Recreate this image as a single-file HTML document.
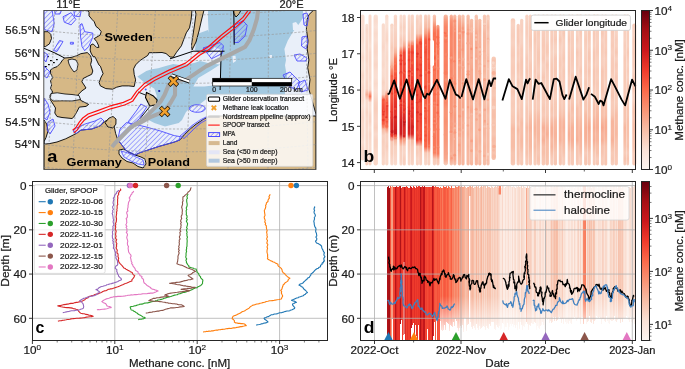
<!DOCTYPE html><html><head><meta charset="utf-8"><style>html,body{margin:0;padding:0;background:#fff;overflow:hidden}svg{display:block;will-change:transform}</style></head><body><svg width="685" height="369" viewBox="0 0 685 369" font-family="Liberation Sans, sans-serif">
<rect x="0.00" y="0.00" width="685.00" height="369.00" fill="#ffffff" />
<clipPath id="clipa"><rect x="43.8" y="10.5" width="272.2" height="158.9"/></clipPath>
<defs><pattern id="hatch" patternUnits="userSpaceOnUse" width="3.4" height="3.4" patternTransform="rotate(45)"><rect width="3.4" height="3.4" fill="none"/><line x1="0" y1="0" x2="0" y2="3.4" stroke="#5a5aff" stroke-width="1.0"/></pattern></defs>
<g clip-path="url(#clipa)">
<rect x="43.80" y="10.50" width="272.20" height="158.90" fill="#e9eff9" />
<polygon points="208.0,10.0 303.0,10.0 303.0,18.0 299.0,24.0 297.5,26.0 292.6,32.6 287.7,40.7 284.4,48.9 286.0,60.0 285.0,65.3 287.4,79.6 285.0,89.1 285.0,95.0 245.0,95.0 232.0,94.0 215.0,97.0 206.5,99.0 200.0,104.0 192.0,106.0 186.0,112.0 182.0,120.0 178.8,123.0 165.0,126.5 154.4,123.0 144.6,118.0 150.0,112.0 154.4,105.9 156.8,96.0 154.4,88.8 144.6,82.7 137.3,76.6 138.7,75.8 146.3,71.0 151.7,69.3 158.2,68.3 165.8,66.1 173.3,63.9 179.8,65.0 189.6,63.9 195.0,62.8 200.0,61.0 210.0,63.5 220.0,64.5 221.5,56.0 222.0,50.0 214.0,47.0 210.0,40.0 208.6,32.0 208.0,20.0" fill="#a3c9e1" stroke="none" stroke-width="1" />
<polygon points="197.0,34.0 208.0,30.0 212.0,40.0 214.0,48.0 208.0,53.0 200.0,54.0 195.0,50.0" fill="#a3c9e1" stroke="none" stroke-width="1" />
<polygon points="193.4,86.6 198.3,78.0 210.5,70.7 220.2,64.6 220.2,80.5 213.0,85.4 204.4,86.6" fill="#e9eff9" stroke="none" stroke-width="1" />
<polygon points="232.5,56.0 235.5,55.7 236.0,61.0 233.0,63.0" fill="#e9eff9" stroke="none" stroke-width="1" />
<polygon points="292.6,23.0 296.0,22.0 299.0,26.0 297.0,31.0 293.0,30.0" fill="#e9eff9" stroke="none" stroke-width="1" />
<polygon points="269.5,55.0 272.0,55.0 272.0,58.0 269.5,58.0" fill="#e9eff9" stroke="none" stroke-width="1" />
<polygon points="87.2,10.0 89.0,12.3 89.0,15.8 91.9,19.3 94.2,21.7 96.0,26.4 98.9,28.7 101.2,31.6 100.1,35.1 96.0,37.5 94.2,38.6 96.6,41.5 98.3,45.0 98.9,47.4 96.6,47.4 93.1,43.9 90.7,45.0 90.1,50.0 91.0,53.0 93.1,56.7 95.0,56.8 98.9,64.9 100.4,66.2 103.1,73.7 101.1,77.1 99.1,82.5 100.4,85.9 105.8,88.6 112.6,89.2 116.7,87.2 122.1,85.9 128.8,85.9 134.2,86.5 135.6,79.8 134.2,74.4 133.6,68.9 135.6,64.9 139.7,60.8 143.7,58.1 147.8,55.4 149.1,52.7 155.9,52.7 162.0,52.5 166.0,53.5 170.0,57.0 173.3,57.2 176.5,52.3 181.4,45.8 183.8,39.3 186.3,32.8 189.5,27.9 191.1,19.8 192.0,10.0" fill="#d6b886" stroke="#000" stroke-width="0.9" stroke-linejoin="round"/>
<polygon points="195.0,10.0 204.0,10.0 201.5,20.0 199.0,31.0 196.0,42.0 192.0,50.0 191.5,45.0 193.0,35.0 194.5,25.0 196.0,14.0" fill="#d6b886" stroke="#000" stroke-width="0.9" stroke-linejoin="round"/>
<polygon points="44.0,31.7 48.1,31.7 50.8,34.4 51.5,38.5 49.4,43.9 45.4,46.6 44.0,46.6" fill="#d6b886" stroke="#000" stroke-width="0.9" stroke-linejoin="round"/>
<polygon points="64.6,58.0 71.1,57.5 76.5,55.8 80.8,53.7 87.3,52.6 90.6,55.8 91.7,60.2 90.6,64.5 92.8,71.0 91.7,74.3 87.3,76.4 83.0,78.6 81.9,81.8 84.1,85.0 86.0,88.0 82.0,90.8 77.9,94.9 80.6,100.3 84.7,102.4 88.7,104.4 86.0,106.4 79.3,107.1 76.5,112.5 73.8,117.0 72.0,118.5 67.0,118.0 62.0,117.5 57.0,116.5 54.8,113.0 55.5,108.0 53.0,104.0 50.5,100.0 50.0,95.0 52.7,92.0 50.5,88.4 51.6,85.0 50.5,80.8 52.7,77.5 50.5,73.2 50.5,69.9 53.8,67.8 57.0,66.7 60.3,63.4 62.4,60.2" fill="#d6b886" stroke="#000" stroke-width="0.9" stroke-linejoin="round"/>
<polygon points="51.0,93.5 57.2,92.8 65.0,94.0 72.0,94.5 79.0,95.5 80.5,99.5 72.0,101.0 62.0,100.8 53.0,101.0 50.0,98.0" fill="#e9eff9" stroke="#000" stroke-width="0.8" stroke-linejoin="round"/>
<polygon points="68.0,60.0 72.0,59.0 76.0,60.0 78.0,64.0 77.0,70.0 74.0,72.0 71.0,68.0 69.0,64.0" fill="#e9eff9" stroke="#000" stroke-width="0.8" />
<rect x="47" y="56" width="1.8" height="1.2" fill="#000"/>
<rect x="50" y="60" width="1.8" height="1.2" fill="#000"/>
<rect x="53" y="62" width="1.8" height="1.2" fill="#000"/>
<rect x="56" y="59" width="1.8" height="1.2" fill="#000"/>
<rect x="48" y="64" width="1.8" height="1.2" fill="#000"/>
<rect x="45" y="66" width="1.8" height="1.2" fill="#000"/>
<polygon points="146.5,92.4 153.0,95.7 157.1,99.8 156.5,104.8 149.8,105.9 145.5,97.5" fill="#d6b886" stroke="#000" stroke-width="1.1" stroke-linejoin="round"/>
<polyline points="149.8,106.5 140.0,118.7" fill="none" stroke="#000" stroke-width="0.9" />
<polyline points="138.0,92.0 145.7,95.1" fill="none" stroke="#000" stroke-width="0.9" />
<polygon points="44.0,120.0 46.7,124.1 48.1,130.8 46.0,137.6 44.0,141.7 44.0,144.2 50.0,143.5 57.0,142.0 65.7,138.8 76.5,133.4 80.9,130.1 91.7,129.0 100.4,125.8 104.7,121.5 109.1,119.3 113.4,122.5 115.6,133.4 117.8,139.9 122.1,145.3 126.4,150.7 135.1,155.1 139.4,152.9 146.0,150.7 159.0,146.4 174.2,142.1 180.0,139.9 184.6,134.5 190.4,128.8 196.1,124.2 203.0,119.6 207.2,117.3 210.0,116.0 316.0,116.0 316.0,172.0 44.0,172.0" fill="#d6b886" stroke="#000" stroke-width="0.9" stroke-linejoin="round"/>
<polygon points="105.0,122.7 109.1,118.0 113.0,116.5 116.0,119.0 115.9,124.1 113.0,128.0 108.0,127.0" fill="#d6b886" stroke="#000" stroke-width="0.9" stroke-linejoin="round"/>
<polygon points="119.0,150.0 124.0,149.0 129.0,152.5 135.0,155.0 141.0,157.0 145.0,159.0 146.0,164.0 143.0,168.0 138.0,166.5 133.0,163.0 127.0,161.5 122.0,158.0 119.0,154.0" fill="#e9eff9" stroke="#000" stroke-width="0.9" stroke-linejoin="round"/>
<polygon points="121.0,151.0 128.0,153.0 136.0,157.0 143.0,160.0 144.0,165.0 138.0,164.0 131.0,161.0 124.0,157.0" fill="url(#hatch)" stroke="#4d4dff" stroke-width="0.8" />
<polygon points="313.7,10.0 316.5,10.0 316.5,116.0 310.5,95.0 308.9,89.1 310.0,79.6 307.7,67.7 308.9,60.0 307.2,48.9 308.0,40.7 306.4,29.3 307.2,19.5 308.9,14.7" fill="#d6b886" stroke="#000" stroke-width="0.9" stroke-linejoin="round"/>
<polygon points="233.0,10.0 241.0,10.0 239.0,14.0 236.0,17.0 234.0,14.0" fill="#d6b886" stroke="#000" stroke-width="0.9" stroke-linejoin="round"/>
<polygon points="44.0,10.0 52.1,10.0 54.2,23.6 52.1,31.7 46.7,30.3 44.0,29.0" fill="url(#hatch)" stroke="#4d4dff" stroke-width="0.9" stroke-linejoin="round"/>
<polygon points="54.8,10.0 61.6,10.0 60.0,14.0 55.0,14.0" fill="url(#hatch)" stroke="#4d4dff" stroke-width="0.9" stroke-linejoin="round"/>
<polygon points="63.0,16.8 71.1,12.7 75.9,19.5 71.1,24.9 64.3,22.2" fill="url(#hatch)" stroke="#4d4dff" stroke-width="0.9" stroke-linejoin="round"/>
<polygon points="73.8,10.0 81.3,10.0 80.0,16.8 74.5,16.0" fill="url(#hatch)" stroke="#4d4dff" stroke-width="0.9" stroke-linejoin="round"/>
<polygon points="53.5,50.5 59.5,40.5 63.0,41.5 57.0,51.5" fill="url(#hatch)" stroke="#4d4dff" stroke-width="0.9" stroke-linejoin="round"/>
<polygon points="70.4,42.3 73.4,42.3 73.4,44.1 70.4,44.1" fill="url(#hatch)" stroke="#4d4dff" stroke-width="0.9" stroke-linejoin="round"/>
<polygon points="79.9,24.9 82.0,23.6 84.7,31.7 92.8,33.1 92.8,37.1 88.7,46.6 84.7,50.7 82.0,46.6 80.6,37.1" fill="url(#hatch)" stroke="#4d4dff" stroke-width="0.9" stroke-linejoin="round"/>
<polygon points="44.0,52.0 48.0,55.0 46.0,62.0 44.0,60.0" fill="url(#hatch)" stroke="#4d4dff" stroke-width="0.9" stroke-linejoin="round"/>
<polygon points="44.0,66.0 50.0,72.0 47.0,78.0 44.0,76.0" fill="url(#hatch)" stroke="#4d4dff" stroke-width="0.9" stroke-linejoin="round"/>
<polygon points="44.0,98.0 48.0,104.0 50.0,112.0 47.0,120.0 44.0,118.0" fill="url(#hatch)" stroke="#4d4dff" stroke-width="0.9" stroke-linejoin="round"/>
<polygon points="48.0,122.0 53.0,119.0 55.0,126.0 50.0,134.0 47.0,130.0" fill="url(#hatch)" stroke="#4d4dff" stroke-width="0.9" stroke-linejoin="round"/>
<polygon points="76.5,128.0 85.0,124.0 95.0,121.0 101.0,118.0 104.0,121.0 100.0,125.8 91.7,129.0 80.9,130.1 76.5,133.4 73.0,131.0" fill="url(#hatch)" stroke="#4d4dff" stroke-width="0.9" stroke-linejoin="round"/>
<polygon points="128.0,122.0 137.0,110.0 140.8,104.0 146.7,106.9 139.3,118.8 132.0,125.0" fill="url(#hatch)" stroke="#4d4dff" stroke-width="0.9" stroke-linejoin="round"/>
<polygon points="120.0,129.0 126.4,122.5 146.0,126.9 161.1,131.2 174.2,135.6 180.0,136.6 180.0,139.9 174.2,142.1 159.0,146.4 146.0,150.7 139.4,152.9 135.1,155.1 126.4,150.7 122.1,145.3 117.8,139.9" fill="url(#hatch)" stroke="#4d4dff" stroke-width="0.9" stroke-linejoin="round"/>
<polygon points="203.0,48.0 220.1,42.5 223.4,45.8 222.3,53.4 211.5,58.8 208.2,54.5" fill="url(#hatch)" stroke="#4d4dff" stroke-width="0.9" stroke-linejoin="round"/>
<polygon points="234.2,25.2 242.9,20.8 247.2,25.2 245.1,36.0 238.6,42.5 234.2,42.5" fill="url(#hatch)" stroke="#4d4dff" stroke-width="0.9" stroke-linejoin="round"/>
<polygon points="303.0,14.0 307.0,13.0 308.5,18.0 307.0,26.0 304.0,25.0" fill="url(#hatch)" stroke="#4d4dff" stroke-width="0.9" stroke-linejoin="round"/>
<polygon points="302.0,37.0 306.5,36.0 308.0,42.0 306.0,49.0 301.5,46.0" fill="url(#hatch)" stroke="#4d4dff" stroke-width="0.9" stroke-linejoin="round"/>
<polygon points="294.0,55.0 300.0,54.0 307.0,58.0 306.0,61.0 297.0,61.0" fill="url(#hatch)" stroke="#4d4dff" stroke-width="0.9" stroke-linejoin="round"/>
<polygon points="283.0,75.0 290.0,72.0 300.0,82.0 296.0,90.0 289.0,86.0" fill="url(#hatch)" stroke="#4d4dff" stroke-width="0.9" stroke-linejoin="round"/>
<polygon points="298.0,83.0 305.0,80.0 308.0,90.0 301.0,92.0" fill="url(#hatch)" stroke="#4d4dff" stroke-width="0.9" stroke-linejoin="round"/>
<ellipse cx="197.3" cy="108.5" rx="8" ry="3.8" fill="url(#hatch)" stroke="#4d4dff" stroke-width="0.9"/>
<polygon points="180.0,136.0 186.0,131.0 192.0,125.5 200.0,120.0 207.0,116.5 207.0,119.5 201.0,123.0 195.0,128.0 190.0,133.0 184.0,138.5" fill="url(#hatch)" stroke="#4d4dff" stroke-width="0.8" />
<line x1="54.7" y1="10.5" x2="48" y2="169.4" stroke="#9a9a9a" stroke-width="0.7" stroke-dasharray="2.2,1.6" fill="none"/>
<line x1="79.6" y1="10.5" x2="72.6" y2="169.4" stroke="#9a9a9a" stroke-width="0.7" stroke-dasharray="2.2,1.6" fill="none"/>
<line x1="117.8" y1="10.5" x2="108" y2="169.4" stroke="#9a9a9a" stroke-width="0.7" stroke-dasharray="2.2,1.6" fill="none"/>
<line x1="155.5" y1="10.5" x2="144.5" y2="169.4" stroke="#9a9a9a" stroke-width="0.7" stroke-dasharray="2.2,1.6" fill="none"/>
<line x1="193.2" y1="10.5" x2="186" y2="169.4" stroke="#9a9a9a" stroke-width="0.7" stroke-dasharray="2.2,1.6" fill="none"/>
<line x1="231" y1="10.5" x2="228" y2="169.4" stroke="#9a9a9a" stroke-width="0.7" stroke-dasharray="2.2,1.6" fill="none"/>
<line x1="268.5" y1="10.5" x2="268" y2="169.4" stroke="#9a9a9a" stroke-width="0.7" stroke-dasharray="2.2,1.6" fill="none"/>
<line x1="306" y1="10.5" x2="308" y2="169.4" stroke="#9a9a9a" stroke-width="0.7" stroke-dasharray="2.2,1.6" fill="none"/>
<path d="M44,7.7 Q180,22.3 316,7.7" stroke="#9a9a9a" stroke-width="0.7" stroke-dasharray="2.2,1.6" fill="none"/>
<path d="M44,30.5 Q180,45.1 316,30.5" stroke="#9a9a9a" stroke-width="0.7" stroke-dasharray="2.2,1.6" fill="none"/>
<path d="M44,53.3 Q180,67.9 316,53.3" stroke="#9a9a9a" stroke-width="0.7" stroke-dasharray="2.2,1.6" fill="none"/>
<path d="M44,76.1 Q180,90.7 316,76.1" stroke="#9a9a9a" stroke-width="0.7" stroke-dasharray="2.2,1.6" fill="none"/>
<path d="M44,98.9 Q180,113.5 316,98.9" stroke="#9a9a9a" stroke-width="0.7" stroke-dasharray="2.2,1.6" fill="none"/>
<path d="M44,121.7 Q180,136.3 316,121.7" stroke="#9a9a9a" stroke-width="0.7" stroke-dasharray="2.2,1.6" fill="none"/>
<path d="M44,144.5 Q180,159.1 316,144.5" stroke="#9a9a9a" stroke-width="0.7" stroke-dasharray="2.2,1.6" fill="none"/>
<path d="M44,167.3 Q180,181.9 316,167.3" stroke="#9a9a9a" stroke-width="0.7" stroke-dasharray="2.2,1.6" fill="none"/>
<polyline points="170.0,58.8 180.0,55.6 193.0,51.2 224.5,51.2" fill="none" stroke="#000" stroke-width="1.0" />
<line x1="221.20" y1="51.20" x2="220.10" y2="90.00" stroke="#000" stroke-width="1.0" />
<line x1="233.80" y1="10.00" x2="234.20" y2="44.70" stroke="#000" stroke-width="1.0" />
<polyline points="44.0,48.3 55.0,53.0 64.6,58.0" fill="none" stroke="#000" stroke-width="1.0" />
<polyline points="258.1,10 257,18.7 253.8,29.5 249.4,40.4 245.1,46.9 232.1,53.4 219,59.9 206,66.4 193,75.1 186.5,79.4 178,81 173.2,81.2 168.5,85.4 164.5,95 161,101 154.2,108.4 142.3,120.3 134.8,124.8 130.3,127.8 122.9,135.2 115.4,142.7 112,147" stroke="#a8a8a8" stroke-width="4.1" fill="none" stroke-linejoin="round" stroke-linecap="butt"/>
<polyline points="173.2,81.2 175.1,85.4 175,95 171,102 164.6,111.4 149.7,117.4 139.3,123.3 134.8,124.8" stroke="#a8a8a8" stroke-width="4.1" fill="none" stroke-linejoin="round" stroke-linecap="butt"/>
<polyline points="249.4,8.7 242.9,17.4 234.2,25.0 221.2,35.2 208.2,46.7 198.4,52.7 185.5,63.1 168.4,70.4 153.8,77.7 144.0,83.8 136.7,91.1 131.4,98.7 123.4,102.4 109.4,106.2 97.6,110.6 88.1,114.0 82.7,118.0 79.3,122.1 75.9,127.5 72.6,130.2" fill="none" stroke="#ff1010" stroke-width="1.2" stroke-linejoin="round"/>
<polyline points="250.6,11.3 244.1,20.0 235.4,27.6 222.4,37.8 209.4,49.3 199.6,55.3 186.7,65.7 169.6,73.0 155.0,80.3 145.2,86.4 137.9,93.7 132.6,101.3 124.6,105.0 110.6,108.8 98.8,113.2 89.3,116.6 83.9,120.6 80.5,124.7 77.1,130.1 73.8,132.8" fill="none" stroke="#ff1010" stroke-width="1.2" stroke-linejoin="round"/>
<line x1="171.50" y1="75.30" x2="189.50" y2="81.80" stroke="#111" stroke-width="3.6" />
<line x1="171.50" y1="75.10" x2="189.50" y2="81.50" stroke="#ffffff" stroke-width="2.0" />
<circle cx="159.2" cy="91" r="1.1" fill="#1010a0"/><circle cx="145.7" cy="89.4" r="1" fill="#5060ff"/>
<line x1="170.50" y1="78.30" x2="176.30" y2="84.10" stroke="#1a1000" stroke-width="4.0" stroke-linecap="square"/>
<line x1="170.50" y1="84.10" x2="176.30" y2="78.30" stroke="#1a1000" stroke-width="4.0" stroke-linecap="square"/>
<line x1="170.50" y1="78.30" x2="176.30" y2="84.10" stroke="#f2a12e" stroke-width="2.7" stroke-linecap="square"/>
<line x1="170.50" y1="84.10" x2="176.30" y2="78.30" stroke="#f2a12e" stroke-width="2.7" stroke-linecap="square"/>
<line x1="161.80" y1="108.60" x2="167.60" y2="114.40" stroke="#1a1000" stroke-width="4.0" stroke-linecap="square"/>
<line x1="161.80" y1="114.40" x2="167.60" y2="108.60" stroke="#1a1000" stroke-width="4.0" stroke-linecap="square"/>
<line x1="161.80" y1="108.60" x2="167.60" y2="114.40" stroke="#f2a12e" stroke-width="2.7" stroke-linecap="square"/>
<line x1="161.80" y1="114.40" x2="167.60" y2="108.60" stroke="#f2a12e" stroke-width="2.7" stroke-linecap="square"/>
</g>
<rect x="212.70" y="78.30" width="79.00" height="7.70" fill="#ffffff" stroke="#000" stroke-width="0.7"/>
<rect x="212.70" y="78.30" width="39.10" height="3.85" fill="#000" />
<rect x="251.80" y="82.15" width="39.90" height="3.85" fill="#000" />
<text x="214.30" y="92.30" font-size="6.45" text-anchor="middle" font-weight="normal" fill="#1a1a1a" stroke="#1a1a1a" stroke-width="0.22" textLength="3.82" lengthAdjust="spacingAndGlyphs">0</text>
<text x="251.80" y="92.30" font-size="6.45" text-anchor="middle" font-weight="normal" fill="#1a1a1a" stroke="#1a1a1a" stroke-width="0.22" textLength="11.45" lengthAdjust="spacingAndGlyphs">100</text>
<text x="280.00" y="92.30" font-size="6.45" text-anchor="start" font-weight="normal" fill="#1a1a1a" stroke="#1a1a1a" stroke-width="0.22" textLength="22.68" lengthAdjust="spacingAndGlyphs">200 km</text>
<rect x="206.5" y="94.3" width="106.3" height="72.1" rx="1.5" fill="#ffffff" fill-opacity="0.82" stroke="#d0d0d0" stroke-width="0.7"/>
<rect x="208.40" y="97.00" width="11.20" height="4.20" fill="#ffffff" stroke="#000" stroke-width="1.1" rx="1"/>
<line x1="211.70" y1="105.60" x2="216.10" y2="110.00" stroke="#f2a12e" stroke-width="1.9" />
<line x1="211.70" y1="110.00" x2="216.10" y2="105.60" stroke="#f2a12e" stroke-width="1.9" />
<line x1="208.20" y1="116.70" x2="219.70" y2="116.70" stroke="#cfcfcf" stroke-width="2.2" />
<line x1="208.20" y1="125.10" x2="219.70" y2="125.10" stroke="#ff1010" stroke-width="1.1" />
<rect x="208.60" y="132.60" width="11.00" height="3.90" fill="url(#hatch)" stroke="#4d4dff" stroke-width="1"/>
<rect x="208.60" y="141.10" width="11.00" height="4.00" fill="#d6b990" />
<rect x="208.60" y="150.30" width="11.00" height="4.00" fill="#e4e6f6" />
<rect x="208.60" y="158.70" width="11.00" height="4.00" fill="#b2c8df" />
<text x="222.80" y="101.00" font-size="6.40" text-anchor="start" font-weight="normal" fill="#1a1a1a" stroke="#1a1a1a" stroke-width="0.22" textLength="81.33" lengthAdjust="spacingAndGlyphs">Glider observation transect</text>
<text x="222.80" y="109.70" font-size="6.40" text-anchor="start" font-weight="normal" fill="#1a1a1a" stroke="#1a1a1a" stroke-width="0.22" textLength="65.77" lengthAdjust="spacingAndGlyphs">Methane leak location</text>
<text x="222.80" y="118.60" font-size="6.40" text-anchor="start" font-weight="normal" fill="#1a1a1a" stroke="#1a1a1a" stroke-width="0.22" textLength="87.59" lengthAdjust="spacingAndGlyphs">Nordstream pipeline (approx)</text>
<text x="222.80" y="127.00" font-size="6.40" text-anchor="start" font-weight="normal" fill="#1a1a1a" stroke="#1a1a1a" stroke-width="0.22" textLength="46.77" lengthAdjust="spacingAndGlyphs">SPOOP transect</text>
<text x="222.80" y="136.40" font-size="6.40" text-anchor="start" font-weight="normal" fill="#1a1a1a" stroke="#1a1a1a" stroke-width="0.22" textLength="12.41" lengthAdjust="spacingAndGlyphs">MPA</text>
<text x="222.80" y="145.00" font-size="6.40" text-anchor="start" font-weight="normal" fill="#1a1a1a" stroke="#1a1a1a" stroke-width="0.22" textLength="14.51" lengthAdjust="spacingAndGlyphs">Land</text>
<text x="222.80" y="154.20" font-size="6.40" text-anchor="start" font-weight="normal" fill="#1a1a1a" stroke="#1a1a1a" stroke-width="0.22" textLength="54.63" lengthAdjust="spacingAndGlyphs">Sea (&lt;50 m deep)</text>
<text x="222.80" y="162.60" font-size="6.40" text-anchor="start" font-weight="normal" fill="#1a1a1a" stroke="#1a1a1a" stroke-width="0.22" textLength="54.63" lengthAdjust="spacingAndGlyphs">Sea (&gt;50 m deep)</text>
<text x="104.60" y="40.80" font-size="11.72" text-anchor="start" font-weight="bold" fill="#000" textLength="48.27" lengthAdjust="spacingAndGlyphs">Sweden</text>
<text x="66.60" y="165.60" font-size="11.72" text-anchor="start" font-weight="bold" fill="#000" textLength="55.29" lengthAdjust="spacingAndGlyphs">Germany</text>
<text x="147.80" y="165.60" font-size="11.72" text-anchor="start" font-weight="bold" fill="#000" textLength="42.13" lengthAdjust="spacingAndGlyphs">Poland</text>
<text x="47.30" y="161.80" font-size="15.60" text-anchor="start" font-weight="bold" fill="#000" textLength="10.12" lengthAdjust="spacingAndGlyphs">a</text>
<rect x="43.8" y="10.5" width="272.2" height="158.9" fill="none" stroke="#444" stroke-width="0.9"/>
<text x="68.40" y="7.70" font-size="10.75" text-anchor="middle" font-weight="normal" fill="#1a1a1a" stroke="#1a1a1a" stroke-width="0.22" textLength="24.04" lengthAdjust="spacingAndGlyphs">11°E</text>
<text x="291.60" y="7.70" font-size="10.75" text-anchor="middle" font-weight="normal" fill="#1a1a1a" stroke="#1a1a1a" stroke-width="0.22" textLength="24.04" lengthAdjust="spacingAndGlyphs">20°E</text>
<text x="40.10" y="34.40" font-size="10.75" text-anchor="end" font-weight="normal" fill="#1a1a1a" stroke="#1a1a1a" stroke-width="0.22" textLength="34.75" lengthAdjust="spacingAndGlyphs">56.5°N</text>
<text x="40.10" y="57.20" font-size="10.75" text-anchor="end" font-weight="normal" fill="#1a1a1a" stroke="#1a1a1a" stroke-width="0.22" textLength="25.21" lengthAdjust="spacingAndGlyphs">56°N</text>
<text x="40.10" y="80.00" font-size="10.75" text-anchor="end" font-weight="normal" fill="#1a1a1a" stroke="#1a1a1a" stroke-width="0.22" textLength="34.75" lengthAdjust="spacingAndGlyphs">55.5°N</text>
<text x="40.10" y="102.80" font-size="10.75" text-anchor="end" font-weight="normal" fill="#1a1a1a" stroke="#1a1a1a" stroke-width="0.22" textLength="25.21" lengthAdjust="spacingAndGlyphs">55°N</text>
<text x="40.10" y="125.60" font-size="10.75" text-anchor="end" font-weight="normal" fill="#1a1a1a" stroke="#1a1a1a" stroke-width="0.22" textLength="34.75" lengthAdjust="spacingAndGlyphs">54.5°N</text>
<text x="40.10" y="148.40" font-size="10.75" text-anchor="end" font-weight="normal" fill="#1a1a1a" stroke="#1a1a1a" stroke-width="0.22" textLength="25.21" lengthAdjust="spacingAndGlyphs">54°N</text>
<defs>
<linearGradient id="gb0" x1="0" y1="0" x2="0" y2="1"><stop offset="0.000" stop-color="#fae0d4"/><stop offset="0.042" stop-color="#fadccf"/><stop offset="0.083" stop-color="#faded2"/><stop offset="0.125" stop-color="#f9dbce"/><stop offset="0.167" stop-color="#f9dbcd"/><stop offset="0.208" stop-color="#fae1d6"/><stop offset="0.250" stop-color="#fae2d6"/><stop offset="0.292" stop-color="#f9d8ca"/><stop offset="0.333" stop-color="#fadfd2"/><stop offset="0.375" stop-color="#fadfd2"/><stop offset="0.417" stop-color="#f9d6c7"/><stop offset="0.458" stop-color="#fadcce"/><stop offset="0.500" stop-color="#f9d7c9"/><stop offset="0.542" stop-color="#f9d9cb"/><stop offset="0.583" stop-color="#f9d8c9"/><stop offset="0.625" stop-color="#fadfd3"/><stop offset="0.667" stop-color="#f9d9cb"/><stop offset="0.708" stop-color="#f9d6c7"/><stop offset="0.750" stop-color="#f9dacc"/><stop offset="0.792" stop-color="#f9d8c9"/><stop offset="0.833" stop-color="#f9d8ca"/><stop offset="0.875" stop-color="#fadfd3"/><stop offset="0.917" stop-color="#f9d7c8"/><stop offset="0.958" stop-color="#f9d9cb"/><stop offset="1.000" stop-color="#fadccf"/></linearGradient>
<linearGradient id="gb1" x1="0" y1="0" x2="0" y2="1"><stop offset="0.000" stop-color="#fae2d6"/><stop offset="0.042" stop-color="#f9d8ca"/><stop offset="0.083" stop-color="#fadccf"/><stop offset="0.125" stop-color="#f9d9cb"/><stop offset="0.167" stop-color="#f9d7c9"/><stop offset="0.208" stop-color="#f9d9cb"/><stop offset="0.250" stop-color="#f9d6c7"/><stop offset="0.292" stop-color="#fadccf"/><stop offset="0.333" stop-color="#f9d7c9"/><stop offset="0.375" stop-color="#f9dbce"/><stop offset="0.417" stop-color="#f9d5c6"/><stop offset="0.458" stop-color="#f9d6c7"/><stop offset="0.500" stop-color="#f7ae95"/><stop offset="0.542" stop-color="#f9dbce"/><stop offset="0.583" stop-color="#faddd0"/><stop offset="0.625" stop-color="#f9d4c4"/><stop offset="0.667" stop-color="#f9dacc"/><stop offset="0.708" stop-color="#f9d7c9"/><stop offset="0.750" stop-color="#f9dbcd"/><stop offset="0.792" stop-color="#f9d8ca"/><stop offset="0.833" stop-color="#f9d9cb"/><stop offset="0.875" stop-color="#f9dacc"/><stop offset="0.917" stop-color="#f9d7c8"/><stop offset="0.958" stop-color="#f9d6c7"/><stop offset="1.000" stop-color="#f8d2c2"/></linearGradient>
<linearGradient id="gb2" x1="0" y1="0" x2="0" y2="1"><stop offset="0.000" stop-color="#f9dbcd"/><stop offset="0.042" stop-color="#f9d8c9"/><stop offset="0.083" stop-color="#f9d8ca"/><stop offset="0.125" stop-color="#f9d7c8"/><stop offset="0.167" stop-color="#f9dacc"/><stop offset="0.208" stop-color="#fae0d3"/><stop offset="0.250" stop-color="#f9d7c9"/><stop offset="0.292" stop-color="#f9d6c7"/><stop offset="0.333" stop-color="#f9d6c7"/><stop offset="0.375" stop-color="#f9dacc"/><stop offset="0.417" stop-color="#f9d8ca"/><stop offset="0.458" stop-color="#faded1"/><stop offset="0.500" stop-color="#f9d6c7"/><stop offset="0.542" stop-color="#fa7555"/><stop offset="0.583" stop-color="#fadccf"/><stop offset="0.625" stop-color="#fadfd2"/><stop offset="0.667" stop-color="#f9d5c6"/><stop offset="0.708" stop-color="#f9d3c4"/><stop offset="0.750" stop-color="#faded1"/><stop offset="0.792" stop-color="#f9d5c6"/><stop offset="0.833" stop-color="#f9d9cb"/><stop offset="0.875" stop-color="#fadccf"/><stop offset="0.917" stop-color="#f9dacc"/><stop offset="0.958" stop-color="#f9d4c5"/><stop offset="1.000" stop-color="#f8d3c3"/></linearGradient>
<linearGradient id="gb3" x1="0" y1="0" x2="0" y2="1"><stop offset="0.000" stop-color="#fae2d6"/><stop offset="0.042" stop-color="#f9dbce"/><stop offset="0.083" stop-color="#fae1d6"/><stop offset="0.125" stop-color="#f9dacc"/><stop offset="0.167" stop-color="#faded1"/><stop offset="0.208" stop-color="#f9d7c8"/><stop offset="0.250" stop-color="#f9d6c7"/><stop offset="0.292" stop-color="#f9dbcd"/><stop offset="0.333" stop-color="#f9d5c6"/><stop offset="0.375" stop-color="#faddd0"/><stop offset="0.417" stop-color="#fadfd3"/><stop offset="0.458" stop-color="#f9d9cb"/><stop offset="0.500" stop-color="#fadfd3"/><stop offset="0.542" stop-color="#f9d9cb"/><stop offset="0.583" stop-color="#f8d0bf"/><stop offset="0.625" stop-color="#f8cdbb"/><stop offset="0.667" stop-color="#f8d2c2"/><stop offset="0.708" stop-color="#f9d4c5"/><stop offset="0.750" stop-color="#f8cfbe"/><stop offset="0.792" stop-color="#f9d9cb"/><stop offset="0.833" stop-color="#f8d2c2"/><stop offset="0.875" stop-color="#f8d3c2"/><stop offset="0.917" stop-color="#f9d9ca"/><stop offset="0.958" stop-color="#f9d8c9"/><stop offset="1.000" stop-color="#f9d7c8"/></linearGradient>
<linearGradient id="gb4" x1="0" y1="0" x2="0" y2="1"><stop offset="0.000" stop-color="#f9dbcd"/><stop offset="0.042" stop-color="#f9dbcd"/><stop offset="0.083" stop-color="#f9dbcd"/><stop offset="0.125" stop-color="#f9dacc"/><stop offset="0.167" stop-color="#f9d5c6"/><stop offset="0.208" stop-color="#f9dacc"/><stop offset="0.250" stop-color="#f9dacd"/><stop offset="0.292" stop-color="#f9d7c8"/><stop offset="0.333" stop-color="#fadccf"/><stop offset="0.375" stop-color="#f9dbcd"/><stop offset="0.417" stop-color="#f8d2c2"/><stop offset="0.458" stop-color="#f9d7c9"/><stop offset="0.500" stop-color="#f8cdbb"/><stop offset="0.542" stop-color="#f85e42"/><stop offset="0.583" stop-color="#f44f39"/><stop offset="0.625" stop-color="#f14431"/><stop offset="0.667" stop-color="#f7593f"/><stop offset="0.708" stop-color="#f85e42"/><stop offset="0.750" stop-color="#f7bca5"/><stop offset="0.792" stop-color="#f8d2c2"/><stop offset="0.833" stop-color="#f8cebc"/><stop offset="0.875" stop-color="#f8d2c1"/><stop offset="0.917" stop-color="#f8d1c0"/><stop offset="0.958" stop-color="#f9d7c8"/><stop offset="1.000" stop-color="#f9d5c5"/></linearGradient>
<linearGradient id="gb5" x1="0" y1="0" x2="0" y2="1"><stop offset="0.000" stop-color="#f9dacc"/><stop offset="0.042" stop-color="#fae2d6"/><stop offset="0.083" stop-color="#fae1d5"/><stop offset="0.125" stop-color="#f9d9cb"/><stop offset="0.167" stop-color="#f9d6c6"/><stop offset="0.208" stop-color="#faddd1"/><stop offset="0.250" stop-color="#f9dbcd"/><stop offset="0.292" stop-color="#f9d9ca"/><stop offset="0.333" stop-color="#f9dbce"/><stop offset="0.375" stop-color="#f9dacc"/><stop offset="0.417" stop-color="#f9dacd"/><stop offset="0.458" stop-color="#f9d9cb"/><stop offset="0.500" stop-color="#f9d6c7"/><stop offset="0.542" stop-color="#f88667"/><stop offset="0.583" stop-color="#f5533c"/><stop offset="0.625" stop-color="#f24532"/><stop offset="0.667" stop-color="#f45039"/><stop offset="0.708" stop-color="#f5523a"/><stop offset="0.750" stop-color="#f89071"/><stop offset="0.792" stop-color="#f8cfbd"/><stop offset="0.833" stop-color="#f8d2c2"/><stop offset="0.875" stop-color="#f8cdbb"/><stop offset="0.917" stop-color="#f9d6c7"/><stop offset="0.958" stop-color="#f9d9ca"/><stop offset="1.000" stop-color="#f9d8c9"/></linearGradient>
<linearGradient id="gb6" x1="0" y1="0" x2="0" y2="1"><stop offset="0.000" stop-color="#f9d5c5"/><stop offset="0.042" stop-color="#f9dacc"/><stop offset="0.083" stop-color="#f9d5c6"/><stop offset="0.125" stop-color="#f9d3c3"/><stop offset="0.167" stop-color="#f8ccb9"/><stop offset="0.208" stop-color="#f8cebd"/><stop offset="0.250" stop-color="#f7c8b4"/><stop offset="0.292" stop-color="#f7ae94"/><stop offset="0.333" stop-color="#f88667"/><stop offset="0.375" stop-color="#fa6648"/><stop offset="0.417" stop-color="#f75b40"/><stop offset="0.458" stop-color="#f7593f"/><stop offset="0.500" stop-color="#f5543c"/><stop offset="0.542" stop-color="#f34c37"/><stop offset="0.583" stop-color="#f03e2e"/><stop offset="0.625" stop-color="#ef3b2c"/><stop offset="0.667" stop-color="#e22e27"/><stop offset="0.708" stop-color="#da2623"/><stop offset="0.750" stop-color="#da2723"/><stop offset="0.792" stop-color="#eb382b"/><stop offset="0.833" stop-color="#f7c8b5"/><stop offset="0.875" stop-color="#f8cdbb"/><stop offset="0.917" stop-color="#f8cebc"/><stop offset="0.958" stop-color="#f9d6c7"/><stop offset="1.000" stop-color="#f9dbce"/></linearGradient>
<linearGradient id="gb7" x1="0" y1="0" x2="0" y2="1"><stop offset="0.000" stop-color="#fadccf"/><stop offset="0.042" stop-color="#f9d3c3"/><stop offset="0.083" stop-color="#f9d6c7"/><stop offset="0.125" stop-color="#f8d1c1"/><stop offset="0.167" stop-color="#f8cdbb"/><stop offset="0.208" stop-color="#f8cab7"/><stop offset="0.250" stop-color="#f7b198"/><stop offset="0.292" stop-color="#f97a5a"/><stop offset="0.333" stop-color="#fa6648"/><stop offset="0.375" stop-color="#f85e42"/><stop offset="0.417" stop-color="#f24733"/><stop offset="0.458" stop-color="#f14230"/><stop offset="0.500" stop-color="#ef3b2c"/><stop offset="0.542" stop-color="#ef3d2d"/><stop offset="0.583" stop-color="#e63228"/><stop offset="0.625" stop-color="#e22e27"/><stop offset="0.667" stop-color="#e63228"/><stop offset="0.708" stop-color="#da2723"/><stop offset="0.750" stop-color="#d21f20"/><stop offset="0.792" stop-color="#cd1a1e"/><stop offset="0.833" stop-color="#f7b79f"/><stop offset="0.875" stop-color="#f8d1c0"/><stop offset="0.917" stop-color="#f9d3c3"/><stop offset="0.958" stop-color="#f9d7c9"/><stop offset="1.000" stop-color="#fadccf"/></linearGradient>
<linearGradient id="gb8" x1="0" y1="0" x2="0" y2="1"><stop offset="0.000" stop-color="#fadcce"/><stop offset="0.042" stop-color="#fadccf"/><stop offset="0.083" stop-color="#f8d2c2"/><stop offset="0.125" stop-color="#f9d8c9"/><stop offset="0.167" stop-color="#f8cab8"/><stop offset="0.208" stop-color="#f8c9b6"/><stop offset="0.250" stop-color="#fb6d4e"/><stop offset="0.292" stop-color="#f34b36"/><stop offset="0.333" stop-color="#f24834"/><stop offset="0.375" stop-color="#f34a36"/><stop offset="0.417" stop-color="#f44f39"/><stop offset="0.458" stop-color="#f14130"/><stop offset="0.500" stop-color="#f24734"/><stop offset="0.542" stop-color="#f14230"/><stop offset="0.583" stop-color="#eb372a"/><stop offset="0.625" stop-color="#e43128"/><stop offset="0.667" stop-color="#dd2a25"/><stop offset="0.708" stop-color="#cf1c1f"/><stop offset="0.750" stop-color="#cd1a1e"/><stop offset="0.792" stop-color="#d01d1f"/><stop offset="0.833" stop-color="#f89375"/><stop offset="0.875" stop-color="#f8cab6"/><stop offset="0.917" stop-color="#f8d1c0"/><stop offset="0.958" stop-color="#f8d1c0"/><stop offset="1.000" stop-color="#f9d9cb"/></linearGradient>
<linearGradient id="gb9" x1="0" y1="0" x2="0" y2="1"><stop offset="0.000" stop-color="#faddd1"/><stop offset="0.042" stop-color="#f9d6c7"/><stop offset="0.083" stop-color="#f8d0bf"/><stop offset="0.125" stop-color="#f9d4c5"/><stop offset="0.167" stop-color="#f8cab7"/><stop offset="0.208" stop-color="#f7a88d"/><stop offset="0.250" stop-color="#f24734"/><stop offset="0.292" stop-color="#f24532"/><stop offset="0.333" stop-color="#f44f39"/><stop offset="0.375" stop-color="#f14432"/><stop offset="0.417" stop-color="#f03f2e"/><stop offset="0.458" stop-color="#f34935"/><stop offset="0.500" stop-color="#f14431"/><stop offset="0.542" stop-color="#f14230"/><stop offset="0.583" stop-color="#ed3a2b"/><stop offset="0.625" stop-color="#e83429"/><stop offset="0.667" stop-color="#e02c26"/><stop offset="0.708" stop-color="#d52221"/><stop offset="0.750" stop-color="#da2723"/><stop offset="0.792" stop-color="#dd2a25"/><stop offset="0.833" stop-color="#f79c80"/><stop offset="0.875" stop-color="#f8d2c2"/><stop offset="0.917" stop-color="#f9d6c7"/><stop offset="0.958" stop-color="#f8cebd"/><stop offset="1.000" stop-color="#f9d3c3"/></linearGradient>
<linearGradient id="gb10" x1="0" y1="0" x2="0" y2="1"><stop offset="0.000" stop-color="#fadfd2"/><stop offset="0.042" stop-color="#f9d5c6"/><stop offset="0.083" stop-color="#f8d3c3"/><stop offset="0.125" stop-color="#f8cebd"/><stop offset="0.167" stop-color="#f8c9b6"/><stop offset="0.208" stop-color="#f98162"/><stop offset="0.250" stop-color="#f34a35"/><stop offset="0.292" stop-color="#f34b36"/><stop offset="0.333" stop-color="#f34c37"/><stop offset="0.375" stop-color="#f24834"/><stop offset="0.417" stop-color="#f34935"/><stop offset="0.458" stop-color="#f14130"/><stop offset="0.500" stop-color="#ef3d2d"/><stop offset="0.542" stop-color="#f0402f"/><stop offset="0.583" stop-color="#f0402f"/><stop offset="0.625" stop-color="#eb372a"/><stop offset="0.667" stop-color="#e22f27"/><stop offset="0.708" stop-color="#d92623"/><stop offset="0.750" stop-color="#d11e1f"/><stop offset="0.792" stop-color="#da2723"/><stop offset="0.833" stop-color="#f7c7b4"/><stop offset="0.875" stop-color="#f8cdbb"/><stop offset="0.917" stop-color="#f8d2c2"/><stop offset="0.958" stop-color="#f9d6c6"/><stop offset="1.000" stop-color="#f9d7c8"/></linearGradient>
<linearGradient id="gb11" x1="0" y1="0" x2="0" y2="1"><stop offset="0.000" stop-color="#f9d5c6"/><stop offset="0.042" stop-color="#f9d4c4"/><stop offset="0.083" stop-color="#f8cdba"/><stop offset="0.125" stop-color="#f8cbb8"/><stop offset="0.167" stop-color="#f8c9b6"/><stop offset="0.208" stop-color="#fa6748"/><stop offset="0.250" stop-color="#f24834"/><stop offset="0.292" stop-color="#f44f39"/><stop offset="0.333" stop-color="#f24834"/><stop offset="0.375" stop-color="#f24633"/><stop offset="0.417" stop-color="#f03e2e"/><stop offset="0.458" stop-color="#ef3b2c"/><stop offset="0.500" stop-color="#f14230"/><stop offset="0.542" stop-color="#ed392b"/><stop offset="0.583" stop-color="#eb372a"/><stop offset="0.625" stop-color="#ec382b"/><stop offset="0.667" stop-color="#e43027"/><stop offset="0.708" stop-color="#e22f27"/><stop offset="0.750" stop-color="#d52221"/><stop offset="0.792" stop-color="#dc2824"/><stop offset="0.833" stop-color="#f7b8a0"/><stop offset="0.875" stop-color="#f8cbb8"/><stop offset="0.917" stop-color="#f8cfbe"/><stop offset="0.958" stop-color="#f8d1c1"/><stop offset="1.000" stop-color="#f9d6c7"/></linearGradient>
<linearGradient id="gb12" x1="0" y1="0" x2="0" y2="1"><stop offset="0.000" stop-color="#fadcce"/><stop offset="0.042" stop-color="#f8cfbe"/><stop offset="0.083" stop-color="#f8d0bf"/><stop offset="0.125" stop-color="#f7c7b4"/><stop offset="0.167" stop-color="#f88667"/><stop offset="0.208" stop-color="#f5523b"/><stop offset="0.250" stop-color="#f5513a"/><stop offset="0.292" stop-color="#f45039"/><stop offset="0.333" stop-color="#f14331"/><stop offset="0.375" stop-color="#f44d38"/><stop offset="0.417" stop-color="#f44f38"/><stop offset="0.458" stop-color="#f14130"/><stop offset="0.500" stop-color="#f34b36"/><stop offset="0.542" stop-color="#f0402f"/><stop offset="0.583" stop-color="#f14230"/><stop offset="0.625" stop-color="#f03f2f"/><stop offset="0.667" stop-color="#f03e2e"/><stop offset="0.708" stop-color="#f14431"/><stop offset="0.750" stop-color="#f0402f"/><stop offset="0.792" stop-color="#f34c37"/><stop offset="0.833" stop-color="#f14130"/><stop offset="0.875" stop-color="#f8cbb8"/><stop offset="0.917" stop-color="#f8ccba"/><stop offset="0.958" stop-color="#f9d6c7"/><stop offset="1.000" stop-color="#f8d1c1"/></linearGradient>
<linearGradient id="gb13" x1="0" y1="0" x2="0" y2="1"><stop offset="0.000" stop-color="#f8d2c2"/><stop offset="0.042" stop-color="#f9d5c6"/><stop offset="0.083" stop-color="#f8cbb8"/><stop offset="0.125" stop-color="#f7c1ab"/><stop offset="0.167" stop-color="#fa6648"/><stop offset="0.208" stop-color="#f44f39"/><stop offset="0.250" stop-color="#f44f39"/><stop offset="0.292" stop-color="#f44d38"/><stop offset="0.333" stop-color="#f24734"/><stop offset="0.375" stop-color="#f14432"/><stop offset="0.417" stop-color="#f34935"/><stop offset="0.458" stop-color="#f24835"/><stop offset="0.500" stop-color="#f24734"/><stop offset="0.542" stop-color="#f24734"/><stop offset="0.583" stop-color="#f24633"/><stop offset="0.625" stop-color="#f34c37"/><stop offset="0.667" stop-color="#f24734"/><stop offset="0.708" stop-color="#f04130"/><stop offset="0.750" stop-color="#f34a36"/><stop offset="0.792" stop-color="#f24633"/><stop offset="0.833" stop-color="#f4503a"/><stop offset="0.875" stop-color="#f7c0a9"/><stop offset="0.917" stop-color="#f8cbb9"/><stop offset="0.958" stop-color="#f8cfbe"/><stop offset="1.000" stop-color="#f9d4c4"/></linearGradient>
<linearGradient id="gb14" x1="0" y1="0" x2="0" y2="1"><stop offset="0.000" stop-color="#f8d1c1"/><stop offset="0.042" stop-color="#f7c7b3"/><stop offset="0.083" stop-color="#f7baa3"/><stop offset="0.125" stop-color="#f79b7e"/><stop offset="0.167" stop-color="#f75b40"/><stop offset="0.208" stop-color="#f5523b"/><stop offset="0.250" stop-color="#f4503a"/><stop offset="0.292" stop-color="#f6573e"/><stop offset="0.333" stop-color="#f7593f"/><stop offset="0.375" stop-color="#f6563d"/><stop offset="0.417" stop-color="#f85f43"/><stop offset="0.458" stop-color="#f85e43"/><stop offset="0.500" stop-color="#f86044"/><stop offset="0.542" stop-color="#f75b41"/><stop offset="0.583" stop-color="#f86044"/><stop offset="0.625" stop-color="#f96245"/><stop offset="0.667" stop-color="#f75c41"/><stop offset="0.708" stop-color="#f7593f"/><stop offset="0.750" stop-color="#f96446"/><stop offset="0.792" stop-color="#f85f43"/><stop offset="0.833" stop-color="#f96446"/><stop offset="0.875" stop-color="#fa6648"/><stop offset="0.917" stop-color="#f8cab7"/><stop offset="0.958" stop-color="#f8d3c3"/><stop offset="1.000" stop-color="#f9d7c9"/></linearGradient>
<linearGradient id="gb15" x1="0" y1="0" x2="0" y2="1"><stop offset="0.000" stop-color="#f9d7c8"/><stop offset="0.042" stop-color="#f7c6b2"/><stop offset="0.083" stop-color="#f7bca5"/><stop offset="0.125" stop-color="#f98364"/><stop offset="0.167" stop-color="#f75c41"/><stop offset="0.208" stop-color="#f85d42"/><stop offset="0.250" stop-color="#f6573e"/><stop offset="0.292" stop-color="#f96245"/><stop offset="0.333" stop-color="#f6563d"/><stop offset="0.375" stop-color="#f85e43"/><stop offset="0.417" stop-color="#f85d42"/><stop offset="0.458" stop-color="#f96044"/><stop offset="0.500" stop-color="#f75c41"/><stop offset="0.542" stop-color="#f85d41"/><stop offset="0.583" stop-color="#f96145"/><stop offset="0.625" stop-color="#f96346"/><stop offset="0.667" stop-color="#f96144"/><stop offset="0.708" stop-color="#f85f43"/><stop offset="0.750" stop-color="#fa6748"/><stop offset="0.792" stop-color="#f96346"/><stop offset="0.833" stop-color="#f96044"/><stop offset="0.875" stop-color="#fa6f50"/><stop offset="0.917" stop-color="#f8cbb8"/><stop offset="0.958" stop-color="#f8d3c3"/><stop offset="1.000" stop-color="#f8d2c1"/></linearGradient>
<linearGradient id="gb16" x1="0" y1="0" x2="0" y2="1"><stop offset="0.000" stop-color="#f8c9b6"/><stop offset="0.042" stop-color="#f7b39a"/><stop offset="0.083" stop-color="#f88869"/><stop offset="0.125" stop-color="#fa6f4f"/><stop offset="0.167" stop-color="#fa7050"/><stop offset="0.208" stop-color="#fa7050"/><stop offset="0.250" stop-color="#fa7252"/><stop offset="0.292" stop-color="#fb6c4c"/><stop offset="0.333" stop-color="#fb6a4a"/><stop offset="0.375" stop-color="#fb6b4b"/><stop offset="0.417" stop-color="#fa7455"/><stop offset="0.458" stop-color="#fb6d4d"/><stop offset="0.500" stop-color="#fa7556"/><stop offset="0.542" stop-color="#fa7455"/><stop offset="0.583" stop-color="#fa7151"/><stop offset="0.625" stop-color="#f97b5b"/><stop offset="0.667" stop-color="#f97b5c"/><stop offset="0.708" stop-color="#fa7253"/><stop offset="0.750" stop-color="#f97a5b"/><stop offset="0.792" stop-color="#f97a5b"/><stop offset="0.833" stop-color="#fa7859"/><stop offset="0.875" stop-color="#fa7858"/><stop offset="0.917" stop-color="#f98162"/><stop offset="0.958" stop-color="#f8c9b6"/><stop offset="1.000" stop-color="#f8d2c2"/></linearGradient>
<linearGradient id="gb17" x1="0" y1="0" x2="0" y2="1"><stop offset="0.000" stop-color="#f7a98f"/><stop offset="0.042" stop-color="#fa7555"/><stop offset="0.083" stop-color="#fa7050"/><stop offset="0.125" stop-color="#fb6b4c"/><stop offset="0.167" stop-color="#fa7454"/><stop offset="0.208" stop-color="#fa7252"/><stop offset="0.250" stop-color="#fa7859"/><stop offset="0.292" stop-color="#fa7757"/><stop offset="0.333" stop-color="#fa7252"/><stop offset="0.375" stop-color="#f97a5a"/><stop offset="0.417" stop-color="#fa7050"/><stop offset="0.458" stop-color="#fa7050"/><stop offset="0.500" stop-color="#f97b5c"/><stop offset="0.542" stop-color="#fa7151"/><stop offset="0.583" stop-color="#fa7959"/><stop offset="0.625" stop-color="#fa7454"/><stop offset="0.667" stop-color="#fa7455"/><stop offset="0.708" stop-color="#f97b5c"/><stop offset="0.750" stop-color="#fa7757"/><stop offset="0.792" stop-color="#fa7758"/><stop offset="0.833" stop-color="#fa7656"/><stop offset="0.875" stop-color="#f97d5e"/><stop offset="0.917" stop-color="#f97e5f"/><stop offset="0.958" stop-color="#f7c2ad"/><stop offset="1.000" stop-color="#f8cfbe"/></linearGradient>
<linearGradient id="gb18" x1="0" y1="0" x2="0" y2="1"><stop offset="0.000" stop-color="#f7bca5"/><stop offset="0.042" stop-color="#f7977a"/><stop offset="0.083" stop-color="#f98465"/><stop offset="0.125" stop-color="#f98465"/><stop offset="0.167" stop-color="#f97e5f"/><stop offset="0.208" stop-color="#f97e5f"/><stop offset="0.250" stop-color="#f97e5f"/><stop offset="0.292" stop-color="#f98263"/><stop offset="0.333" stop-color="#f97e5f"/><stop offset="0.375" stop-color="#f98061"/><stop offset="0.417" stop-color="#f8886a"/><stop offset="0.458" stop-color="#f98162"/><stop offset="0.500" stop-color="#f88768"/><stop offset="0.542" stop-color="#f89071"/><stop offset="0.583" stop-color="#f88769"/><stop offset="0.625" stop-color="#f89476"/><stop offset="0.667" stop-color="#f89476"/><stop offset="0.708" stop-color="#f89172"/><stop offset="0.750" stop-color="#f89577"/><stop offset="0.792" stop-color="#f7987a"/><stop offset="0.833" stop-color="#f7997b"/><stop offset="0.875" stop-color="#f79d81"/><stop offset="0.917" stop-color="#f7a186"/><stop offset="0.958" stop-color="#f7a88d"/><stop offset="1.000" stop-color="#f8d0bf"/></linearGradient>
<linearGradient id="gb19" x1="0" y1="0" x2="0" y2="1"><stop offset="0.000" stop-color="#f7b9a2"/><stop offset="0.042" stop-color="#f89173"/><stop offset="0.083" stop-color="#f8886a"/><stop offset="0.125" stop-color="#f98566"/><stop offset="0.167" stop-color="#f8896a"/><stop offset="0.208" stop-color="#f8896a"/><stop offset="0.250" stop-color="#f88667"/><stop offset="0.292" stop-color="#f97e5f"/><stop offset="0.333" stop-color="#f88b6d"/><stop offset="0.375" stop-color="#f88869"/><stop offset="0.417" stop-color="#f88d6f"/><stop offset="0.458" stop-color="#f8896a"/><stop offset="0.500" stop-color="#f89173"/><stop offset="0.542" stop-color="#f89475"/><stop offset="0.583" stop-color="#f89577"/><stop offset="0.625" stop-color="#f89678"/><stop offset="0.667" stop-color="#f89577"/><stop offset="0.708" stop-color="#f79d81"/><stop offset="0.750" stop-color="#f7997c"/><stop offset="0.792" stop-color="#f7a58a"/><stop offset="0.833" stop-color="#f7a68b"/><stop offset="0.875" stop-color="#f7aa90"/><stop offset="0.917" stop-color="#f7ad93"/><stop offset="0.958" stop-color="#f7a68b"/><stop offset="1.000" stop-color="#f7c8b5"/></linearGradient>
<linearGradient id="gb20" x1="0" y1="0" x2="0" y2="1"><stop offset="0.000" stop-color="#f7c2ad"/><stop offset="0.042" stop-color="#f7a185"/><stop offset="0.083" stop-color="#f89172"/><stop offset="0.125" stop-color="#f88a6c"/><stop offset="0.167" stop-color="#f8896a"/><stop offset="0.208" stop-color="#f8896a"/><stop offset="0.250" stop-color="#f88b6c"/><stop offset="0.292" stop-color="#f89071"/><stop offset="0.333" stop-color="#f88e70"/><stop offset="0.375" stop-color="#f89375"/><stop offset="0.417" stop-color="#f89173"/><stop offset="0.458" stop-color="#f89374"/><stop offset="0.500" stop-color="#f79a7c"/><stop offset="0.542" stop-color="#f79b7e"/><stop offset="0.583" stop-color="#f89679"/><stop offset="0.625" stop-color="#f7a387"/><stop offset="0.667" stop-color="#f79a7d"/><stop offset="0.708" stop-color="#f79b7f"/><stop offset="0.750" stop-color="#f79d80"/><stop offset="0.792" stop-color="#f7a78c"/><stop offset="0.833" stop-color="#f7a78c"/><stop offset="0.875" stop-color="#f7a88e"/><stop offset="0.917" stop-color="#f7aa8f"/><stop offset="0.958" stop-color="#f7a78d"/><stop offset="1.000" stop-color="#f7c4af"/></linearGradient>
<linearGradient id="gb21" x1="0" y1="0" x2="0" y2="1"><stop offset="0.000" stop-color="#f7c6b2"/><stop offset="0.042" stop-color="#f7a98f"/><stop offset="0.083" stop-color="#f79d80"/><stop offset="0.125" stop-color="#f7987a"/><stop offset="0.167" stop-color="#f89779"/><stop offset="0.208" stop-color="#f7a185"/><stop offset="0.250" stop-color="#f7977a"/><stop offset="0.292" stop-color="#f7997c"/><stop offset="0.333" stop-color="#f79d80"/><stop offset="0.375" stop-color="#f79e82"/><stop offset="0.417" stop-color="#f7a084"/><stop offset="0.458" stop-color="#f7a58a"/><stop offset="0.500" stop-color="#f7a286"/><stop offset="0.542" stop-color="#f7aa90"/><stop offset="0.583" stop-color="#f7a58a"/><stop offset="0.625" stop-color="#f7a589"/><stop offset="0.667" stop-color="#f7a98e"/><stop offset="0.708" stop-color="#f7a88e"/><stop offset="0.750" stop-color="#f7a589"/><stop offset="0.792" stop-color="#f7a78c"/><stop offset="0.833" stop-color="#f7b299"/><stop offset="0.875" stop-color="#f7ab91"/><stop offset="0.917" stop-color="#f7ae95"/><stop offset="0.958" stop-color="#f7b79f"/><stop offset="1.000" stop-color="#f7baa2"/></linearGradient>
<linearGradient id="gb22" x1="0" y1="0" x2="0" y2="1"><stop offset="0.000" stop-color="#f8c9b5"/><stop offset="0.042" stop-color="#f7baa3"/><stop offset="0.083" stop-color="#f7a387"/><stop offset="0.125" stop-color="#f7997c"/><stop offset="0.167" stop-color="#f7a186"/><stop offset="0.208" stop-color="#f79b7e"/><stop offset="0.250" stop-color="#f79f82"/><stop offset="0.292" stop-color="#f7a78c"/><stop offset="0.333" stop-color="#f79f82"/><stop offset="0.375" stop-color="#f7a388"/><stop offset="0.417" stop-color="#f7a084"/><stop offset="0.458" stop-color="#f7a488"/><stop offset="0.500" stop-color="#f7a589"/><stop offset="0.542" stop-color="#f7ab91"/><stop offset="0.583" stop-color="#f7a68b"/><stop offset="0.625" stop-color="#f7a58a"/><stop offset="0.667" stop-color="#f7a78c"/><stop offset="0.708" stop-color="#f7ae94"/><stop offset="0.750" stop-color="#f7ab91"/><stop offset="0.792" stop-color="#f7af96"/><stop offset="0.833" stop-color="#f7b59d"/><stop offset="0.875" stop-color="#f7b79f"/><stop offset="0.917" stop-color="#f7b8a0"/><stop offset="0.958" stop-color="#f7b79f"/><stop offset="1.000" stop-color="#f7b8a0"/></linearGradient>
<linearGradient id="gb23" x1="0" y1="0" x2="0" y2="1"><stop offset="0.000" stop-color="#f7c5b1"/><stop offset="0.042" stop-color="#f7b69d"/><stop offset="0.083" stop-color="#f7aa8f"/><stop offset="0.125" stop-color="#f7a68b"/><stop offset="0.167" stop-color="#f7a185"/><stop offset="0.208" stop-color="#f7a68b"/><stop offset="0.250" stop-color="#f7a58a"/><stop offset="0.292" stop-color="#f7a287"/><stop offset="0.333" stop-color="#f7a88d"/><stop offset="0.375" stop-color="#f7ac92"/><stop offset="0.417" stop-color="#f7a388"/><stop offset="0.458" stop-color="#f7a78c"/><stop offset="0.500" stop-color="#f7ac92"/><stop offset="0.542" stop-color="#f7ad93"/><stop offset="0.583" stop-color="#f7ac92"/><stop offset="0.625" stop-color="#f7ac92"/><stop offset="0.667" stop-color="#f7b299"/><stop offset="0.708" stop-color="#f7b69e"/><stop offset="0.750" stop-color="#f7b49c"/><stop offset="0.792" stop-color="#f7ae94"/><stop offset="0.833" stop-color="#f7b79f"/><stop offset="0.875" stop-color="#f7b49b"/><stop offset="0.917" stop-color="#f7b8a1"/><stop offset="0.958" stop-color="#f7b9a1"/><stop offset="1.000" stop-color="#f7baa2"/></linearGradient>
<linearGradient id="gb24" x1="0" y1="0" x2="0" y2="1"><stop offset="0.000" stop-color="#f7c0a9"/><stop offset="0.042" stop-color="#f7b8a0"/><stop offset="0.083" stop-color="#f7b197"/><stop offset="0.125" stop-color="#f7ab91"/><stop offset="0.167" stop-color="#f7aa90"/><stop offset="0.208" stop-color="#f7a78c"/><stop offset="0.250" stop-color="#f7ad93"/><stop offset="0.292" stop-color="#f7af95"/><stop offset="0.333" stop-color="#f7aa8f"/><stop offset="0.375" stop-color="#f7ab91"/><stop offset="0.417" stop-color="#f7a88e"/><stop offset="0.458" stop-color="#f7b299"/><stop offset="0.500" stop-color="#f7ae94"/><stop offset="0.542" stop-color="#f7af96"/><stop offset="0.583" stop-color="#f7b59c"/><stop offset="0.625" stop-color="#f7a98f"/><stop offset="0.667" stop-color="#f7b49c"/><stop offset="0.708" stop-color="#f7b79e"/><stop offset="0.750" stop-color="#f7b39a"/><stop offset="0.792" stop-color="#f7b8a0"/><stop offset="0.833" stop-color="#f7b29a"/><stop offset="0.875" stop-color="#f7b79f"/><stop offset="0.917" stop-color="#f7bba3"/><stop offset="0.958" stop-color="#f7bda5"/><stop offset="1.000" stop-color="#f7b49c"/></linearGradient>
<linearGradient id="gb25" x1="0" y1="0" x2="0" y2="1"><stop offset="0.000" stop-color="#f7c8b5"/><stop offset="0.042" stop-color="#f7baa2"/><stop offset="0.083" stop-color="#f7b69d"/><stop offset="0.125" stop-color="#f7a88e"/><stop offset="0.167" stop-color="#f7ab91"/><stop offset="0.208" stop-color="#f7ac92"/><stop offset="0.250" stop-color="#f7ad93"/><stop offset="0.292" stop-color="#f7a78c"/><stop offset="0.333" stop-color="#f7aa90"/><stop offset="0.375" stop-color="#f7af95"/><stop offset="0.417" stop-color="#f7b39a"/><stop offset="0.458" stop-color="#f7ac92"/><stop offset="0.500" stop-color="#f7a98e"/><stop offset="0.542" stop-color="#f7af95"/><stop offset="0.583" stop-color="#f7b79f"/><stop offset="0.625" stop-color="#f7b8a0"/><stop offset="0.667" stop-color="#f7b8a0"/><stop offset="0.708" stop-color="#f7b8a0"/><stop offset="0.750" stop-color="#f7baa3"/><stop offset="0.792" stop-color="#f7bba4"/><stop offset="0.833" stop-color="#f7b49b"/><stop offset="0.875" stop-color="#f7b299"/><stop offset="0.917" stop-color="#f7bca4"/><stop offset="0.958" stop-color="#f7b29a"/><stop offset="1.000" stop-color="#f7b9a1"/></linearGradient>
<linearGradient id="gb26" x1="0" y1="0" x2="0" y2="1"><stop offset="0.000" stop-color="#f7bfa8"/><stop offset="0.042" stop-color="#f7b79f"/><stop offset="0.083" stop-color="#f7b096"/><stop offset="0.125" stop-color="#f7b59d"/><stop offset="0.167" stop-color="#f7b097"/><stop offset="0.208" stop-color="#f7ad93"/><stop offset="0.250" stop-color="#f7a98e"/><stop offset="0.292" stop-color="#f7b59c"/><stop offset="0.333" stop-color="#f7b39a"/><stop offset="0.375" stop-color="#f7ac92"/><stop offset="0.417" stop-color="#f7b69e"/><stop offset="0.458" stop-color="#f7b49b"/><stop offset="0.500" stop-color="#f7b59c"/><stop offset="0.542" stop-color="#f7b198"/><stop offset="0.583" stop-color="#f7ae95"/><stop offset="0.625" stop-color="#f7b9a1"/><stop offset="0.667" stop-color="#f7b299"/><stop offset="0.708" stop-color="#f7b39a"/><stop offset="0.750" stop-color="#f7b299"/><stop offset="0.792" stop-color="#f7b79f"/><stop offset="0.833" stop-color="#f7b39a"/><stop offset="0.875" stop-color="#f7bba3"/><stop offset="0.917" stop-color="#f7bba3"/><stop offset="0.958" stop-color="#f7bea7"/><stop offset="1.000" stop-color="#f7b79e"/></linearGradient>
<linearGradient id="gb27" x1="0" y1="0" x2="0" y2="1"><stop offset="0.000" stop-color="#f7c8b5"/><stop offset="0.042" stop-color="#f7c6b2"/><stop offset="0.083" stop-color="#f7c3ae"/><stop offset="0.125" stop-color="#f7b8a0"/><stop offset="0.167" stop-color="#f7b69d"/><stop offset="0.208" stop-color="#f7b59c"/><stop offset="0.250" stop-color="#f7b9a1"/><stop offset="0.292" stop-color="#f7b8a0"/><stop offset="0.333" stop-color="#f7bda5"/><stop offset="0.375" stop-color="#f7b69d"/><stop offset="0.417" stop-color="#f7bfa8"/><stop offset="0.458" stop-color="#f7b9a2"/><stop offset="0.500" stop-color="#f7b69d"/><stop offset="0.542" stop-color="#f7b79f"/><stop offset="0.583" stop-color="#f7bfa8"/><stop offset="0.625" stop-color="#f7bda6"/><stop offset="0.667" stop-color="#f7b69d"/><stop offset="0.708" stop-color="#f7b9a1"/><stop offset="0.750" stop-color="#f7b69e"/><stop offset="0.792" stop-color="#f7b69e"/><stop offset="0.833" stop-color="#f7bca5"/><stop offset="0.875" stop-color="#f7b69e"/><stop offset="0.917" stop-color="#f7b9a1"/><stop offset="0.958" stop-color="#f7bea7"/><stop offset="1.000" stop-color="#f7bea7"/></linearGradient>
<linearGradient id="gb28" x1="0" y1="0" x2="0" y2="1"><stop offset="0.000" stop-color="#f8cebd"/><stop offset="0.042" stop-color="#f7c8b4"/><stop offset="0.083" stop-color="#f7bea7"/><stop offset="0.125" stop-color="#f7c5b1"/><stop offset="0.167" stop-color="#f7bda6"/><stop offset="0.208" stop-color="#f7c3ad"/><stop offset="0.250" stop-color="#f7c3ae"/><stop offset="0.292" stop-color="#f7bca5"/><stop offset="0.333" stop-color="#f7c1ab"/><stop offset="0.375" stop-color="#f7c3ae"/><stop offset="0.417" stop-color="#f7c2ad"/><stop offset="0.458" stop-color="#f7bca5"/><stop offset="0.500" stop-color="#f7bda6"/><stop offset="0.542" stop-color="#f7c4af"/><stop offset="0.583" stop-color="#f7c1ab"/><stop offset="0.625" stop-color="#f7b8a0"/><stop offset="0.667" stop-color="#f7c1ab"/><stop offset="0.708" stop-color="#f7bda6"/><stop offset="0.750" stop-color="#f7bfa8"/><stop offset="0.792" stop-color="#f7baa3"/><stop offset="0.833" stop-color="#f7bca5"/><stop offset="0.875" stop-color="#f7baa2"/><stop offset="0.917" stop-color="#f7bda6"/><stop offset="0.958" stop-color="#f7c1ac"/><stop offset="1.000" stop-color="#f7c1ac"/></linearGradient>
<linearGradient id="gb29" x1="0" y1="0" x2="0" y2="1"><stop offset="0.000" stop-color="#f8cdba"/><stop offset="0.042" stop-color="#f7c3ae"/><stop offset="0.083" stop-color="#f8cbb9"/><stop offset="0.125" stop-color="#f8ccba"/><stop offset="0.167" stop-color="#f7c1ab"/><stop offset="0.208" stop-color="#f8c9b6"/><stop offset="0.250" stop-color="#f7c1ab"/><stop offset="0.292" stop-color="#f8cab7"/><stop offset="0.333" stop-color="#f7c5b1"/><stop offset="0.375" stop-color="#f7c8b4"/><stop offset="0.417" stop-color="#f7c0ab"/><stop offset="0.458" stop-color="#f7c3ad"/><stop offset="0.500" stop-color="#f7c2ad"/><stop offset="0.542" stop-color="#f7c0aa"/><stop offset="0.583" stop-color="#f7bfa8"/><stop offset="0.625" stop-color="#f7c5b0"/><stop offset="0.667" stop-color="#f7c1ab"/><stop offset="0.708" stop-color="#f7c3ad"/><stop offset="0.750" stop-color="#f7c6b2"/><stop offset="0.792" stop-color="#f7bda7"/><stop offset="0.833" stop-color="#f7c0aa"/><stop offset="0.875" stop-color="#f7bda6"/><stop offset="0.917" stop-color="#f7c4af"/><stop offset="0.958" stop-color="#f7c0a9"/><stop offset="1.000" stop-color="#f7c0aa"/></linearGradient>
<linearGradient id="gb30" x1="0" y1="0" x2="0" y2="1"><stop offset="0.000" stop-color="#f8ccb9"/><stop offset="0.042" stop-color="#f9d3c3"/><stop offset="0.083" stop-color="#f8d0bf"/><stop offset="0.125" stop-color="#f8cebc"/><stop offset="0.167" stop-color="#f8d2c2"/><stop offset="0.208" stop-color="#f8cdbb"/><stop offset="0.250" stop-color="#f8cab7"/><stop offset="0.292" stop-color="#f8cebc"/><stop offset="0.333" stop-color="#f8cbb8"/><stop offset="0.375" stop-color="#f8cbb9"/><stop offset="0.417" stop-color="#f8d0be"/><stop offset="0.458" stop-color="#f8cebc"/><stop offset="0.500" stop-color="#f7c6b2"/><stop offset="0.542" stop-color="#f8cdbc"/><stop offset="0.583" stop-color="#f8cbb8"/><stop offset="0.625" stop-color="#f8cdba"/><stop offset="0.667" stop-color="#f8c9b5"/><stop offset="0.708" stop-color="#f7c7b3"/><stop offset="0.750" stop-color="#f7bba4"/><stop offset="0.792" stop-color="#f7bea7"/><stop offset="0.833" stop-color="#f7bda6"/><stop offset="0.875" stop-color="#f7bda6"/><stop offset="0.917" stop-color="#f7c5b0"/><stop offset="0.958" stop-color="#f7c4af"/><stop offset="1.000" stop-color="#f8cbb8"/></linearGradient>
<linearGradient id="gb31" x1="0" y1="0" x2="0" y2="1"><stop offset="0.000" stop-color="#f8cfbe"/><stop offset="0.042" stop-color="#f8c9b5"/><stop offset="0.083" stop-color="#f8c9b6"/><stop offset="0.125" stop-color="#f7c8b5"/><stop offset="0.167" stop-color="#f8cdbc"/><stop offset="0.208" stop-color="#f8cab7"/><stop offset="0.250" stop-color="#f8cebc"/><stop offset="0.292" stop-color="#f7c7b3"/><stop offset="0.333" stop-color="#f7c8b4"/><stop offset="0.375" stop-color="#f8cfbd"/><stop offset="0.417" stop-color="#f7c7b3"/><stop offset="0.458" stop-color="#f8d0be"/><stop offset="0.500" stop-color="#f8d0c0"/><stop offset="0.542" stop-color="#f8c9b5"/><stop offset="0.583" stop-color="#f8ccb9"/><stop offset="0.625" stop-color="#f7c7b3"/><stop offset="0.667" stop-color="#f7c2ad"/><stop offset="0.708" stop-color="#f7c6b2"/><stop offset="0.750" stop-color="#f7bba3"/><stop offset="0.792" stop-color="#f7c1ac"/><stop offset="0.833" stop-color="#f7c1ab"/><stop offset="0.875" stop-color="#f7c4af"/><stop offset="0.917" stop-color="#f7c3ae"/><stop offset="0.958" stop-color="#f7c6b2"/><stop offset="1.000" stop-color="#f8cebc"/></linearGradient>
<linearGradient id="gb32" x1="0" y1="0" x2="0" y2="1"><stop offset="0.000" stop-color="#f8d3c3"/><stop offset="0.042" stop-color="#f8d0c0"/><stop offset="0.083" stop-color="#f8cfbe"/><stop offset="0.125" stop-color="#f8d3c2"/><stop offset="0.167" stop-color="#f8d1c1"/><stop offset="0.208" stop-color="#f8cab7"/><stop offset="0.250" stop-color="#f8cbb8"/><stop offset="0.292" stop-color="#f7c7b3"/><stop offset="0.333" stop-color="#f7c7b3"/><stop offset="0.375" stop-color="#f7c8b4"/><stop offset="0.417" stop-color="#f8cebc"/><stop offset="0.458" stop-color="#f8d0bf"/><stop offset="0.500" stop-color="#f8cebc"/><stop offset="0.542" stop-color="#f8ccba"/><stop offset="0.583" stop-color="#f8cab7"/><stop offset="0.625" stop-color="#f7c7b3"/><stop offset="0.667" stop-color="#f7c7b3"/><stop offset="0.708" stop-color="#f7bda6"/><stop offset="0.750" stop-color="#f7bfa9"/><stop offset="0.792" stop-color="#f7bea7"/><stop offset="0.833" stop-color="#f7baa2"/><stop offset="0.875" stop-color="#f7bea7"/><stop offset="0.917" stop-color="#f7c8b5"/><stop offset="0.958" stop-color="#f8ccb9"/><stop offset="1.000" stop-color="#f7c8b4"/></linearGradient>
<linearGradient id="gb33" x1="0" y1="0" x2="0" y2="1"><stop offset="0.000" stop-color="#f9d4c4"/><stop offset="0.042" stop-color="#f8d2c2"/><stop offset="0.083" stop-color="#f8cebc"/><stop offset="0.125" stop-color="#f8cdbc"/><stop offset="0.167" stop-color="#f8d1c1"/><stop offset="0.208" stop-color="#f8d3c2"/><stop offset="0.250" stop-color="#f8d1c0"/><stop offset="0.292" stop-color="#f8cab7"/><stop offset="0.333" stop-color="#f8cdbb"/><stop offset="0.375" stop-color="#f7c7b3"/><stop offset="0.417" stop-color="#f8c9b6"/><stop offset="0.458" stop-color="#f7c6b2"/><stop offset="0.500" stop-color="#f8d1c1"/><stop offset="0.542" stop-color="#f8cfbe"/><stop offset="0.583" stop-color="#f8d0bf"/><stop offset="0.625" stop-color="#f8c9b6"/><stop offset="0.667" stop-color="#f7c8b4"/><stop offset="0.708" stop-color="#f7c6b2"/><stop offset="0.750" stop-color="#f7bba4"/><stop offset="0.792" stop-color="#f7c0aa"/><stop offset="0.833" stop-color="#f7bfa8"/><stop offset="0.875" stop-color="#f7c3ae"/><stop offset="0.917" stop-color="#f7c2ac"/><stop offset="0.958" stop-color="#f8c9b6"/><stop offset="1.000" stop-color="#f8cebd"/></linearGradient>
<linearGradient id="gb34" x1="0" y1="0" x2="0" y2="1"><stop offset="0.000" stop-color="#f9d4c4"/><stop offset="0.042" stop-color="#f8cfbe"/><stop offset="0.083" stop-color="#f8ccba"/><stop offset="0.125" stop-color="#f8ccb9"/><stop offset="0.167" stop-color="#f8c9b5"/><stop offset="0.208" stop-color="#f8cab7"/><stop offset="0.250" stop-color="#f8d0bf"/><stop offset="0.292" stop-color="#f8d1c1"/><stop offset="0.333" stop-color="#f8cab7"/><stop offset="0.375" stop-color="#f8c9b6"/><stop offset="0.417" stop-color="#f8ccba"/><stop offset="0.458" stop-color="#f7c8b5"/><stop offset="0.500" stop-color="#f8cbb9"/><stop offset="0.542" stop-color="#f8cebd"/><stop offset="0.583" stop-color="#f8cebd"/><stop offset="0.625" stop-color="#f8cebc"/><stop offset="0.667" stop-color="#f7c4af"/><stop offset="0.708" stop-color="#f7bba4"/><stop offset="0.750" stop-color="#f7b59d"/><stop offset="0.792" stop-color="#f7baa3"/><stop offset="0.833" stop-color="#f7b9a1"/><stop offset="0.875" stop-color="#f7baa2"/><stop offset="0.917" stop-color="#f7c2ac"/><stop offset="0.958" stop-color="#f7c7b4"/><stop offset="1.000" stop-color="#f8ccba"/></linearGradient>
<linearGradient id="gb35" x1="0" y1="0" x2="0" y2="1"><stop offset="0.000" stop-color="#f8cebd"/><stop offset="0.042" stop-color="#f8d2c2"/><stop offset="0.083" stop-color="#f8d2c1"/><stop offset="0.125" stop-color="#f8ccb9"/><stop offset="0.167" stop-color="#f7c8b4"/><stop offset="0.208" stop-color="#f8cdbb"/><stop offset="0.250" stop-color="#f8cebd"/><stop offset="0.292" stop-color="#f8cfbd"/><stop offset="0.333" stop-color="#f8cdbb"/><stop offset="0.375" stop-color="#f8c9b6"/><stop offset="0.417" stop-color="#f8cdbb"/><stop offset="0.458" stop-color="#f7c7b3"/><stop offset="0.500" stop-color="#f8d0bf"/><stop offset="0.542" stop-color="#f8cebc"/><stop offset="0.583" stop-color="#f8cab8"/><stop offset="0.625" stop-color="#f8c9b6"/><stop offset="0.667" stop-color="#f7c2ac"/><stop offset="0.708" stop-color="#f7bba4"/><stop offset="0.750" stop-color="#f7b39a"/><stop offset="0.792" stop-color="#f7b79e"/><stop offset="0.833" stop-color="#f7bfa9"/><stop offset="0.875" stop-color="#f7bda6"/><stop offset="0.917" stop-color="#f7c5b0"/><stop offset="0.958" stop-color="#f8c9b5"/><stop offset="1.000" stop-color="#f8cebc"/></linearGradient>
<linearGradient id="gb36" x1="0" y1="0" x2="0" y2="1"><stop offset="0.000" stop-color="#f8ccba"/><stop offset="0.042" stop-color="#f8c9b6"/><stop offset="0.083" stop-color="#f8d3c2"/><stop offset="0.125" stop-color="#f8ccb9"/><stop offset="0.167" stop-color="#f8cfbe"/><stop offset="0.208" stop-color="#f8cdbb"/><stop offset="0.250" stop-color="#f7c9b5"/><stop offset="0.292" stop-color="#f7c8b4"/><stop offset="0.333" stop-color="#f8cbb8"/><stop offset="0.375" stop-color="#f8d0bf"/><stop offset="0.417" stop-color="#f7c7b4"/><stop offset="0.458" stop-color="#f8d0bf"/><stop offset="0.500" stop-color="#f8cdbb"/><stop offset="0.542" stop-color="#f7c8b4"/><stop offset="0.583" stop-color="#f8cdbb"/><stop offset="0.625" stop-color="#f8cbb8"/><stop offset="0.667" stop-color="#f7c0ab"/><stop offset="0.708" stop-color="#f7b9a2"/><stop offset="0.750" stop-color="#f7b9a2"/><stop offset="0.792" stop-color="#f7b8a0"/><stop offset="0.833" stop-color="#f7bba3"/><stop offset="0.875" stop-color="#f7c2ac"/><stop offset="0.917" stop-color="#f7c8b5"/><stop offset="0.958" stop-color="#f7c3ae"/><stop offset="1.000" stop-color="#f8d0bf"/></linearGradient>
<linearGradient id="gb37" x1="0" y1="0" x2="0" y2="1"><stop offset="0.000" stop-color="#f8d2c1"/><stop offset="0.042" stop-color="#f8d2c1"/><stop offset="0.083" stop-color="#f8d3c3"/><stop offset="0.125" stop-color="#f8cdbc"/><stop offset="0.167" stop-color="#f8cbb8"/><stop offset="0.208" stop-color="#f8c9b6"/><stop offset="0.250" stop-color="#f8ccb9"/><stop offset="0.292" stop-color="#f8c9b6"/><stop offset="0.333" stop-color="#f8d2c2"/><stop offset="0.375" stop-color="#f8cfbe"/><stop offset="0.417" stop-color="#f7c7b3"/><stop offset="0.458" stop-color="#f8d1c0"/><stop offset="0.500" stop-color="#f8cfbd"/><stop offset="0.542" stop-color="#f8ccba"/><stop offset="0.583" stop-color="#f8cdbb"/><stop offset="0.625" stop-color="#f7c8b4"/><stop offset="0.667" stop-color="#f8cbb9"/><stop offset="0.708" stop-color="#f7c1ab"/><stop offset="0.750" stop-color="#f7af96"/><stop offset="0.792" stop-color="#f7b9a2"/><stop offset="0.833" stop-color="#f7b198"/><stop offset="0.875" stop-color="#f7c0aa"/><stop offset="0.917" stop-color="#f7bfa9"/><stop offset="0.958" stop-color="#f7c6b2"/><stop offset="1.000" stop-color="#f8cab7"/></linearGradient>
<linearGradient id="gb38" x1="0" y1="0" x2="0" y2="1"><stop offset="0.000" stop-color="#f8d3c2"/><stop offset="0.042" stop-color="#f9d3c3"/><stop offset="0.083" stop-color="#f8cbb8"/><stop offset="0.125" stop-color="#f8d2c1"/><stop offset="0.167" stop-color="#f8d1c1"/><stop offset="0.208" stop-color="#f8cab7"/><stop offset="0.250" stop-color="#f8c9b5"/><stop offset="0.292" stop-color="#f8d2c2"/><stop offset="0.333" stop-color="#f7c7b3"/><stop offset="0.375" stop-color="#f8ccba"/><stop offset="0.417" stop-color="#f8cebc"/><stop offset="0.458" stop-color="#f8d1c0"/><stop offset="0.500" stop-color="#f8cdbb"/><stop offset="0.542" stop-color="#f7c6b2"/><stop offset="0.583" stop-color="#f8cdbb"/><stop offset="0.625" stop-color="#f8ccba"/><stop offset="0.667" stop-color="#f8cab7"/><stop offset="0.708" stop-color="#f7c2ac"/><stop offset="0.750" stop-color="#f7b69e"/><stop offset="0.792" stop-color="#f7af95"/><stop offset="0.833" stop-color="#f7bba4"/><stop offset="0.875" stop-color="#f7c0a9"/><stop offset="0.917" stop-color="#f7c0aa"/><stop offset="0.958" stop-color="#f7c3ad"/><stop offset="1.000" stop-color="#f7c6b2"/></linearGradient>
<linearGradient id="gb39" x1="0" y1="0" x2="0" y2="1"><stop offset="0.000" stop-color="#f8d1c1"/><stop offset="0.042" stop-color="#f8d0bf"/><stop offset="0.083" stop-color="#f8c9b5"/><stop offset="0.125" stop-color="#f8cebc"/><stop offset="0.167" stop-color="#f8cbb9"/><stop offset="0.208" stop-color="#f8cfbe"/><stop offset="0.250" stop-color="#f8d3c2"/><stop offset="0.292" stop-color="#f8cfbd"/><stop offset="0.333" stop-color="#f8cab7"/><stop offset="0.375" stop-color="#f8c9b6"/><stop offset="0.417" stop-color="#f8cbb9"/><stop offset="0.458" stop-color="#f8ccba"/><stop offset="0.500" stop-color="#f8cbb9"/><stop offset="0.542" stop-color="#f8ccba"/><stop offset="0.583" stop-color="#f8cab7"/><stop offset="0.625" stop-color="#f7c4af"/><stop offset="0.667" stop-color="#f7c8b5"/><stop offset="0.708" stop-color="#f7bba4"/><stop offset="0.750" stop-color="#f7ae94"/><stop offset="0.792" stop-color="#f7af96"/><stop offset="0.833" stop-color="#f7b9a2"/><stop offset="0.875" stop-color="#f7b69e"/><stop offset="0.917" stop-color="#f7c1ab"/><stop offset="0.958" stop-color="#f8ccba"/><stop offset="1.000" stop-color="#f8cebd"/></linearGradient>
<linearGradient id="gb40" x1="0" y1="0" x2="0" y2="1"><stop offset="0.000" stop-color="#f8d2c1"/><stop offset="0.042" stop-color="#f9d3c3"/><stop offset="0.083" stop-color="#f7c8b5"/><stop offset="0.125" stop-color="#f8cfbd"/><stop offset="0.167" stop-color="#f8c9b6"/><stop offset="0.208" stop-color="#f8d2c1"/><stop offset="0.250" stop-color="#f8d3c2"/><stop offset="0.292" stop-color="#f7c8b5"/><stop offset="0.333" stop-color="#f8c9b6"/><stop offset="0.375" stop-color="#f7c6b2"/><stop offset="0.417" stop-color="#f8cab7"/><stop offset="0.458" stop-color="#f8cbb9"/><stop offset="0.500" stop-color="#f7c8b5"/><stop offset="0.542" stop-color="#f8d0bf"/><stop offset="0.583" stop-color="#f8c9b6"/><stop offset="0.625" stop-color="#f7c8b4"/><stop offset="0.667" stop-color="#f7c8b5"/><stop offset="0.708" stop-color="#f7baa3"/><stop offset="0.750" stop-color="#f7b69d"/><stop offset="0.792" stop-color="#f7b39b"/><stop offset="0.833" stop-color="#f7b79f"/><stop offset="0.875" stop-color="#f7bea8"/><stop offset="0.917" stop-color="#f7c7b3"/><stop offset="0.958" stop-color="#f7c7b4"/><stop offset="1.000" stop-color="#f7c6b2"/></linearGradient>
<linearGradient id="gb41" x1="0" y1="0" x2="0" y2="1"><stop offset="0.000" stop-color="#f8c9b6"/><stop offset="0.042" stop-color="#f8cab7"/><stop offset="0.083" stop-color="#f8cab7"/><stop offset="0.125" stop-color="#f8d0bf"/><stop offset="0.167" stop-color="#f7c8b4"/><stop offset="0.208" stop-color="#f8d0bf"/><stop offset="0.250" stop-color="#f8d1c1"/><stop offset="0.292" stop-color="#f8ccba"/><stop offset="0.333" stop-color="#f8cab6"/><stop offset="0.375" stop-color="#f8cebc"/><stop offset="0.417" stop-color="#f8cab7"/><stop offset="0.458" stop-color="#f8cebc"/><stop offset="0.500" stop-color="#f7c6b1"/><stop offset="0.542" stop-color="#f8cbb9"/><stop offset="0.583" stop-color="#f8cab7"/><stop offset="0.625" stop-color="#f7c6b2"/><stop offset="0.667" stop-color="#f7bfa8"/><stop offset="0.708" stop-color="#f7b49c"/><stop offset="0.750" stop-color="#f7b299"/><stop offset="0.792" stop-color="#f7b49b"/><stop offset="0.833" stop-color="#f7b39b"/><stop offset="0.875" stop-color="#f7c1ac"/><stop offset="0.917" stop-color="#f7c6b2"/><stop offset="0.958" stop-color="#f7c4b0"/><stop offset="1.000" stop-color="#f7c8b5"/></linearGradient>
<linearGradient id="gb42" x1="0" y1="0" x2="0" y2="1"><stop offset="0.000" stop-color="#f9d4c4"/><stop offset="0.042" stop-color="#f8cab7"/><stop offset="0.083" stop-color="#f8cfbe"/><stop offset="0.125" stop-color="#f7c8b4"/><stop offset="0.167" stop-color="#f8cfbd"/><stop offset="0.208" stop-color="#f8d0bf"/><stop offset="0.250" stop-color="#f8ccba"/><stop offset="0.292" stop-color="#f7c8b4"/><stop offset="0.333" stop-color="#f8cdbb"/><stop offset="0.375" stop-color="#f7c8b4"/><stop offset="0.417" stop-color="#f8c9b6"/><stop offset="0.458" stop-color="#f8cdbb"/><stop offset="0.500" stop-color="#f8cdbb"/><stop offset="0.542" stop-color="#f8cbb8"/><stop offset="0.583" stop-color="#f8cbb8"/><stop offset="0.625" stop-color="#f7c8b4"/><stop offset="0.667" stop-color="#f7c1ab"/><stop offset="0.708" stop-color="#f7b59d"/><stop offset="0.750" stop-color="#f7b198"/><stop offset="0.792" stop-color="#f7b79f"/><stop offset="0.833" stop-color="#f7b8a0"/><stop offset="0.875" stop-color="#f7bea7"/><stop offset="0.917" stop-color="#f7c4af"/><stop offset="0.958" stop-color="#f8cdbb"/><stop offset="1.000" stop-color="#f8d0bf"/></linearGradient>
<linearGradient id="gb43" x1="0" y1="0" x2="0" y2="1"><stop offset="0.000" stop-color="#f8d0c0"/><stop offset="0.042" stop-color="#f8d1c0"/><stop offset="0.083" stop-color="#f9d3c3"/><stop offset="0.125" stop-color="#f8cdbb"/><stop offset="0.167" stop-color="#f7c8b5"/><stop offset="0.208" stop-color="#f8ccba"/><stop offset="0.250" stop-color="#f8cab7"/><stop offset="0.292" stop-color="#f7c8b5"/><stop offset="0.333" stop-color="#f7c8b4"/><stop offset="0.375" stop-color="#f7c7b3"/><stop offset="0.417" stop-color="#f8ccba"/><stop offset="0.458" stop-color="#f8c9b6"/><stop offset="0.500" stop-color="#f8cfbe"/><stop offset="0.542" stop-color="#f7c6b2"/><stop offset="0.583" stop-color="#f8cab8"/><stop offset="0.625" stop-color="#f7c6b2"/><stop offset="0.667" stop-color="#f7bda6"/><stop offset="0.708" stop-color="#f7bca4"/><stop offset="0.750" stop-color="#f7b59d"/><stop offset="0.792" stop-color="#f7ae95"/><stop offset="0.833" stop-color="#f7b39a"/><stop offset="0.875" stop-color="#f7c2ac"/><stop offset="0.917" stop-color="#f8cbb9"/><stop offset="0.958" stop-color="#f8cab8"/><stop offset="1.000" stop-color="#f8d1c1"/></linearGradient>
<linearGradient id="gb44" x1="0" y1="0" x2="0" y2="1"><stop offset="0.000" stop-color="#f8cbb8"/><stop offset="0.042" stop-color="#f8d2c1"/><stop offset="0.083" stop-color="#f8d0c0"/><stop offset="0.125" stop-color="#f8cfbd"/><stop offset="0.167" stop-color="#f8cdbb"/><stop offset="0.208" stop-color="#f8cebc"/><stop offset="0.250" stop-color="#f8cbb8"/><stop offset="0.292" stop-color="#f8cab8"/><stop offset="0.333" stop-color="#f8cdbb"/><stop offset="0.375" stop-color="#f8d0bf"/><stop offset="0.417" stop-color="#f7c6b1"/><stop offset="0.458" stop-color="#f8c9b5"/><stop offset="0.500" stop-color="#f8cfbe"/><stop offset="0.542" stop-color="#f8cbb8"/><stop offset="0.583" stop-color="#f7c6b2"/><stop offset="0.625" stop-color="#f7bfa9"/><stop offset="0.667" stop-color="#f7c6b2"/><stop offset="0.708" stop-color="#f7bfa8"/><stop offset="0.750" stop-color="#f7b198"/><stop offset="0.792" stop-color="#f7b39a"/><stop offset="0.833" stop-color="#f7af96"/><stop offset="0.875" stop-color="#f7b9a1"/><stop offset="0.917" stop-color="#f7c8b4"/><stop offset="0.958" stop-color="#f8cab7"/><stop offset="1.000" stop-color="#f8cab8"/></linearGradient>
<linearGradient id="gb45" x1="0" y1="0" x2="0" y2="1"><stop offset="0.000" stop-color="#f8cab7"/><stop offset="0.042" stop-color="#f8d2c1"/><stop offset="0.083" stop-color="#f8cfbe"/><stop offset="0.125" stop-color="#f8d2c2"/><stop offset="0.167" stop-color="#f8cbb9"/><stop offset="0.208" stop-color="#f8d2c2"/><stop offset="0.250" stop-color="#f7c7b4"/><stop offset="0.292" stop-color="#f8ccb9"/><stop offset="0.333" stop-color="#f8cbb8"/><stop offset="0.375" stop-color="#f8d0bf"/><stop offset="0.417" stop-color="#f8cebd"/><stop offset="0.458" stop-color="#f8cbb8"/><stop offset="0.500" stop-color="#f7c6b2"/><stop offset="0.542" stop-color="#f8cab7"/><stop offset="0.583" stop-color="#f8cbb8"/><stop offset="0.625" stop-color="#f7bfa9"/><stop offset="0.667" stop-color="#f7bea8"/><stop offset="0.708" stop-color="#f7b79f"/><stop offset="0.750" stop-color="#f7b49c"/><stop offset="0.792" stop-color="#f7b49c"/><stop offset="0.833" stop-color="#f7af95"/><stop offset="0.875" stop-color="#f7c1ac"/><stop offset="0.917" stop-color="#f7c5b1"/><stop offset="0.958" stop-color="#f7c7b4"/><stop offset="1.000" stop-color="#f8cdbb"/></linearGradient>
<linearGradient id="gb46" x1="0" y1="0" x2="0" y2="1"><stop offset="0.000" stop-color="#f8cbb9"/><stop offset="0.042" stop-color="#f8c9b6"/><stop offset="0.083" stop-color="#f8cab6"/><stop offset="0.125" stop-color="#f8cbb8"/><stop offset="0.167" stop-color="#f8d0c0"/><stop offset="0.208" stop-color="#f8d2c1"/><stop offset="0.250" stop-color="#f8cdbb"/><stop offset="0.292" stop-color="#f8cebd"/><stop offset="0.333" stop-color="#f8cfbe"/><stop offset="0.375" stop-color="#f7c7b3"/><stop offset="0.417" stop-color="#f8cebd"/><stop offset="0.458" stop-color="#f7c7b3"/><stop offset="0.500" stop-color="#f7c5b1"/><stop offset="0.542" stop-color="#f8cebd"/><stop offset="0.583" stop-color="#f7c3ae"/><stop offset="0.625" stop-color="#f7c6b1"/><stop offset="0.667" stop-color="#f7c3ae"/><stop offset="0.708" stop-color="#f7bba3"/><stop offset="0.750" stop-color="#f7b69e"/><stop offset="0.792" stop-color="#f7b298"/><stop offset="0.833" stop-color="#f7b59d"/><stop offset="0.875" stop-color="#f7b8a1"/><stop offset="0.917" stop-color="#f7c2ac"/><stop offset="0.958" stop-color="#f8cebc"/><stop offset="1.000" stop-color="#f8cdbb"/></linearGradient>
<linearGradient id="gb47" x1="0" y1="0" x2="0" y2="1"><stop offset="0.000" stop-color="#f8d0bf"/><stop offset="0.042" stop-color="#f8d2c1"/><stop offset="0.083" stop-color="#f8d1c0"/><stop offset="0.125" stop-color="#f8d0bf"/><stop offset="0.167" stop-color="#f8cbb8"/><stop offset="0.208" stop-color="#f8cebd"/><stop offset="0.250" stop-color="#f8d1c0"/><stop offset="0.292" stop-color="#f8cfbe"/><stop offset="0.333" stop-color="#f8ccba"/><stop offset="0.375" stop-color="#f8cab8"/><stop offset="0.417" stop-color="#f8cebc"/><stop offset="0.458" stop-color="#f7c8b4"/><stop offset="0.500" stop-color="#f8cdbb"/><stop offset="0.542" stop-color="#f7c8b4"/><stop offset="0.583" stop-color="#f7c7b3"/><stop offset="0.625" stop-color="#f7c8b4"/><stop offset="0.667" stop-color="#f7bca4"/><stop offset="0.708" stop-color="#f7b79f"/><stop offset="0.750" stop-color="#f7af95"/><stop offset="0.792" stop-color="#f7b096"/><stop offset="0.833" stop-color="#f7b299"/><stop offset="0.875" stop-color="#f7bea7"/><stop offset="0.917" stop-color="#f8cbb9"/><stop offset="0.958" stop-color="#f7c5b1"/><stop offset="1.000" stop-color="#f7c7b3"/></linearGradient>
<linearGradient id="gb48" x1="0" y1="0" x2="0" y2="1"><stop offset="0.000" stop-color="#f8cfbd"/><stop offset="0.042" stop-color="#f8cdbb"/><stop offset="0.083" stop-color="#f8d0bf"/><stop offset="0.125" stop-color="#f8c9b5"/><stop offset="0.167" stop-color="#f8cbb8"/><stop offset="0.208" stop-color="#f8d0bf"/><stop offset="0.250" stop-color="#f7c8b5"/><stop offset="0.292" stop-color="#f7c6b2"/><stop offset="0.333" stop-color="#f8cdbb"/><stop offset="0.375" stop-color="#f7c5b1"/><stop offset="0.417" stop-color="#f8cbb8"/><stop offset="0.458" stop-color="#f8cebc"/><stop offset="0.500" stop-color="#f7c7b3"/><stop offset="0.542" stop-color="#f8cbb9"/><stop offset="0.583" stop-color="#f7c5b0"/><stop offset="0.625" stop-color="#f7c3ad"/><stop offset="0.667" stop-color="#f7c3ad"/><stop offset="0.708" stop-color="#f7b59c"/><stop offset="0.750" stop-color="#f7aa90"/><stop offset="0.792" stop-color="#f7b198"/><stop offset="0.833" stop-color="#f7b39a"/><stop offset="0.875" stop-color="#f7b9a1"/><stop offset="0.917" stop-color="#f7c7b3"/><stop offset="0.958" stop-color="#f8c9b6"/><stop offset="1.000" stop-color="#f8cab8"/></linearGradient>
<linearGradient id="gb49" x1="0" y1="0" x2="0" y2="1"><stop offset="0.000" stop-color="#f8cbb8"/><stop offset="0.042" stop-color="#f8d1c1"/><stop offset="0.083" stop-color="#f8d2c2"/><stop offset="0.125" stop-color="#f8cab7"/><stop offset="0.167" stop-color="#f8ccba"/><stop offset="0.208" stop-color="#f8cfbd"/><stop offset="0.250" stop-color="#f7c7b4"/><stop offset="0.292" stop-color="#f7c7b3"/><stop offset="0.333" stop-color="#f8cbb8"/><stop offset="0.375" stop-color="#f7c5b1"/><stop offset="0.417" stop-color="#f7c6b2"/><stop offset="0.458" stop-color="#f7c7b3"/><stop offset="0.500" stop-color="#f8ccba"/><stop offset="0.542" stop-color="#f8cfbd"/><stop offset="0.583" stop-color="#f7c5b1"/><stop offset="0.625" stop-color="#f7c0aa"/><stop offset="0.667" stop-color="#f7bfa8"/><stop offset="0.708" stop-color="#f7b49c"/><stop offset="0.750" stop-color="#f7ad93"/><stop offset="0.792" stop-color="#f7b49b"/><stop offset="0.833" stop-color="#f7b097"/><stop offset="0.875" stop-color="#f7bda5"/><stop offset="0.917" stop-color="#f7c8b4"/><stop offset="0.958" stop-color="#f8cdbc"/><stop offset="1.000" stop-color="#f8cbb8"/></linearGradient>
<linearGradient id="gb50" x1="0" y1="0" x2="0" y2="1"><stop offset="0.000" stop-color="#f8d1c0"/><stop offset="0.042" stop-color="#f8cbb9"/><stop offset="0.083" stop-color="#f8d1c1"/><stop offset="0.125" stop-color="#f8cebd"/><stop offset="0.167" stop-color="#f8d0bf"/><stop offset="0.208" stop-color="#f8cdbc"/><stop offset="0.250" stop-color="#f8cbb8"/><stop offset="0.292" stop-color="#f8d0bf"/><stop offset="0.333" stop-color="#f8d0bf"/><stop offset="0.375" stop-color="#f8cbb8"/><stop offset="0.417" stop-color="#f8cebc"/><stop offset="0.458" stop-color="#f8cab7"/><stop offset="0.500" stop-color="#f8cdbb"/><stop offset="0.542" stop-color="#f8cebc"/><stop offset="0.583" stop-color="#f7c7b3"/><stop offset="0.625" stop-color="#f7bea7"/><stop offset="0.667" stop-color="#f7b8a0"/><stop offset="0.708" stop-color="#f7b39a"/><stop offset="0.750" stop-color="#f7af96"/><stop offset="0.792" stop-color="#f7b69e"/><stop offset="0.833" stop-color="#f7b69d"/><stop offset="0.875" stop-color="#f7c0a9"/><stop offset="0.917" stop-color="#f7c1ab"/><stop offset="0.958" stop-color="#f8cdbc"/><stop offset="1.000" stop-color="#f7c6b2"/></linearGradient>
<linearGradient id="gb51" x1="0" y1="0" x2="0" y2="1"><stop offset="0.000" stop-color="#f8cfbd"/><stop offset="0.042" stop-color="#f8cfbd"/><stop offset="0.083" stop-color="#f8d0bf"/><stop offset="0.125" stop-color="#f7c8b4"/><stop offset="0.167" stop-color="#f8d0c0"/><stop offset="0.208" stop-color="#f8cbb9"/><stop offset="0.250" stop-color="#f8ccb9"/><stop offset="0.292" stop-color="#f8cfbe"/><stop offset="0.333" stop-color="#f8cebd"/><stop offset="0.375" stop-color="#f7c5b1"/><stop offset="0.417" stop-color="#f7c7b3"/><stop offset="0.458" stop-color="#f7c7b3"/><stop offset="0.500" stop-color="#f7c5b0"/><stop offset="0.542" stop-color="#f8cebc"/><stop offset="0.583" stop-color="#f7c5b0"/><stop offset="0.625" stop-color="#f7c0aa"/><stop offset="0.667" stop-color="#f7c0aa"/><stop offset="0.708" stop-color="#f7b59c"/><stop offset="0.750" stop-color="#f7a88e"/><stop offset="0.792" stop-color="#f7b39b"/><stop offset="0.833" stop-color="#f7b097"/><stop offset="0.875" stop-color="#f7c2ad"/><stop offset="0.917" stop-color="#f7c4b0"/><stop offset="0.958" stop-color="#f8ccb9"/><stop offset="1.000" stop-color="#f8cbb9"/></linearGradient>
<linearGradient id="gb52" x1="0" y1="0" x2="0" y2="1"><stop offset="0.000" stop-color="#f8d0bf"/><stop offset="0.042" stop-color="#f8cab7"/><stop offset="0.083" stop-color="#f8cbb8"/><stop offset="0.125" stop-color="#f8cdbb"/><stop offset="0.167" stop-color="#f8cbb8"/><stop offset="0.208" stop-color="#f8cdbb"/><stop offset="0.250" stop-color="#f7c8b5"/><stop offset="0.292" stop-color="#f8cebd"/><stop offset="0.333" stop-color="#f8cbb8"/><stop offset="0.375" stop-color="#f8cab7"/><stop offset="0.417" stop-color="#f8ccb9"/><stop offset="0.458" stop-color="#f8cfbe"/><stop offset="0.500" stop-color="#f8cdbc"/><stop offset="0.542" stop-color="#f7c8b4"/><stop offset="0.583" stop-color="#f8cbb8"/><stop offset="0.625" stop-color="#f7c0aa"/><stop offset="0.667" stop-color="#f7bea7"/><stop offset="0.708" stop-color="#f7b096"/><stop offset="0.750" stop-color="#f7ac92"/><stop offset="0.792" stop-color="#f7b097"/><stop offset="0.833" stop-color="#f7b79f"/><stop offset="0.875" stop-color="#f7c4af"/><stop offset="0.917" stop-color="#f7c6b2"/><stop offset="0.958" stop-color="#f7c6b2"/><stop offset="1.000" stop-color="#f7c7b3"/></linearGradient>
<linearGradient id="gb53" x1="0" y1="0" x2="0" y2="1"><stop offset="0.000" stop-color="#f8d2c1"/><stop offset="0.042" stop-color="#f8d2c2"/><stop offset="0.083" stop-color="#f7c8b5"/><stop offset="0.125" stop-color="#f8cbb8"/><stop offset="0.167" stop-color="#f8cdbb"/><stop offset="0.208" stop-color="#f8cab7"/><stop offset="0.250" stop-color="#f8d0bf"/><stop offset="0.292" stop-color="#f8cbb9"/><stop offset="0.333" stop-color="#f8cab7"/><stop offset="0.375" stop-color="#f8cab7"/><stop offset="0.417" stop-color="#f8cfbd"/><stop offset="0.458" stop-color="#f8cfbd"/><stop offset="0.500" stop-color="#f8c9b5"/><stop offset="0.542" stop-color="#f7c5b1"/><stop offset="0.583" stop-color="#f8ccba"/><stop offset="0.625" stop-color="#f8cab7"/><stop offset="0.667" stop-color="#f7c5b0"/><stop offset="0.708" stop-color="#f7b59d"/><stop offset="0.750" stop-color="#f7b69e"/><stop offset="0.792" stop-color="#f7b79f"/><stop offset="0.833" stop-color="#f7b299"/><stop offset="0.875" stop-color="#f7bfa8"/><stop offset="0.917" stop-color="#f8cab6"/><stop offset="0.958" stop-color="#f7c7b3"/><stop offset="1.000" stop-color="#f8d1c1"/></linearGradient>
<linearGradient id="gb54" x1="0" y1="0" x2="0" y2="1"><stop offset="0.000" stop-color="#f8d1c0"/><stop offset="0.042" stop-color="#f8ccb9"/><stop offset="0.083" stop-color="#f8d2c1"/><stop offset="0.125" stop-color="#f8d3c3"/><stop offset="0.167" stop-color="#f8cdbb"/><stop offset="0.208" stop-color="#f8cfbd"/><stop offset="0.250" stop-color="#f7c7b3"/><stop offset="0.292" stop-color="#f8d1c0"/><stop offset="0.333" stop-color="#f7c8b5"/><stop offset="0.375" stop-color="#f8cdbb"/><stop offset="0.417" stop-color="#f7c7b4"/><stop offset="0.458" stop-color="#f8cbb9"/><stop offset="0.500" stop-color="#f7c8b5"/><stop offset="0.542" stop-color="#f8ccba"/><stop offset="0.583" stop-color="#f8ccb9"/><stop offset="0.625" stop-color="#f7c6b1"/><stop offset="0.667" stop-color="#f7bda6"/><stop offset="0.708" stop-color="#f7bda6"/><stop offset="0.750" stop-color="#f7baa3"/><stop offset="0.792" stop-color="#f7b9a1"/><stop offset="0.833" stop-color="#f7bfa9"/><stop offset="0.875" stop-color="#f7c3ae"/><stop offset="0.917" stop-color="#f7c6b2"/><stop offset="0.958" stop-color="#f8c9b5"/><stop offset="1.000" stop-color="#f8cab8"/></linearGradient>
<linearGradient id="gb55" x1="0" y1="0" x2="0" y2="1"><stop offset="0.000" stop-color="#f8d1c0"/><stop offset="0.042" stop-color="#f9d4c4"/><stop offset="0.083" stop-color="#f9d3c3"/><stop offset="0.125" stop-color="#f8cfbe"/><stop offset="0.167" stop-color="#f8d1c0"/><stop offset="0.208" stop-color="#f8ccba"/><stop offset="0.250" stop-color="#f8cfbe"/><stop offset="0.292" stop-color="#f8c9b6"/><stop offset="0.333" stop-color="#f8cbb8"/><stop offset="0.375" stop-color="#f8cab7"/><stop offset="0.417" stop-color="#f8c9b5"/><stop offset="0.458" stop-color="#f8cbb8"/><stop offset="0.500" stop-color="#f8ccb9"/><stop offset="0.542" stop-color="#f8cdbb"/><stop offset="0.583" stop-color="#f8cebd"/><stop offset="0.625" stop-color="#f7c3ae"/><stop offset="0.667" stop-color="#f7c3ae"/><stop offset="0.708" stop-color="#f7c3ae"/><stop offset="0.750" stop-color="#f7b69e"/><stop offset="0.792" stop-color="#f7bba4"/><stop offset="0.833" stop-color="#f7bda5"/><stop offset="0.875" stop-color="#f7c3ae"/><stop offset="0.917" stop-color="#f8ccb9"/><stop offset="0.958" stop-color="#f7c3ae"/><stop offset="1.000" stop-color="#f8cfbe"/></linearGradient>
<linearGradient id="gb56" x1="0" y1="0" x2="0" y2="1"><stop offset="0.000" stop-color="#f8d0bf"/><stop offset="0.042" stop-color="#f7c8b5"/><stop offset="0.083" stop-color="#f8d2c2"/><stop offset="0.125" stop-color="#f8cebc"/><stop offset="0.167" stop-color="#f8cebc"/><stop offset="0.208" stop-color="#f8d0bf"/><stop offset="0.250" stop-color="#f7c8b4"/><stop offset="0.292" stop-color="#f8cdbc"/><stop offset="0.333" stop-color="#f8d2c1"/><stop offset="0.375" stop-color="#f8ccba"/><stop offset="0.417" stop-color="#f8d1c1"/><stop offset="0.458" stop-color="#f8c9b6"/><stop offset="0.500" stop-color="#f7c7b3"/><stop offset="0.542" stop-color="#f7c6b2"/><stop offset="0.583" stop-color="#f8cfbe"/><stop offset="0.625" stop-color="#f7c5b0"/><stop offset="0.667" stop-color="#f7c6b2"/><stop offset="0.708" stop-color="#f7c0aa"/><stop offset="0.750" stop-color="#f7c0a9"/><stop offset="0.792" stop-color="#f7c0aa"/><stop offset="0.833" stop-color="#f7c4af"/><stop offset="0.875" stop-color="#f7c2ac"/><stop offset="0.917" stop-color="#f8ccba"/><stop offset="0.958" stop-color="#f7c4af"/><stop offset="1.000" stop-color="#f8d1c0"/></linearGradient>
<linearGradient id="gb57" x1="0" y1="0" x2="0" y2="1"><stop offset="0.000" stop-color="#f8c9b5"/><stop offset="0.042" stop-color="#f8d1c1"/><stop offset="0.083" stop-color="#f8d2c2"/><stop offset="0.125" stop-color="#f8cbb8"/><stop offset="0.167" stop-color="#f8cdbb"/><stop offset="0.208" stop-color="#f8cab7"/><stop offset="0.250" stop-color="#f8cdbb"/><stop offset="0.292" stop-color="#f8cbb8"/><stop offset="0.333" stop-color="#f8d1c0"/><stop offset="0.375" stop-color="#f8cab7"/><stop offset="0.417" stop-color="#f8ccb9"/><stop offset="0.458" stop-color="#f7c6b2"/><stop offset="0.500" stop-color="#f8d1c0"/><stop offset="0.542" stop-color="#f8d0bf"/><stop offset="0.583" stop-color="#f7c7b3"/><stop offset="0.625" stop-color="#f7c2ac"/><stop offset="0.667" stop-color="#f7c5b1"/><stop offset="0.708" stop-color="#f7bfa9"/><stop offset="0.750" stop-color="#f7bfa9"/><stop offset="0.792" stop-color="#f7c2ad"/><stop offset="0.833" stop-color="#f7c3ae"/><stop offset="0.875" stop-color="#f7c4af"/><stop offset="0.917" stop-color="#f8cdbb"/><stop offset="0.958" stop-color="#f8ccba"/><stop offset="1.000" stop-color="#f8c9b5"/></linearGradient>
</defs>
<rect x="360.60" y="14.60" width="3.90" height="145.90" rx="1.95" fill="url(#gb0)"/>
<rect x="365.30" y="23.80" width="2.98" height="141.60" rx="1.49" fill="url(#gb1)"/>
<rect x="368.52" y="14.60" width="2.98" height="150.80" rx="1.49" fill="url(#gb2)"/>
<rect x="373.50" y="14.60" width="4.40" height="150.80" rx="2.20" fill="url(#gb3)"/>
<rect x="381.70" y="23.30" width="3.23" height="142.10" rx="1.62" fill="url(#gb4)"/>
<rect x="385.17" y="14.60" width="3.23" height="150.80" rx="1.62" fill="url(#gb5)"/>
<rect x="390.30" y="23.60" width="3.28" height="141.80" rx="1.64" fill="url(#gb6)"/>
<rect x="393.82" y="14.60" width="3.28" height="150.80" rx="1.64" fill="url(#gb7)"/>
<rect x="399.50" y="14.60" width="3.03" height="150.80" rx="1.52" fill="url(#gb8)"/>
<rect x="402.77" y="14.60" width="3.03" height="150.80" rx="1.52" fill="url(#gb9)"/>
<rect x="407.70" y="14.60" width="2.98" height="150.80" rx="1.49" fill="url(#gb10)"/>
<rect x="410.92" y="14.60" width="2.98" height="150.80" rx="1.49" fill="url(#gb11)"/>
<rect x="415.90" y="14.60" width="2.98" height="150.80" rx="1.49" fill="url(#gb12)"/>
<rect x="419.12" y="14.60" width="2.98" height="150.80" rx="1.49" fill="url(#gb13)"/>
<rect x="424.10" y="14.60" width="2.98" height="150.80" rx="1.49" fill="url(#gb14)"/>
<rect x="427.32" y="14.60" width="2.98" height="150.80" rx="1.49" fill="url(#gb15)"/>
<rect x="432.80" y="14.60" width="3.23" height="150.80" rx="1.61" fill="url(#gb16)"/>
<rect x="436.27" y="24.80" width="3.23" height="140.60" rx="1.61" fill="url(#gb17)"/>
<rect x="443.60" y="14.60" width="4.30" height="150.80" rx="2.15" fill="url(#gb18)"/>
<rect x="449.70" y="14.60" width="3.23" height="150.80" rx="1.62" fill="url(#gb19)"/>
<rect x="453.17" y="14.60" width="3.23" height="150.80" rx="1.62" fill="url(#gb20)"/>
<rect x="457.80" y="14.60" width="3.28" height="150.80" rx="1.64" fill="url(#gb21)"/>
<rect x="461.32" y="14.60" width="3.28" height="150.80" rx="1.64" fill="url(#gb22)"/>
<rect x="466.50" y="14.60" width="3.23" height="150.80" rx="1.61" fill="url(#gb23)"/>
<rect x="469.97" y="18.70" width="3.23" height="146.70" rx="1.61" fill="url(#gb24)"/>
<rect x="474.70" y="14.60" width="3.23" height="150.80" rx="1.62" fill="url(#gb25)"/>
<rect x="478.17" y="18.70" width="3.23" height="146.70" rx="1.62" fill="url(#gb26)"/>
<rect x="482.90" y="14.60" width="3.23" height="150.80" rx="1.62" fill="url(#gb27)"/>
<rect x="486.37" y="14.60" width="3.23" height="150.80" rx="1.62" fill="url(#gb28)"/>
<rect x="491.50" y="56.50" width="4.40" height="103.50" rx="2.20" fill="url(#gb29)"/>
<rect x="510.70" y="18.20" width="4.50" height="147.20" rx="2.25" fill="url(#gb30)"/>
<rect x="516.60" y="23.80" width="3.23" height="141.60" rx="1.61" fill="url(#gb31)"/>
<rect x="520.07" y="18.70" width="3.23" height="146.70" rx="1.61" fill="url(#gb32)"/>
<rect x="525.30" y="14.60" width="3.23" height="150.80" rx="1.61" fill="url(#gb33)"/>
<rect x="528.77" y="14.60" width="3.23" height="150.80" rx="1.61" fill="url(#gb34)"/>
<rect x="533.50" y="14.60" width="3.23" height="150.80" rx="1.61" fill="url(#gb35)"/>
<rect x="536.97" y="14.60" width="3.23" height="150.80" rx="1.61" fill="url(#gb36)"/>
<rect x="541.60" y="14.60" width="3.53" height="150.80" rx="1.76" fill="url(#gb37)"/>
<rect x="545.37" y="14.60" width="3.53" height="150.80" rx="1.76" fill="url(#gb38)"/>
<rect x="550.30" y="14.60" width="3.23" height="150.80" rx="1.61" fill="url(#gb39)"/>
<rect x="553.77" y="14.60" width="3.23" height="150.80" rx="1.61" fill="url(#gb40)"/>
<rect x="558.80" y="14.60" width="3.08" height="150.80" rx="1.54" fill="url(#gb41)"/>
<rect x="562.12" y="14.60" width="3.08" height="150.80" rx="1.54" fill="url(#gb42)"/>
<rect x="567.70" y="14.60" width="3.03" height="150.80" rx="1.51" fill="url(#gb43)"/>
<rect x="570.97" y="14.60" width="3.03" height="150.80" rx="1.51" fill="url(#gb44)"/>
<rect x="575.90" y="14.60" width="2.98" height="150.80" rx="1.49" fill="url(#gb45)"/>
<rect x="579.12" y="14.60" width="2.98" height="150.80" rx="1.49" fill="url(#gb46)"/>
<rect x="584.10" y="14.60" width="3.23" height="150.80" rx="1.61" fill="url(#gb47)"/>
<rect x="587.57" y="14.60" width="3.23" height="150.80" rx="1.61" fill="url(#gb48)"/>
<rect x="592.80" y="14.60" width="2.98" height="150.80" rx="1.49" fill="url(#gb49)"/>
<rect x="596.02" y="14.60" width="2.98" height="150.80" rx="1.49" fill="url(#gb50)"/>
<rect x="600.90" y="14.60" width="3.03" height="150.80" rx="1.51" fill="url(#gb51)"/>
<rect x="604.17" y="14.60" width="3.03" height="150.80" rx="1.51" fill="url(#gb52)"/>
<rect x="610.70" y="14.60" width="3.48" height="150.80" rx="1.74" fill="url(#gb53)"/>
<rect x="614.42" y="14.60" width="3.48" height="150.80" rx="1.74" fill="url(#gb54)"/>
<rect x="623.40" y="14.60" width="2.73" height="150.80" rx="1.36" fill="url(#gb55)"/>
<rect x="626.37" y="14.60" width="2.73" height="150.80" rx="1.36" fill="url(#gb56)"/>
<rect x="632.30" y="23.50" width="4.00" height="141.90" rx="2.00" fill="url(#gb57)"/>
<circle cx="383.49" cy="110.95" r="1.42" fill="#eb372a" fill-opacity="0.8"/>
<circle cx="383.27" cy="126.76" r="0.99" fill="#f97b5b" fill-opacity="0.8"/>
<circle cx="383.28" cy="114.48" r="1.03" fill="#e63228" fill-opacity="0.8"/>
<circle cx="382.95" cy="100.26" r="0.98" fill="#f5523a" fill-opacity="0.8"/>
<circle cx="383.79" cy="110.22" r="0.97" fill="#f96044" fill-opacity="0.8"/>
<circle cx="383.78" cy="99.65" r="1.08" fill="#f5533b" fill-opacity="0.8"/>
<circle cx="383.26" cy="120.11" r="1.47" fill="#ed392b" fill-opacity="0.8"/>
<circle cx="386.70" cy="104.83" r="1.35" fill="#fa6f4f" fill-opacity="0.8"/>
<circle cx="386.69" cy="119.43" r="1.52" fill="#fb6e4e" fill-opacity="0.8"/>
<circle cx="387.15" cy="125.92" r="0.98" fill="#fb6a4a" fill-opacity="0.8"/>
<circle cx="386.39" cy="101.29" r="1.00" fill="#fa7353" fill-opacity="0.8"/>
<circle cx="386.75" cy="126.77" r="1.50" fill="#fa7656" fill-opacity="0.8"/>
<circle cx="386.64" cy="125.72" r="1.45" fill="#fb694a" fill-opacity="0.8"/>
<circle cx="387.17" cy="105.94" r="1.16" fill="#e73329" fill-opacity="0.8"/>
<circle cx="386.48" cy="96.49" r="1.15" fill="#f88869" fill-opacity="0.8"/>
<circle cx="386.28" cy="117.20" r="1.06" fill="#e32f27" fill-opacity="0.8"/>
<circle cx="392.04" cy="99.02" r="1.12" fill="#f44f39" fill-opacity="0.8"/>
<circle cx="391.57" cy="138.48" r="1.23" fill="#f7a488" fill-opacity="0.8"/>
<circle cx="392.21" cy="93.63" r="1.06" fill="#ef3b2c" fill-opacity="0.8"/>
<circle cx="391.86" cy="112.08" r="1.05" fill="#dc2924" fill-opacity="0.8"/>
<circle cx="392.00" cy="66.84" r="1.56" fill="#f7a488" fill-opacity="0.8"/>
<circle cx="391.93" cy="88.24" r="1.40" fill="#f75a40" fill-opacity="0.8"/>
<circle cx="391.80" cy="66.33" r="1.07" fill="#f7aa90" fill-opacity="0.8"/>
<circle cx="391.56" cy="111.61" r="1.18" fill="#ec382b" fill-opacity="0.8"/>
<circle cx="392.20" cy="132.52" r="1.19" fill="#be151a" fill-opacity="0.8"/>
<circle cx="392.08" cy="131.56" r="1.37" fill="#c9181d" fill-opacity="0.8"/>
<circle cx="391.93" cy="76.09" r="1.15" fill="#f75c41" fill-opacity="0.8"/>
<circle cx="392.37" cy="130.86" r="1.15" fill="#ca181d" fill-opacity="0.8"/>
<circle cx="392.00" cy="114.68" r="0.99" fill="#e53128" fill-opacity="0.8"/>
<circle cx="392.00" cy="117.64" r="1.45" fill="#e83429" fill-opacity="0.8"/>
<circle cx="392.08" cy="134.62" r="1.35" fill="#e83429" fill-opacity="0.8"/>
<circle cx="395.59" cy="137.19" r="1.47" fill="#f98364" fill-opacity="0.8"/>
<circle cx="395.46" cy="117.08" r="1.53" fill="#c8171c" fill-opacity="0.8"/>
<circle cx="395.61" cy="94.22" r="1.46" fill="#f5543c" fill-opacity="0.8"/>
<circle cx="395.57" cy="86.73" r="1.40" fill="#ed392b" fill-opacity="0.8"/>
<circle cx="395.42" cy="130.32" r="1.37" fill="#ce1b1e" fill-opacity="0.8"/>
<circle cx="395.59" cy="107.79" r="1.35" fill="#d92623" fill-opacity="0.8"/>
<circle cx="395.66" cy="81.53" r="1.11" fill="#f0402f" fill-opacity="0.8"/>
<circle cx="395.25" cy="108.82" r="1.25" fill="#f44f39" fill-opacity="0.8"/>
<circle cx="394.95" cy="63.74" r="1.09" fill="#fa7858" fill-opacity="0.8"/>
<circle cx="395.51" cy="85.01" r="1.34" fill="#f44f38" fill-opacity="0.8"/>
<circle cx="395.14" cy="76.39" r="1.22" fill="#f85e42" fill-opacity="0.8"/>
<circle cx="395.60" cy="137.65" r="1.00" fill="#f88f71" fill-opacity="0.8"/>
<circle cx="395.76" cy="96.50" r="1.32" fill="#f24633" fill-opacity="0.8"/>
<circle cx="395.51" cy="135.80" r="1.45" fill="#f5523b" fill-opacity="0.8"/>
<circle cx="395.50" cy="71.23" r="1.33" fill="#fb6e4f" fill-opacity="0.8"/>
<circle cx="400.88" cy="105.62" r="1.38" fill="#ef3d2d" fill-opacity="0.8"/>
<circle cx="401.15" cy="99.46" r="0.98" fill="#eb372a" fill-opacity="0.8"/>
<circle cx="400.81" cy="72.15" r="1.03" fill="#f44f39" fill-opacity="0.8"/>
<circle cx="401.04" cy="72.71" r="1.39" fill="#e32f27" fill-opacity="0.8"/>
<circle cx="400.96" cy="55.46" r="1.17" fill="#e93529" fill-opacity="0.8"/>
<circle cx="400.87" cy="63.99" r="1.17" fill="#e53128" fill-opacity="0.8"/>
<circle cx="400.98" cy="86.68" r="1.24" fill="#f85d42" fill-opacity="0.8"/>
<circle cx="400.85" cy="60.25" r="1.35" fill="#f03e2e" fill-opacity="0.8"/>
<circle cx="401.08" cy="94.68" r="1.40" fill="#f44f39" fill-opacity="0.8"/>
<circle cx="401.53" cy="53.43" r="0.99" fill="#f97c5c" fill-opacity="0.8"/>
<circle cx="401.12" cy="60.26" r="1.16" fill="#f34935" fill-opacity="0.8"/>
<circle cx="401.30" cy="104.93" r="0.97" fill="#dd2a25" fill-opacity="0.8"/>
<circle cx="400.84" cy="61.34" r="1.09" fill="#f44e38" fill-opacity="0.8"/>
<circle cx="401.22" cy="94.29" r="1.10" fill="#f14231" fill-opacity="0.8"/>
<circle cx="400.97" cy="103.06" r="1.04" fill="#f6573e" fill-opacity="0.8"/>
<circle cx="400.99" cy="96.56" r="1.32" fill="#f85f43" fill-opacity="0.8"/>
<circle cx="401.01" cy="100.88" r="1.24" fill="#e43128" fill-opacity="0.8"/>
<circle cx="400.92" cy="73.53" r="1.36" fill="#f5513a" fill-opacity="0.8"/>
<circle cx="401.40" cy="60.73" r="0.94" fill="#ee3a2c" fill-opacity="0.8"/>
<circle cx="401.27" cy="117.99" r="1.06" fill="#db2824" fill-opacity="0.8"/>
<circle cx="404.17" cy="86.90" r="1.17" fill="#f03e2e" fill-opacity="0.8"/>
<circle cx="403.98" cy="102.35" r="0.95" fill="#de2a25" fill-opacity="0.8"/>
<circle cx="404.04" cy="135.96" r="1.26" fill="#cd1a1e" fill-opacity="0.8"/>
<circle cx="404.32" cy="122.01" r="1.44" fill="#be151a" fill-opacity="0.8"/>
<circle cx="404.52" cy="139.19" r="1.25" fill="#f7a68b" fill-opacity="0.8"/>
<circle cx="404.66" cy="120.55" r="1.06" fill="#ec382b" fill-opacity="0.8"/>
<circle cx="404.41" cy="105.91" r="0.99" fill="#ee3a2c" fill-opacity="0.8"/>
<circle cx="404.37" cy="72.63" r="0.94" fill="#f96345" fill-opacity="0.8"/>
<circle cx="404.21" cy="124.85" r="0.98" fill="#c0151b" fill-opacity="0.8"/>
<circle cx="404.59" cy="63.34" r="1.17" fill="#f14230" fill-opacity="0.8"/>
<circle cx="404.12" cy="71.91" r="1.28" fill="#f96446" fill-opacity="0.8"/>
<circle cx="404.30" cy="108.89" r="1.39" fill="#e63228" fill-opacity="0.8"/>
<circle cx="404.13" cy="107.38" r="1.20" fill="#f14230" fill-opacity="0.8"/>
<circle cx="404.00" cy="126.03" r="0.98" fill="#d32020" fill-opacity="0.8"/>
<circle cx="404.50" cy="71.48" r="1.00" fill="#eb372a" fill-opacity="0.8"/>
<circle cx="404.08" cy="112.29" r="1.26" fill="#f24733" fill-opacity="0.8"/>
<circle cx="404.28" cy="103.51" r="1.37" fill="#f34935" fill-opacity="0.8"/>
<circle cx="404.55" cy="64.59" r="0.92" fill="#ea362a" fill-opacity="0.8"/>
<circle cx="409.70" cy="116.04" r="0.95" fill="#ee3a2c" fill-opacity="0.8"/>
<circle cx="409.32" cy="113.74" r="0.97" fill="#d11e20" fill-opacity="0.8"/>
<circle cx="409.29" cy="69.05" r="1.07" fill="#f6583f" fill-opacity="0.8"/>
<circle cx="409.54" cy="68.24" r="0.97" fill="#f44e38" fill-opacity="0.8"/>
<circle cx="409.45" cy="111.27" r="1.12" fill="#d52121" fill-opacity="0.8"/>
<circle cx="409.33" cy="92.52" r="1.19" fill="#ed392b" fill-opacity="0.8"/>
<circle cx="408.85" cy="74.97" r="0.91" fill="#f86043" fill-opacity="0.8"/>
<circle cx="409.15" cy="87.27" r="0.89" fill="#e63228" fill-opacity="0.8"/>
<circle cx="408.91" cy="107.18" r="1.14" fill="#ed392b" fill-opacity="0.8"/>
<circle cx="409.09" cy="71.97" r="1.35" fill="#f44d38" fill-opacity="0.8"/>
<circle cx="408.97" cy="54.63" r="0.98" fill="#f75a40" fill-opacity="0.8"/>
<circle cx="409.68" cy="51.92" r="0.91" fill="#f34d37" fill-opacity="0.8"/>
<circle cx="409.27" cy="71.16" r="1.25" fill="#e02d26" fill-opacity="0.8"/>
<circle cx="409.37" cy="85.94" r="0.96" fill="#dd2924" fill-opacity="0.8"/>
<circle cx="409.04" cy="59.96" r="1.27" fill="#f03d2d" fill-opacity="0.8"/>
<circle cx="408.79" cy="47.01" r="1.01" fill="#f79d81" fill-opacity="0.8"/>
<circle cx="409.04" cy="75.77" r="1.08" fill="#dd2a25" fill-opacity="0.8"/>
<circle cx="409.28" cy="85.40" r="1.28" fill="#f45039" fill-opacity="0.8"/>
<circle cx="412.44" cy="52.69" r="1.38" fill="#f03f2f" fill-opacity="0.8"/>
<circle cx="411.89" cy="80.03" r="0.90" fill="#dc2924" fill-opacity="0.8"/>
<circle cx="412.47" cy="130.16" r="0.92" fill="#e02c26" fill-opacity="0.8"/>
<circle cx="411.94" cy="92.72" r="0.94" fill="#f34935" fill-opacity="0.8"/>
<circle cx="412.12" cy="88.73" r="0.92" fill="#dc2924" fill-opacity="0.8"/>
<circle cx="412.32" cy="75.23" r="1.03" fill="#f96245" fill-opacity="0.8"/>
<circle cx="412.95" cy="62.10" r="0.91" fill="#fa6648" fill-opacity="0.8"/>
<circle cx="412.43" cy="43.90" r="1.10" fill="#f79a7d" fill-opacity="0.8"/>
<circle cx="412.67" cy="63.24" r="1.18" fill="#f96245" fill-opacity="0.8"/>
<circle cx="411.94" cy="104.13" r="1.01" fill="#da2723" fill-opacity="0.8"/>
<circle cx="412.34" cy="95.70" r="1.19" fill="#f03f2f" fill-opacity="0.8"/>
<circle cx="412.36" cy="107.99" r="1.37" fill="#de2a25" fill-opacity="0.8"/>
<circle cx="412.04" cy="82.67" r="1.01" fill="#e33027" fill-opacity="0.8"/>
<circle cx="412.53" cy="62.92" r="1.30" fill="#f96446" fill-opacity="0.8"/>
<circle cx="412.13" cy="63.09" r="0.94" fill="#f96144" fill-opacity="0.8"/>
<circle cx="412.00" cy="79.74" r="1.02" fill="#f03e2e" fill-opacity="0.8"/>
<circle cx="412.20" cy="118.85" r="1.00" fill="#f24633" fill-opacity="0.8"/>
<circle cx="412.27" cy="71.85" r="1.11" fill="#f96044" fill-opacity="0.8"/>
<circle cx="412.45" cy="126.28" r="1.36" fill="#d62322" fill-opacity="0.8"/>
<circle cx="412.64" cy="127.35" r="1.12" fill="#d52221" fill-opacity="0.8"/>
<circle cx="417.48" cy="112.35" r="1.27" fill="#df2b25" fill-opacity="0.8"/>
<circle cx="417.10" cy="56.59" r="1.09" fill="#ea372a" fill-opacity="0.8"/>
<circle cx="417.29" cy="42.45" r="1.25" fill="#fa7859" fill-opacity="0.8"/>
<circle cx="416.87" cy="127.93" r="0.91" fill="#f14130" fill-opacity="0.8"/>
<circle cx="417.41" cy="69.46" r="1.39" fill="#e73329" fill-opacity="0.8"/>
<circle cx="417.25" cy="51.33" r="1.08" fill="#f45039" fill-opacity="0.8"/>
<circle cx="417.21" cy="102.14" r="1.27" fill="#e53228" fill-opacity="0.8"/>
<circle cx="417.37" cy="94.36" r="1.26" fill="#f75b41" fill-opacity="0.8"/>
<circle cx="417.75" cy="132.39" r="1.06" fill="#f85f43" fill-opacity="0.8"/>
<circle cx="417.59" cy="84.39" r="1.12" fill="#f34b36" fill-opacity="0.8"/>
<circle cx="417.16" cy="94.69" r="1.20" fill="#de2b25" fill-opacity="0.8"/>
<circle cx="417.93" cy="135.19" r="0.92" fill="#f34a36" fill-opacity="0.8"/>
<circle cx="417.36" cy="101.07" r="1.35" fill="#f24633" fill-opacity="0.8"/>
<circle cx="417.45" cy="49.11" r="1.00" fill="#f75a40" fill-opacity="0.8"/>
<circle cx="417.25" cy="69.44" r="1.02" fill="#ec382b" fill-opacity="0.8"/>
<circle cx="417.50" cy="53.80" r="1.33" fill="#e22e27" fill-opacity="0.8"/>
<circle cx="417.74" cy="106.99" r="0.97" fill="#f34b36" fill-opacity="0.8"/>
<circle cx="416.98" cy="88.58" r="0.98" fill="#fa6547" fill-opacity="0.8"/>
<circle cx="417.68" cy="121.30" r="1.00" fill="#e22e26" fill-opacity="0.8"/>
<circle cx="420.65" cy="64.70" r="1.34" fill="#ef3d2d" fill-opacity="0.8"/>
<circle cx="420.62" cy="133.19" r="0.90" fill="#f5523b" fill-opacity="0.8"/>
<circle cx="420.47" cy="102.46" r="1.10" fill="#f75a40" fill-opacity="0.8"/>
<circle cx="420.75" cy="62.98" r="1.14" fill="#f5513a" fill-opacity="0.8"/>
<circle cx="420.75" cy="75.49" r="1.32" fill="#e02c26" fill-opacity="0.8"/>
<circle cx="420.80" cy="117.73" r="1.17" fill="#ef3c2d" fill-opacity="0.8"/>
<circle cx="420.62" cy="70.27" r="1.25" fill="#f14230" fill-opacity="0.8"/>
<circle cx="420.45" cy="58.96" r="0.94" fill="#fa6648" fill-opacity="0.8"/>
<circle cx="420.52" cy="101.56" r="1.27" fill="#e93529" fill-opacity="0.8"/>
<circle cx="420.89" cy="57.59" r="0.93" fill="#ef3b2c" fill-opacity="0.8"/>
<circle cx="420.66" cy="114.44" r="1.36" fill="#e02d26" fill-opacity="0.8"/>
<circle cx="420.45" cy="138.64" r="1.21" fill="#ef3b2c" fill-opacity="0.8"/>
<circle cx="421.06" cy="92.40" r="1.02" fill="#e22f27" fill-opacity="0.8"/>
<circle cx="420.48" cy="96.32" r="0.90" fill="#f34c37" fill-opacity="0.8"/>
<circle cx="420.71" cy="43.72" r="1.36" fill="#f14230" fill-opacity="0.8"/>
<circle cx="420.81" cy="106.33" r="0.95" fill="#f44d38" fill-opacity="0.8"/>
<circle cx="420.92" cy="97.68" r="1.09" fill="#eb372a" fill-opacity="0.8"/>
<circle cx="420.72" cy="48.69" r="1.03" fill="#f6583f" fill-opacity="0.8"/>
<circle cx="420.50" cy="42.18" r="1.29" fill="#f24733" fill-opacity="0.8"/>
<circle cx="420.67" cy="99.48" r="1.35" fill="#e53128" fill-opacity="0.8"/>
<circle cx="420.87" cy="78.04" r="1.17" fill="#f34c37" fill-opacity="0.8"/>
<circle cx="420.87" cy="61.57" r="1.21" fill="#f6583f" fill-opacity="0.8"/>
<circle cx="425.66" cy="45.02" r="0.95" fill="#fa7454" fill-opacity="0.8"/>
<circle cx="425.68" cy="104.88" r="0.99" fill="#fa7253" fill-opacity="0.8"/>
<circle cx="425.40" cy="111.05" r="1.27" fill="#f5523b" fill-opacity="0.8"/>
<circle cx="425.55" cy="87.80" r="1.39" fill="#f14532" fill-opacity="0.8"/>
<circle cx="425.53" cy="140.38" r="1.38" fill="#f7593f" fill-opacity="0.8"/>
<circle cx="425.31" cy="118.30" r="1.14" fill="#f24935" fill-opacity="0.8"/>
<circle cx="425.21" cy="45.93" r="0.94" fill="#fb6c4d" fill-opacity="0.8"/>
<circle cx="425.68" cy="106.64" r="1.29" fill="#fa7758" fill-opacity="0.8"/>
<circle cx="425.78" cy="135.49" r="1.27" fill="#f44d38" fill-opacity="0.8"/>
<circle cx="425.16" cy="107.99" r="0.95" fill="#f03f2e" fill-opacity="0.8"/>
<circle cx="425.72" cy="47.78" r="1.13" fill="#f85e42" fill-opacity="0.8"/>
<circle cx="425.62" cy="124.93" r="1.10" fill="#f97b5b" fill-opacity="0.8"/>
<circle cx="425.52" cy="72.05" r="1.21" fill="#fa7252" fill-opacity="0.8"/>
<circle cx="425.67" cy="116.42" r="1.40" fill="#f86043" fill-opacity="0.8"/>
<circle cx="425.25" cy="127.36" r="1.05" fill="#f5523b" fill-opacity="0.8"/>
<circle cx="425.77" cy="86.98" r="1.28" fill="#fa6547" fill-opacity="0.8"/>
<circle cx="425.72" cy="73.05" r="1.15" fill="#fa6748" fill-opacity="0.8"/>
<circle cx="425.45" cy="131.56" r="1.05" fill="#f85c41" fill-opacity="0.8"/>
<circle cx="425.50" cy="140.04" r="0.92" fill="#f96144" fill-opacity="0.8"/>
<circle cx="425.33" cy="52.30" r="0.93" fill="#f34b36" fill-opacity="0.8"/>
<circle cx="425.52" cy="86.77" r="1.18" fill="#ef3b2c" fill-opacity="0.8"/>
<circle cx="429.13" cy="69.26" r="0.90" fill="#f24935" fill-opacity="0.8"/>
<circle cx="428.77" cy="70.02" r="1.02" fill="#f97c5d" fill-opacity="0.8"/>
<circle cx="428.49" cy="73.15" r="0.92" fill="#f85d42" fill-opacity="0.8"/>
<circle cx="428.57" cy="81.75" r="0.94" fill="#f96144" fill-opacity="0.8"/>
<circle cx="428.69" cy="116.90" r="0.92" fill="#f96446" fill-opacity="0.8"/>
<circle cx="429.04" cy="130.04" r="1.20" fill="#fb6a4b" fill-opacity="0.8"/>
<circle cx="428.26" cy="110.87" r="0.91" fill="#f75a40" fill-opacity="0.8"/>
<circle cx="428.90" cy="128.76" r="1.35" fill="#fb6c4c" fill-opacity="0.8"/>
<circle cx="428.97" cy="72.53" r="1.29" fill="#ef3c2d" fill-opacity="0.8"/>
<circle cx="429.16" cy="39.41" r="1.11" fill="#f24733" fill-opacity="0.8"/>
<circle cx="428.78" cy="49.26" r="1.04" fill="#f96044" fill-opacity="0.8"/>
<circle cx="428.46" cy="59.30" r="0.96" fill="#f5513a" fill-opacity="0.8"/>
<circle cx="429.13" cy="83.91" r="1.09" fill="#f97b5b" fill-opacity="0.8"/>
<circle cx="429.19" cy="145.41" r="0.90" fill="#f98162" fill-opacity="0.8"/>
<circle cx="429.21" cy="104.22" r="1.02" fill="#f9795a" fill-opacity="0.8"/>
<circle cx="429.04" cy="44.67" r="1.03" fill="#f85f43" fill-opacity="0.8"/>
<circle cx="428.83" cy="71.73" r="0.97" fill="#f34b36" fill-opacity="0.8"/>
<circle cx="434.58" cy="119.05" r="1.03" fill="#f88f70" fill-opacity="0.8"/>
<circle cx="434.48" cy="72.02" r="1.24" fill="#fa7859" fill-opacity="0.8"/>
<circle cx="434.46" cy="52.74" r="1.12" fill="#fb694a" fill-opacity="0.8"/>
<circle cx="434.57" cy="123.28" r="1.24" fill="#f88d6e" fill-opacity="0.8"/>
<circle cx="434.49" cy="128.99" r="1.25" fill="#f97d5d" fill-opacity="0.8"/>
<circle cx="434.08" cy="132.12" r="1.25" fill="#f89374" fill-opacity="0.8"/>
<circle cx="434.16" cy="73.53" r="0.98" fill="#f97a5a" fill-opacity="0.8"/>
<circle cx="434.38" cy="82.81" r="1.49" fill="#fa6849" fill-opacity="0.8"/>
<circle cx="434.52" cy="94.32" r="1.50" fill="#fa6647" fill-opacity="0.8"/>
<circle cx="434.31" cy="61.49" r="1.50" fill="#f98364" fill-opacity="0.8"/>
<circle cx="434.34" cy="82.63" r="1.27" fill="#f96245" fill-opacity="0.8"/>
<circle cx="434.64" cy="151.04" r="1.28" fill="#f88768" fill-opacity="0.8"/>
<circle cx="434.46" cy="37.95" r="1.25" fill="#fa7555" fill-opacity="0.8"/>
<circle cx="433.91" cy="47.92" r="1.00" fill="#fa7050" fill-opacity="0.8"/>
<circle cx="434.37" cy="67.29" r="1.52" fill="#f98566" fill-opacity="0.8"/>
<circle cx="434.31" cy="57.75" r="1.39" fill="#f75c41" fill-opacity="0.8"/>
<circle cx="434.52" cy="137.33" r="1.19" fill="#fa7152" fill-opacity="0.8"/>
<circle cx="434.40" cy="53.43" r="1.46" fill="#f97c5d" fill-opacity="0.8"/>
<circle cx="433.91" cy="147.13" r="1.05" fill="#f88d6f" fill-opacity="0.8"/>
<circle cx="433.83" cy="124.47" r="0.97" fill="#fa7354" fill-opacity="0.8"/>
<circle cx="434.27" cy="136.60" r="1.46" fill="#f9795a" fill-opacity="0.8"/>
<circle cx="434.47" cy="102.78" r="1.38" fill="#f88b6d" fill-opacity="0.8"/>
<circle cx="434.33" cy="106.11" r="1.51" fill="#f98567" fill-opacity="0.8"/>
<circle cx="437.37" cy="36.86" r="1.02" fill="#fa6547" fill-opacity="0.8"/>
<circle cx="437.95" cy="89.80" r="1.47" fill="#fb6d4d" fill-opacity="0.8"/>
<circle cx="437.76" cy="37.57" r="1.45" fill="#fb6849" fill-opacity="0.8"/>
<circle cx="437.41" cy="129.10" r="1.14" fill="#f88769" fill-opacity="0.8"/>
<circle cx="437.88" cy="129.60" r="1.48" fill="#fa7859" fill-opacity="0.8"/>
<circle cx="438.33" cy="49.06" r="1.12" fill="#f98364" fill-opacity="0.8"/>
<circle cx="437.51" cy="55.72" r="1.17" fill="#f88b6d" fill-opacity="0.8"/>
<circle cx="437.70" cy="85.11" r="1.34" fill="#fb6e4e" fill-opacity="0.8"/>
<circle cx="437.86" cy="46.84" r="1.36" fill="#fa7253" fill-opacity="0.8"/>
<circle cx="437.62" cy="104.89" r="1.05" fill="#f85c41" fill-opacity="0.8"/>
<circle cx="437.90" cy="94.27" r="1.48" fill="#fa7454" fill-opacity="0.8"/>
<circle cx="438.02" cy="116.79" r="1.41" fill="#f97d5d" fill-opacity="0.8"/>
<circle cx="437.74" cy="67.53" r="1.12" fill="#f88b6c" fill-opacity="0.8"/>
<circle cx="437.97" cy="147.16" r="1.32" fill="#f8886a" fill-opacity="0.8"/>
<circle cx="437.52" cy="43.86" r="1.16" fill="#f96044" fill-opacity="0.8"/>
<circle cx="437.60" cy="112.74" r="1.30" fill="#f96245" fill-opacity="0.8"/>
<circle cx="437.77" cy="79.62" r="1.38" fill="#fb6c4d" fill-opacity="0.8"/>
<circle cx="437.37" cy="82.86" r="1.02" fill="#f97f60" fill-opacity="0.8"/>
<circle cx="437.75" cy="124.07" r="1.46" fill="#f97e5f" fill-opacity="0.8"/>
<circle cx="437.95" cy="68.57" r="1.50" fill="#f88768" fill-opacity="0.8"/>
<circle cx="437.79" cy="148.05" r="1.03" fill="#f97a5b" fill-opacity="0.8"/>
<circle cx="437.75" cy="58.52" r="1.29" fill="#f88f71" fill-opacity="0.8"/>
<circle cx="437.99" cy="42.71" r="1.50" fill="#fa7151" fill-opacity="0.8"/>
<circle cx="437.72" cy="90.57" r="1.40" fill="#f88d6f" fill-opacity="0.8"/>
<circle cx="445.76" cy="95.38" r="2.03" fill="#f7a388" fill-opacity="0.8"/>
<circle cx="446.17" cy="81.01" r="1.70" fill="#f89375" fill-opacity="0.8"/>
<circle cx="446.15" cy="79.63" r="1.68" fill="#f89678" fill-opacity="0.8"/>
<circle cx="445.69" cy="73.00" r="1.98" fill="#f97a5b" fill-opacity="0.8"/>
<circle cx="445.08" cy="134.71" r="1.39" fill="#f79779" fill-opacity="0.8"/>
<circle cx="446.19" cy="153.13" r="1.62" fill="#f7a286" fill-opacity="0.8"/>
<circle cx="446.07" cy="100.64" r="1.50" fill="#f88c6e" fill-opacity="0.8"/>
<circle cx="445.81" cy="54.95" r="1.86" fill="#f98061" fill-opacity="0.8"/>
<circle cx="445.90" cy="37.40" r="1.81" fill="#f89375" fill-opacity="0.8"/>
<circle cx="445.25" cy="32.86" r="1.39" fill="#f96446" fill-opacity="0.8"/>
<circle cx="446.03" cy="31.00" r="1.76" fill="#f88667" fill-opacity="0.8"/>
<circle cx="445.88" cy="41.56" r="1.37" fill="#fa7556" fill-opacity="0.8"/>
<circle cx="446.11" cy="54.32" r="1.33" fill="#f88769" fill-opacity="0.8"/>
<circle cx="445.86" cy="35.69" r="1.54" fill="#fa7253" fill-opacity="0.8"/>
<circle cx="451.44" cy="110.00" r="1.46" fill="#f7987a" fill-opacity="0.8"/>
<circle cx="451.20" cy="58.66" r="1.46" fill="#f88d6f" fill-opacity="0.8"/>
<circle cx="451.25" cy="78.50" r="1.52" fill="#f89071" fill-opacity="0.8"/>
<circle cx="451.08" cy="112.30" r="1.38" fill="#f8896a" fill-opacity="0.8"/>
<circle cx="451.37" cy="153.80" r="1.45" fill="#f7b49b" fill-opacity="0.8"/>
<circle cx="451.23" cy="78.61" r="1.35" fill="#fa7657" fill-opacity="0.8"/>
<circle cx="451.37" cy="123.34" r="1.37" fill="#f79c7f" fill-opacity="0.8"/>
<circle cx="450.95" cy="132.57" r="1.25" fill="#f7b49c" fill-opacity="0.8"/>
<circle cx="451.16" cy="131.82" r="1.44" fill="#f88f71" fill-opacity="0.8"/>
<circle cx="450.97" cy="95.07" r="1.04" fill="#f89274" fill-opacity="0.8"/>
<circle cx="451.65" cy="158.21" r="1.10" fill="#f89678" fill-opacity="0.8"/>
<circle cx="451.16" cy="111.71" r="1.33" fill="#f79f82" fill-opacity="0.8"/>
<circle cx="451.36" cy="57.47" r="1.34" fill="#f7a185" fill-opacity="0.8"/>
<circle cx="451.16" cy="125.00" r="1.21" fill="#f79d80" fill-opacity="0.8"/>
<circle cx="454.94" cy="123.84" r="1.31" fill="#f7a98f" fill-opacity="0.8"/>
<circle cx="454.49" cy="82.02" r="1.00" fill="#f88869" fill-opacity="0.8"/>
<circle cx="454.19" cy="138.98" r="1.00" fill="#f7bca5" fill-opacity="0.8"/>
<circle cx="454.74" cy="128.26" r="1.23" fill="#f7bba3" fill-opacity="0.8"/>
<circle cx="454.45" cy="133.56" r="1.26" fill="#f7a78c" fill-opacity="0.8"/>
<circle cx="454.98" cy="132.46" r="1.32" fill="#f89577" fill-opacity="0.8"/>
<circle cx="454.82" cy="106.40" r="1.45" fill="#f88f70" fill-opacity="0.8"/>
<circle cx="454.73" cy="21.02" r="1.53" fill="#f88d6e" fill-opacity="0.8"/>
<circle cx="454.63" cy="27.60" r="1.03" fill="#f79a7d" fill-opacity="0.8"/>
<circle cx="454.69" cy="30.93" r="0.97" fill="#f79f83" fill-opacity="0.8"/>
<circle cx="454.50" cy="61.24" r="1.19" fill="#f97e5f" fill-opacity="0.8"/>
<circle cx="454.64" cy="155.20" r="1.36" fill="#f89577" fill-opacity="0.8"/>
<circle cx="454.39" cy="76.00" r="1.20" fill="#f89475" fill-opacity="0.8"/>
<circle cx="454.97" cy="83.63" r="1.36" fill="#f98465" fill-opacity="0.8"/>
<circle cx="459.57" cy="116.31" r="1.48" fill="#f7997b" fill-opacity="0.8"/>
<circle cx="459.53" cy="132.14" r="1.36" fill="#f7b198" fill-opacity="0.8"/>
<circle cx="459.19" cy="145.04" r="1.24" fill="#f7a286" fill-opacity="0.8"/>
<circle cx="459.58" cy="65.19" r="1.38" fill="#f7ac92" fill-opacity="0.8"/>
<circle cx="459.39" cy="45.72" r="1.47" fill="#f7987b" fill-opacity="0.8"/>
<circle cx="459.12" cy="31.72" r="1.19" fill="#f89274" fill-opacity="0.8"/>
<circle cx="459.35" cy="59.52" r="1.07" fill="#f7b9a1" fill-opacity="0.8"/>
<circle cx="459.75" cy="33.19" r="1.30" fill="#f7b69e" fill-opacity="0.8"/>
<circle cx="459.33" cy="138.03" r="1.51" fill="#f7b79f" fill-opacity="0.8"/>
<circle cx="459.57" cy="39.73" r="1.02" fill="#f7b79f" fill-opacity="0.8"/>
<circle cx="459.42" cy="126.95" r="1.45" fill="#f7ac92" fill-opacity="0.8"/>
<circle cx="459.21" cy="150.21" r="1.29" fill="#f7a98f" fill-opacity="0.8"/>
<circle cx="459.34" cy="79.43" r="1.46" fill="#f7a488" fill-opacity="0.8"/>
<circle cx="459.49" cy="60.47" r="1.02" fill="#f8896a" fill-opacity="0.8"/>
<circle cx="462.70" cy="49.68" r="1.33" fill="#f89779" fill-opacity="0.8"/>
<circle cx="463.30" cy="123.11" r="1.17" fill="#f7b39a" fill-opacity="0.8"/>
<circle cx="462.76" cy="130.09" r="1.37" fill="#f7baa2" fill-opacity="0.8"/>
<circle cx="463.20" cy="92.72" r="1.35" fill="#f7c0aa" fill-opacity="0.8"/>
<circle cx="462.94" cy="109.60" r="1.28" fill="#f7c5b1" fill-opacity="0.8"/>
<circle cx="462.91" cy="81.81" r="1.14" fill="#f7bba3" fill-opacity="0.8"/>
<circle cx="462.74" cy="28.33" r="1.12" fill="#f7997c" fill-opacity="0.8"/>
<circle cx="462.91" cy="31.16" r="1.52" fill="#f7ab90" fill-opacity="0.8"/>
<circle cx="462.87" cy="31.90" r="1.53" fill="#f7a88d" fill-opacity="0.8"/>
<circle cx="462.94" cy="67.35" r="1.38" fill="#f7b59d" fill-opacity="0.8"/>
<circle cx="463.13" cy="32.24" r="1.17" fill="#f8896b" fill-opacity="0.8"/>
<circle cx="462.62" cy="83.22" r="1.02" fill="#f89072" fill-opacity="0.8"/>
<circle cx="462.96" cy="59.17" r="1.46" fill="#f7b097" fill-opacity="0.8"/>
<circle cx="462.98" cy="67.96" r="1.47" fill="#f7a388" fill-opacity="0.8"/>
<circle cx="468.06" cy="83.02" r="1.32" fill="#f7a084" fill-opacity="0.8"/>
<circle cx="468.42" cy="79.41" r="1.22" fill="#f7bea8" fill-opacity="0.8"/>
<circle cx="468.17" cy="62.10" r="1.31" fill="#f7ae94" fill-opacity="0.8"/>
<circle cx="467.90" cy="43.32" r="1.38" fill="#f7a68b" fill-opacity="0.8"/>
<circle cx="468.00" cy="33.74" r="1.48" fill="#f89678" fill-opacity="0.8"/>
<circle cx="468.27" cy="29.81" r="1.13" fill="#f7a083" fill-opacity="0.8"/>
<circle cx="467.93" cy="23.02" r="1.06" fill="#f7b9a1" fill-opacity="0.8"/>
<circle cx="468.23" cy="117.83" r="1.45" fill="#f7ae95" fill-opacity="0.8"/>
<circle cx="468.09" cy="107.17" r="1.07" fill="#f7997b" fill-opacity="0.8"/>
<circle cx="468.56" cy="64.05" r="1.03" fill="#f79f83" fill-opacity="0.8"/>
<circle cx="468.21" cy="71.38" r="1.50" fill="#f89779" fill-opacity="0.8"/>
<circle cx="468.05" cy="74.21" r="1.53" fill="#f89374" fill-opacity="0.8"/>
<circle cx="467.94" cy="125.59" r="1.23" fill="#f7a387" fill-opacity="0.8"/>
<circle cx="468.09" cy="43.03" r="1.50" fill="#f7a88e" fill-opacity="0.8"/>
<circle cx="471.68" cy="57.87" r="1.22" fill="#f7a084" fill-opacity="0.8"/>
<circle cx="471.98" cy="85.69" r="0.99" fill="#f7b8a1" fill-opacity="0.8"/>
<circle cx="471.64" cy="114.26" r="1.25" fill="#f7bfa9" fill-opacity="0.8"/>
<circle cx="471.51" cy="92.55" r="1.41" fill="#f89577" fill-opacity="0.8"/>
<circle cx="472.07" cy="69.52" r="1.06" fill="#f7a387" fill-opacity="0.8"/>
<circle cx="471.61" cy="28.55" r="1.12" fill="#f7af95" fill-opacity="0.8"/>
<circle cx="471.64" cy="28.57" r="1.53" fill="#f7bfa8" fill-opacity="0.8"/>
<circle cx="471.11" cy="53.08" r="0.99" fill="#f7a98f" fill-opacity="0.8"/>
<circle cx="471.35" cy="49.00" r="1.15" fill="#f8896b" fill-opacity="0.8"/>
<circle cx="471.63" cy="31.32" r="1.53" fill="#f7c1ac" fill-opacity="0.8"/>
<circle cx="471.49" cy="150.77" r="1.41" fill="#f7a286" fill-opacity="0.8"/>
<circle cx="471.19" cy="45.82" r="1.01" fill="#f7b39b" fill-opacity="0.8"/>
<circle cx="471.34" cy="122.77" r="0.97" fill="#f7b299" fill-opacity="0.8"/>
<circle cx="471.69" cy="140.88" r="1.38" fill="#f79f83" fill-opacity="0.8"/>
<circle cx="476.38" cy="149.21" r="1.19" fill="#f7b49b" fill-opacity="0.8"/>
<circle cx="476.27" cy="58.71" r="1.12" fill="#f7c5b1" fill-opacity="0.8"/>
<circle cx="476.18" cy="35.38" r="1.11" fill="#f7c5b0" fill-opacity="0.8"/>
<circle cx="476.40" cy="155.73" r="1.44" fill="#f7b9a1" fill-opacity="0.8"/>
<circle cx="476.16" cy="103.29" r="1.19" fill="#f7bba4" fill-opacity="0.8"/>
<circle cx="476.23" cy="109.32" r="1.42" fill="#f79d80" fill-opacity="0.8"/>
<circle cx="476.14" cy="39.60" r="1.30" fill="#f7c5b0" fill-opacity="0.8"/>
<circle cx="476.01" cy="18.90" r="1.10" fill="#f8ccba" fill-opacity="0.8"/>
<circle cx="476.54" cy="113.64" r="1.13" fill="#f7ad94" fill-opacity="0.8"/>
<circle cx="476.42" cy="47.79" r="1.04" fill="#f89072" fill-opacity="0.8"/>
<circle cx="476.59" cy="119.46" r="1.24" fill="#f7a58a" fill-opacity="0.8"/>
<circle cx="475.94" cy="108.57" r="1.01" fill="#f7a68b" fill-opacity="0.8"/>
<circle cx="476.60" cy="85.08" r="1.02" fill="#f7ac92" fill-opacity="0.8"/>
<circle cx="476.55" cy="67.94" r="1.26" fill="#f7ad94" fill-opacity="0.8"/>
<circle cx="479.88" cy="64.41" r="1.31" fill="#f7ac92" fill-opacity="0.8"/>
<circle cx="479.86" cy="65.81" r="1.23" fill="#f7bda6" fill-opacity="0.8"/>
<circle cx="479.83" cy="112.26" r="1.22" fill="#f8c9b6" fill-opacity="0.8"/>
<circle cx="479.67" cy="49.41" r="1.49" fill="#f7c5b0" fill-opacity="0.8"/>
<circle cx="479.50" cy="91.86" r="0.99" fill="#f7bfa8" fill-opacity="0.8"/>
<circle cx="479.67" cy="44.75" r="1.48" fill="#f7b39b" fill-opacity="0.8"/>
<circle cx="479.50" cy="71.33" r="1.32" fill="#f7a58a" fill-opacity="0.8"/>
<circle cx="479.77" cy="54.16" r="1.47" fill="#f7bba4" fill-opacity="0.8"/>
<circle cx="479.52" cy="58.18" r="1.24" fill="#f7b097" fill-opacity="0.8"/>
<circle cx="479.81" cy="115.39" r="1.24" fill="#f7a88e" fill-opacity="0.8"/>
<circle cx="479.51" cy="129.84" r="1.32" fill="#f79c7f" fill-opacity="0.8"/>
<circle cx="479.95" cy="92.76" r="1.16" fill="#f7a98f" fill-opacity="0.8"/>
<circle cx="479.89" cy="73.58" r="1.32" fill="#f7aa8f" fill-opacity="0.8"/>
<circle cx="479.89" cy="151.49" r="1.37" fill="#f7ad93" fill-opacity="0.8"/>
<circle cx="484.26" cy="51.26" r="1.32" fill="#f7b198" fill-opacity="0.8"/>
<circle cx="484.53" cy="126.57" r="1.25" fill="#f8c9b6" fill-opacity="0.8"/>
<circle cx="484.85" cy="121.95" r="1.23" fill="#f7ab91" fill-opacity="0.8"/>
<circle cx="484.48" cy="81.80" r="1.53" fill="#f7b59c" fill-opacity="0.8"/>
<circle cx="484.85" cy="120.78" r="1.02" fill="#f79f83" fill-opacity="0.8"/>
<circle cx="484.66" cy="111.84" r="1.42" fill="#f7b8a0" fill-opacity="0.8"/>
<circle cx="484.63" cy="39.19" r="1.32" fill="#f7b8a1" fill-opacity="0.8"/>
<circle cx="484.36" cy="155.93" r="1.44" fill="#f7aa90" fill-opacity="0.8"/>
<circle cx="484.57" cy="79.41" r="1.50" fill="#f7a084" fill-opacity="0.8"/>
<circle cx="484.63" cy="66.07" r="1.27" fill="#f7a88e" fill-opacity="0.8"/>
<circle cx="484.74" cy="109.77" r="1.37" fill="#f7a489" fill-opacity="0.8"/>
<circle cx="484.55" cy="89.07" r="1.34" fill="#f7b9a2" fill-opacity="0.8"/>
<circle cx="484.51" cy="25.16" r="1.15" fill="#f7a78c" fill-opacity="0.8"/>
<circle cx="484.46" cy="24.19" r="1.49" fill="#f8d3c3" fill-opacity="0.8"/>
<circle cx="488.16" cy="61.04" r="1.11" fill="#f7ac92" fill-opacity="0.8"/>
<circle cx="487.86" cy="99.83" r="1.24" fill="#f7a78c" fill-opacity="0.8"/>
<circle cx="487.49" cy="55.36" r="0.97" fill="#f7c5b1" fill-opacity="0.8"/>
<circle cx="488.17" cy="39.50" r="1.40" fill="#f7c8b5" fill-opacity="0.8"/>
<circle cx="488.11" cy="69.04" r="1.13" fill="#f8cbb9" fill-opacity="0.8"/>
<circle cx="487.82" cy="86.94" r="1.27" fill="#f8d2c2" fill-opacity="0.8"/>
<circle cx="487.91" cy="38.81" r="1.03" fill="#f7ae94" fill-opacity="0.8"/>
<circle cx="487.93" cy="128.25" r="1.46" fill="#f7bba4" fill-opacity="0.8"/>
<circle cx="487.96" cy="154.18" r="1.48" fill="#f9d6c6" fill-opacity="0.8"/>
<circle cx="488.02" cy="18.54" r="1.53" fill="#f9d5c5" fill-opacity="0.8"/>
<circle cx="487.74" cy="124.12" r="0.97" fill="#f7ab91" fill-opacity="0.8"/>
<circle cx="487.89" cy="85.07" r="1.48" fill="#f7a68b" fill-opacity="0.8"/>
<circle cx="487.59" cy="160.08" r="1.14" fill="#f7baa3" fill-opacity="0.8"/>
<circle cx="487.84" cy="79.46" r="1.23" fill="#f7bda6" fill-opacity="0.8"/>
<circle cx="494.06" cy="151.46" r="1.56" fill="#f7c2ac" fill-opacity="0.8"/>
<circle cx="493.28" cy="83.57" r="1.40" fill="#f8cab7" fill-opacity="0.8"/>
<circle cx="493.87" cy="156.21" r="1.72" fill="#f7b9a1" fill-opacity="0.8"/>
<circle cx="493.28" cy="124.87" r="1.60" fill="#f7c1ac" fill-opacity="0.8"/>
<circle cx="493.14" cy="62.84" r="1.63" fill="#f9dbcd" fill-opacity="0.8"/>
<circle cx="493.44" cy="125.10" r="1.50" fill="#f8cbb8" fill-opacity="0.8"/>
<circle cx="493.69" cy="107.56" r="1.98" fill="#f9d3c3" fill-opacity="0.8"/>
<circle cx="493.73" cy="66.62" r="2.01" fill="#faddd0" fill-opacity="0.8"/>
<circle cx="494.36" cy="88.11" r="1.36" fill="#f7baa2" fill-opacity="0.8"/>
<circle cx="493.58" cy="150.37" r="1.36" fill="#f7b79f" fill-opacity="0.8"/>
<circle cx="493.32" cy="140.76" r="1.48" fill="#f7bca5" fill-opacity="0.8"/>
<circle cx="493.62" cy="66.14" r="1.46" fill="#f7c6b2" fill-opacity="0.8"/>
<circle cx="493.98" cy="146.42" r="1.70" fill="#f7aa8f" fill-opacity="0.8"/>
<circle cx="493.69" cy="72.94" r="1.99" fill="#f7ad93" fill-opacity="0.8"/>
<rect x="430.60" y="40.00" width="3.40" height="26.00" fill="#ffffff" rx="1.5"/>
<polyline points="387.6,94.3 389.1,93.7 394.2,80.4 399.9,98.8 406.6,79.5 412.3,99.4 417.6,79.9 423.6,96.2 425.2,98.1 427.1,93.7 429.3,94.7 436.9,79.9 445.5,98.8 449.8,79.9 455.9,94.7 458.2,95.6 460.6,98.5" fill="none" stroke="#000" stroke-width="1.8" stroke-linejoin="round"/>
<polyline points="461.5,97.0 466.3,79.1 473.0,99.4 478.7,79.1 484.4,99.4 489.1,80.4 491.0,86.1 493.5,78.5 496.1,78.5" fill="none" stroke="#000" stroke-width="1.8" stroke-linejoin="round"/>
<polyline points="502.4,100.4 508.8,79.2 512.6,86.3 517.4,89.1 521.8,99.1 526.0,79.6 527.6,83.4 529.5,79.2 530.4,78.6" fill="none" stroke="#000" stroke-width="1.8" stroke-linejoin="round"/>
<polyline points="532.7,99.6 535.6,79.6 538.5,83.8 541.3,83.0 549.9,99.1 553.8,79.2 556.6,78.6 559.5,81.5 562.4,94.9 564.3,99.1 566.6,94.5" fill="none" stroke="#000" stroke-width="1.8" stroke-linejoin="round"/>
<polyline points="569.1,99.6 575.7,76.7 583.4,99.6 586.3,94.9 589.1,87.2" fill="none" stroke="#000" stroke-width="1.8" stroke-linejoin="round"/>
<polyline points="591.0,93.9 594.9,96.8 598.7,104.0 600.2,100.6 602.1,101.5 603.5,105.4 611.1,79.2 614.9,86.3 621.6,99.6 625.1,105.4 632.1,79.6 635.5,86.3" fill="none" stroke="#000" stroke-width="1.8" stroke-linejoin="round"/>
<rect x="531.2" y="15.1" width="99.2" height="15.3" rx="2" fill="#ffffff" fill-opacity="0.96" stroke="#cccccc" stroke-width="0.8"/>
<line x1="534.30" y1="22.70" x2="548.60" y2="22.70" stroke="#000" stroke-width="1.5" />
<text x="555.60" y="25.60" font-size="9.57" text-anchor="start" font-weight="normal" fill="#1a1a1a" stroke="#1a1a1a" stroke-width="0.22" textLength="71.39" lengthAdjust="spacingAndGlyphs">Glider longitude</text>
<rect x="360.5" y="10.5" width="275.0" height="159.0" fill="none" stroke="#262626" stroke-width="1"/>
<line x1="357.00" y1="17.50" x2="360.50" y2="17.50" stroke="#222" stroke-width="0.9" />
<text x="354.60" y="21.80" font-size="11.02" text-anchor="end" font-weight="normal" fill="#1a1a1a" stroke="#1a1a1a" stroke-width="0.22" textLength="13.04" lengthAdjust="spacingAndGlyphs">18</text>
<line x1="357.00" y1="53.77" x2="360.50" y2="53.77" stroke="#222" stroke-width="0.9" />
<text x="354.60" y="58.07" font-size="11.02" text-anchor="end" font-weight="normal" fill="#1a1a1a" stroke="#1a1a1a" stroke-width="0.22" textLength="13.04" lengthAdjust="spacingAndGlyphs">17</text>
<line x1="357.00" y1="90.05" x2="360.50" y2="90.05" stroke="#222" stroke-width="0.9" />
<text x="354.60" y="94.35" font-size="11.02" text-anchor="end" font-weight="normal" fill="#1a1a1a" stroke="#1a1a1a" stroke-width="0.22" textLength="13.04" lengthAdjust="spacingAndGlyphs">16</text>
<line x1="357.00" y1="126.32" x2="360.50" y2="126.32" stroke="#222" stroke-width="0.9" />
<text x="354.60" y="130.62" font-size="11.02" text-anchor="end" font-weight="normal" fill="#1a1a1a" stroke="#1a1a1a" stroke-width="0.22" textLength="13.04" lengthAdjust="spacingAndGlyphs">15</text>
<line x1="357.00" y1="162.60" x2="360.50" y2="162.60" stroke="#222" stroke-width="0.9" />
<text x="354.60" y="166.90" font-size="11.02" text-anchor="end" font-weight="normal" fill="#1a1a1a" stroke="#1a1a1a" stroke-width="0.22" textLength="13.04" lengthAdjust="spacingAndGlyphs">14</text>
<line x1="374.30" y1="169.50" x2="374.30" y2="173.00" stroke="#222" stroke-width="0.9" />
<line x1="461.20" y1="169.50" x2="461.20" y2="173.00" stroke="#222" stroke-width="0.9" />
<line x1="545.50" y1="169.50" x2="545.50" y2="173.00" stroke="#222" stroke-width="0.9" />
<line x1="632.30" y1="169.50" x2="632.30" y2="173.00" stroke="#222" stroke-width="0.9" />
<line x1="413.60" y1="169.50" x2="413.60" y2="171.50" stroke="#222" stroke-width="0.7" />
<line x1="503.30" y1="169.50" x2="503.30" y2="171.50" stroke="#222" stroke-width="0.7" />
<line x1="584.30" y1="169.50" x2="584.30" y2="171.50" stroke="#222" stroke-width="0.7" />
<text transform="translate(336.70,90.00) rotate(-90)" font-size="10.70" text-anchor="middle" font-weight="normal" fill="#1a1a1a" stroke="#1a1a1a" stroke-width="0.22" textLength="63.91" lengthAdjust="spacingAndGlyphs">Longitude °E</text>
<text x="363.60" y="161.50" font-size="15.60" text-anchor="start" font-weight="bold" fill="#000" textLength="10.74" lengthAdjust="spacingAndGlyphs">b</text>
<defs><linearGradient id="cbb" x1="0" y1="1" x2="0" y2="0"><stop offset="0.0000" stop-color="#fdf6f2"/><stop offset="0.0625" stop-color="#fcebe4"/><stop offset="0.1250" stop-color="#fae1d6"/><stop offset="0.1875" stop-color="#f8cfbe"/><stop offset="0.2500" stop-color="#f7bda6"/><stop offset="0.3125" stop-color="#f7a88e"/><stop offset="0.3750" stop-color="#f89475"/><stop offset="0.4375" stop-color="#f97f60"/><stop offset="0.5000" stop-color="#fb6a4a"/><stop offset="0.5625" stop-color="#f5523b"/><stop offset="0.6250" stop-color="#ef3b2c"/><stop offset="0.6875" stop-color="#dd2a24"/><stop offset="0.7500" stop-color="#cb181d"/><stop offset="0.8125" stop-color="#b81419"/><stop offset="0.8750" stop-color="#a50f15"/><stop offset="0.9375" stop-color="#860811"/><stop offset="1.0000" stop-color="#67000d"/></linearGradient></defs>
<rect x="641.5" y="10.5" width="8.0" height="159" fill="url(#cbb)" stroke="#262626" stroke-width="1"/>
<line x1="649.50" y1="169.50" x2="653.00" y2="169.50" stroke="#222" stroke-width="0.9" />
<text x="654.60" y="173.80" font-size="11.02" fill="#1a1a1a" stroke="#1a1a1a" stroke-width="0.22" textLength="13.04" lengthAdjust="spacingAndGlyphs">10</text>
<text x="667.64" y="169.70" font-size="7.71" fill="#1a1a1a" stroke="#1a1a1a" stroke-width="0.15" textLength="4.56" lengthAdjust="spacingAndGlyphs">0</text>
<line x1="649.50" y1="157.53" x2="651.50" y2="157.53" stroke="#222" stroke-width="0.6" />
<line x1="649.50" y1="150.53" x2="651.50" y2="150.53" stroke="#222" stroke-width="0.6" />
<line x1="649.50" y1="145.57" x2="651.50" y2="145.57" stroke="#222" stroke-width="0.6" />
<line x1="649.50" y1="141.72" x2="651.50" y2="141.72" stroke="#222" stroke-width="0.6" />
<line x1="649.50" y1="138.57" x2="651.50" y2="138.57" stroke="#222" stroke-width="0.6" />
<line x1="649.50" y1="135.91" x2="651.50" y2="135.91" stroke="#222" stroke-width="0.6" />
<line x1="649.50" y1="133.60" x2="651.50" y2="133.60" stroke="#222" stroke-width="0.6" />
<line x1="649.50" y1="131.57" x2="651.50" y2="131.57" stroke="#222" stroke-width="0.6" />
<line x1="649.50" y1="129.75" x2="653.00" y2="129.75" stroke="#222" stroke-width="0.9" />
<text x="654.60" y="134.05" font-size="11.02" fill="#1a1a1a" stroke="#1a1a1a" stroke-width="0.22" textLength="13.04" lengthAdjust="spacingAndGlyphs">10</text>
<text x="667.64" y="129.95" font-size="7.71" fill="#1a1a1a" stroke="#1a1a1a" stroke-width="0.15" textLength="4.56" lengthAdjust="spacingAndGlyphs">1</text>
<line x1="649.50" y1="117.78" x2="651.50" y2="117.78" stroke="#222" stroke-width="0.6" />
<line x1="649.50" y1="110.78" x2="651.50" y2="110.78" stroke="#222" stroke-width="0.6" />
<line x1="649.50" y1="105.82" x2="651.50" y2="105.82" stroke="#222" stroke-width="0.6" />
<line x1="649.50" y1="101.97" x2="651.50" y2="101.97" stroke="#222" stroke-width="0.6" />
<line x1="649.50" y1="98.82" x2="651.50" y2="98.82" stroke="#222" stroke-width="0.6" />
<line x1="649.50" y1="96.16" x2="651.50" y2="96.16" stroke="#222" stroke-width="0.6" />
<line x1="649.50" y1="93.85" x2="651.50" y2="93.85" stroke="#222" stroke-width="0.6" />
<line x1="649.50" y1="91.82" x2="651.50" y2="91.82" stroke="#222" stroke-width="0.6" />
<line x1="649.50" y1="90.00" x2="653.00" y2="90.00" stroke="#222" stroke-width="0.9" />
<text x="654.60" y="94.30" font-size="11.02" fill="#1a1a1a" stroke="#1a1a1a" stroke-width="0.22" textLength="13.04" lengthAdjust="spacingAndGlyphs">10</text>
<text x="667.64" y="90.20" font-size="7.71" fill="#1a1a1a" stroke="#1a1a1a" stroke-width="0.15" textLength="4.56" lengthAdjust="spacingAndGlyphs">2</text>
<line x1="649.50" y1="78.03" x2="651.50" y2="78.03" stroke="#222" stroke-width="0.6" />
<line x1="649.50" y1="71.03" x2="651.50" y2="71.03" stroke="#222" stroke-width="0.6" />
<line x1="649.50" y1="66.07" x2="651.50" y2="66.07" stroke="#222" stroke-width="0.6" />
<line x1="649.50" y1="62.22" x2="651.50" y2="62.22" stroke="#222" stroke-width="0.6" />
<line x1="649.50" y1="59.07" x2="651.50" y2="59.07" stroke="#222" stroke-width="0.6" />
<line x1="649.50" y1="56.41" x2="651.50" y2="56.41" stroke="#222" stroke-width="0.6" />
<line x1="649.50" y1="54.10" x2="651.50" y2="54.10" stroke="#222" stroke-width="0.6" />
<line x1="649.50" y1="52.07" x2="651.50" y2="52.07" stroke="#222" stroke-width="0.6" />
<line x1="649.50" y1="50.25" x2="653.00" y2="50.25" stroke="#222" stroke-width="0.9" />
<text x="654.60" y="54.55" font-size="11.02" fill="#1a1a1a" stroke="#1a1a1a" stroke-width="0.22" textLength="13.04" lengthAdjust="spacingAndGlyphs">10</text>
<text x="667.64" y="50.45" font-size="7.71" fill="#1a1a1a" stroke="#1a1a1a" stroke-width="0.15" textLength="4.56" lengthAdjust="spacingAndGlyphs">3</text>
<line x1="649.50" y1="38.28" x2="651.50" y2="38.28" stroke="#222" stroke-width="0.6" />
<line x1="649.50" y1="31.28" x2="651.50" y2="31.28" stroke="#222" stroke-width="0.6" />
<line x1="649.50" y1="26.32" x2="651.50" y2="26.32" stroke="#222" stroke-width="0.6" />
<line x1="649.50" y1="22.47" x2="651.50" y2="22.47" stroke="#222" stroke-width="0.6" />
<line x1="649.50" y1="19.32" x2="651.50" y2="19.32" stroke="#222" stroke-width="0.6" />
<line x1="649.50" y1="16.66" x2="651.50" y2="16.66" stroke="#222" stroke-width="0.6" />
<line x1="649.50" y1="14.35" x2="651.50" y2="14.35" stroke="#222" stroke-width="0.6" />
<line x1="649.50" y1="12.32" x2="651.50" y2="12.32" stroke="#222" stroke-width="0.6" />
<line x1="649.50" y1="10.50" x2="653.00" y2="10.50" stroke="#222" stroke-width="0.9" />
<text x="654.60" y="14.80" font-size="11.02" fill="#1a1a1a" stroke="#1a1a1a" stroke-width="0.22" textLength="13.04" lengthAdjust="spacingAndGlyphs">10</text>
<text x="667.64" y="10.70" font-size="7.71" fill="#1a1a1a" stroke="#1a1a1a" stroke-width="0.15" textLength="4.56" lengthAdjust="spacingAndGlyphs">4</text>
<text transform="translate(682.90,90.00) rotate(-90)" font-size="10.96" text-anchor="middle" font-weight="normal" fill="#1a1a1a" stroke="#1a1a1a" stroke-width="0.22" textLength="101.40" lengthAdjust="spacingAndGlyphs">Methane conc. [nM]</text>
<line x1="114.80" y1="181.50" x2="114.80" y2="340.50" stroke="#b0b0b0" stroke-width="0.8" />
<line x1="197.20" y1="181.50" x2="197.20" y2="340.50" stroke="#b0b0b0" stroke-width="0.8" />
<line x1="279.60" y1="181.50" x2="279.60" y2="340.50" stroke="#b0b0b0" stroke-width="0.8" />
<line x1="32.50" y1="185.60" x2="327.50" y2="185.60" stroke="#b0b0b0" stroke-width="0.8" />
<line x1="32.50" y1="229.83" x2="327.50" y2="229.83" stroke="#b0b0b0" stroke-width="0.8" />
<line x1="32.50" y1="274.07" x2="327.50" y2="274.07" stroke="#b0b0b0" stroke-width="0.8" />
<line x1="32.50" y1="318.30" x2="327.50" y2="318.30" stroke="#b0b0b0" stroke-width="0.8" />
<polyline points="314.8,207.5 314.7,206.7 314.3,208.0 314.0,209.2 314.6,210.5 314.1,211.6 314.1,213.0 314.9,214.0 315.4,215.6 314.9,216.7 314.2,217.7 314.6,218.9 314.1,220.2 313.8,221.5 314.2,222.9 314.2,224.1 314.5,225.4 314.8,226.6 315.8,228.1 316.0,229.4 315.7,230.5 315.7,231.7 316.4,233.2 316.6,234.5 316.8,235.9 315.8,237.0 316.8,238.4 316.7,239.8 315.5,241.2 316.2,242.4 316.5,243.0 318.7,243.7 318.7,244.1 319.8,244.5 321.3,245.7 321.7,246.8 321.8,248.0 322.4,249.1 323.0,250.1 323.4,251.3 324.5,252.8 323.9,254.1 324.0,255.3 325.0,256.7 323.9,258.1 323.8,259.1 324.3,260.4 323.5,261.6 323.0,263.1 323.7,261.6 324.3,260.0 324.3,261.1 323.2,262.3 322.0,263.1 322.1,264.4 320.6,265.3 320.5,266.7 318.7,267.5 318.5,268.2 316.8,268.8 315.2,270.0 314.6,270.7 313.8,271.6 313.3,272.3 312.0,273.3 311.0,274.0 310.7,275.3 309.9,276.2 309.4,277.2 307.4,278.3 307.0,279.3 305.6,280.2 305.0,280.9 303.7,282.0 303.3,282.7 301.9,283.5 300.2,284.0 298.9,285.1 300.8,285.9 301.1,286.4 302.8,287.2 303.4,288.4 304.0,289.3 305.7,290.5 306.5,291.5 307.5,292.6 305.8,293.4 305.4,294.3 303.8,295.1 303.2,295.8 301.6,296.2 300.3,296.7 298.4,297.2 298.2,297.7 296.6,298.0 295.1,298.7 293.4,299.5 291.5,300.2 292.5,300.7 294.1,301.1 295.5,301.7 296.4,302.5 294.9,302.7 293.9,303.5 292.7,303.8 292.5,304.6 293.0,305.7 293.9,306.7 294.8,307.7 294.5,308.6 293.5,309.1 292.1,309.8 290.3,310.2 289.9,310.7 288.5,311.0 286.8,311.0 285.7,311.4 284.2,311.8 283.5,312.1 281.9,312.5 281.5,312.7 279.2,312.8 279.0,313.1 277.6,313.6 276.0,314.0 274.5,314.0 273.8,314.3 273.1,314.6 271.1,314.8 270.5,315.3 269.4,315.9 268.5,316.6 267.3,316.8 265.9,317.4 264.3,318.0 264.1,318.5 264.6,319.3 266.2,320.2 267.2,321.1 268.0,321.9 267.2,322.2 265.8,322.9 263.4,323.3 262.7,323.7 261.1,323.9 260.5,324.3 259.3,324.5 257.6,324.7 256.2,325.1" fill="none" stroke="#1f77b4" stroke-width="1.1" stroke-linejoin="round"/>
<polyline points="270.2,194.2 269.7,195.4 268.9,196.7 269.5,197.9 268.6,199.1 268.0,200.3 268.0,201.5 266.4,202.9 266.3,204.3 265.6,205.4 265.8,206.7 265.5,208.0 264.8,209.5 264.3,210.5 264.5,212.0 264.7,213.3 264.9,214.4 265.0,215.5 264.2,216.9 264.4,218.3 264.9,219.4 265.2,220.7 264.7,221.9 265.6,223.3 265.2,224.6 266.4,225.8 266.3,227.0 266.5,228.4 266.7,229.4 267.2,230.8 266.6,232.1 266.8,233.2 267.1,234.2 266.9,235.6 267.5,237.0 266.8,238.0 266.7,239.2 267.5,240.6 267.2,241.7 266.8,243.1 267.8,244.3 267.6,245.5 267.0,246.9 267.6,248.2 267.2,249.6 267.0,251.0 267.0,252.2 267.3,253.4 267.7,254.8 267.5,256.1 267.8,257.4 267.4,258.8 269.3,259.9 270.8,260.9 272.1,261.3 273.2,262.0 274.7,262.3 275.3,263.0 276.5,263.5 278.0,264.2 277.9,265.5 278.6,266.4 280.4,267.6 281.4,268.6 282.1,269.9 282.2,271.3 283.5,273.1 284.8,273.6 285.2,274.6 286.1,275.4 286.6,275.9 287.5,276.7 288.9,277.6 289.9,278.3 288.3,279.4 288.0,280.8 287.0,281.6 284.9,283.0 284.3,284.0 283.1,285.0 282.8,286.3 282.3,287.5 281.9,289.2 280.7,290.4 281.7,291.7 281.3,293.0 281.9,294.3 282.7,295.9 281.9,297.5 281.3,299.0 279.9,299.2 279.1,299.5 276.9,299.8 276.2,300.0 275.0,300.1 273.8,300.5 272.2,300.6 271.0,300.7 269.7,300.8 267.9,301.2 266.1,301.5 265.4,302.0 263.5,302.5 262.8,302.6 261.5,303.0 260.1,303.2 259.4,303.6 257.8,304.0 256.9,304.0 255.2,304.6 253.7,305.0 252.4,305.4 251.7,305.9 250.4,306.7 249.7,307.3 249.1,308.1 248.0,308.8 246.7,309.4 245.4,310.4 243.7,311.2 242.7,311.5 241.6,312.1 241.1,312.5 240.4,313.1 238.8,313.7 237.6,314.2 236.8,314.8 235.3,315.4 234.2,315.7 233.1,316.2 232.4,317.6 232.2,318.7 233.4,319.5 234.5,320.9 234.3,322.0 235.5,322.9 237.4,323.0 238.1,323.4 239.6,323.4 241.1,323.6 241.9,323.5 243.1,323.8 243.8,323.8 245.3,324.6 246.3,325.6 245.1,325.7 244.1,326.0 243.1,326.2 242.2,326.6 240.7,326.6 238.7,327.1 238.3,327.3 236.6,327.4 235.8,327.7 234.5,327.9 233.5,327.9 231.7,328.3 231.3,328.5 229.1,328.3 228.2,328.6 227.4,328.6 226.1,328.8 224.4,329.2 223.8,329.3 222.3,329.4 220.9,329.5 220.4,329.8 218.3,329.8 218.0,330.1 216.7,330.1 215.1,330.3 214.3,330.5 212.9,330.9 211.3,330.9 210.6,331.2 209.0,331.1 207.4,331.5 206.2,331.4 205.5,331.7 204.4,331.8 203.0,332.0" fill="none" stroke="#ff7f0e" stroke-width="1.1" stroke-linejoin="round"/>
<polyline points="188.1,194.0 187.3,195.5 186.9,196.7 187.5,198.1 186.7,199.2 186.7,200.6 186.7,201.7 187.0,203.1 187.2,204.5 187.1,205.6 186.8,206.8 186.2,208.1 186.8,209.5 186.1,210.7 186.3,212.0 186.4,213.3 186.2,214.6 187.0,215.9 187.1,217.2 186.4,218.6 187.3,219.7 186.3,221.1 187.0,222.4 187.6,223.8 187.4,224.8 187.1,226.2 186.5,227.2 187.3,228.7 186.5,229.8 186.6,231.0 187.2,232.1 186.7,233.5 187.0,234.7 186.9,235.7 187.5,237.2 186.9,238.4 187.1,239.8 187.2,241.0 187.1,242.4 187.0,243.7 187.0,245.0 187.0,246.3 186.5,247.6 186.7,248.8 186.2,250.0 186.6,251.5 186.2,252.5 186.0,253.9 186.1,255.3 185.8,256.4 185.9,257.8 186.7,258.9 185.9,260.2 186.5,261.6 186.4,262.4 187.1,263.6 187.8,264.8 188.8,265.7 188.8,266.8 190.1,267.4 191.6,267.8 193.5,268.2 194.1,268.8 196.2,269.0 196.4,270.3 197.0,271.2 197.1,272.5 198.6,273.4 198.9,274.5 199.4,275.8 200.6,276.6 200.5,277.7 201.7,278.9 202.8,280.0 202.9,280.9 202.5,282.0 202.6,283.2 201.8,284.5 200.8,285.4 199.2,286.2 197.6,286.9 197.2,287.6 195.1,287.9 194.6,288.3 193.1,289.0 192.5,289.5 191.2,289.9 189.9,290.4 188.8,290.8 187.5,291.3 186.0,291.9 184.3,292.4 183.3,292.5 181.8,292.9 181.1,293.4 179.7,293.7 178.2,294.0 177.5,294.6 176.7,294.8 174.5,295.1 174.1,295.4 172.8,295.8 170.9,296.4 170.6,296.5 169.2,296.9 167.7,297.3 166.4,297.6 165.3,298.1 163.9,298.3 163.3,298.7 162.3,299.1 160.9,299.4 159.8,299.7 157.8,300.0 157.2,300.6 155.4,300.9 155.0,301.3 152.9,301.5 151.8,301.7 150.9,301.9 150.3,302.3 148.6,302.6 147.7,302.9 146.0,303.0 144.8,303.1 143.6,303.6 143.1,303.9 141.5,304.1 139.6,304.3 138.8,304.8 137.3,305.0 136.6,305.4 135.8,305.6 133.8,306.0 133.5,306.2 131.7,306.5 130.3,306.9 130.1,307.1 130.9,309.3 131.3,310.0 133.0,310.3 133.4,310.9 135.1,311.7 135.8,312.5 137.0,312.9 137.7,313.8 138.8,314.5 140.4,315.2 141.5,315.9 143.0,317.0 144.5,317.4 145.3,318.0 143.9,318.6 142.2,319.0 141.5,319.1 139.7,319.2 138.2,319.6" fill="none" stroke="#2ca02c" stroke-width="1.1" stroke-linejoin="round"/>
<polyline points="120.3,188.6 120.8,190.0 119.7,190.9 119.0,192.2 118.5,193.3 118.8,194.3 117.8,195.7 117.6,196.9 117.9,198.0 117.6,199.2 117.6,200.5 117.6,201.7 117.5,203.0 117.8,204.4 117.1,205.6 117.1,206.9 117.2,208.2 116.8,209.6 117.1,210.8 116.5,211.9 116.7,213.4 116.5,214.5 116.3,215.9 116.1,216.9 116.5,218.5 116.5,219.6 116.4,220.8 116.2,222.0 115.5,223.4 115.9,224.6 115.3,226.0 115.8,227.1 115.4,228.4 115.3,229.5 116.2,231.1 115.9,232.4 115.7,233.6 115.6,234.9 116.1,236.2 115.6,237.5 115.7,238.6 116.7,239.7 116.0,241.1 116.1,242.3 116.9,243.8 116.4,244.9 116.7,246.1 116.1,247.7 116.5,248.8 117.3,250.3 117.0,251.3 117.0,252.9 118.0,253.9 118.1,255.3 117.9,256.6 118.7,258.2 118.2,259.5 118.6,261.0 118.9,262.1 120.1,263.6 121.1,264.7 121.8,265.3 122.6,266.4 123.2,267.0 123.8,267.9 125.4,268.5 125.9,269.2 127.6,270.0 128.3,270.6 130.0,271.2 130.3,271.7 132.2,272.5 132.5,273.5 133.3,274.7 134.8,275.6 134.3,276.5 133.7,277.7 132.7,278.9 131.8,279.8 132.0,280.9 130.3,281.5 129.0,282.1 128.7,282.2 126.9,283.0 125.6,283.5 124.6,283.7 123.4,284.4 122.0,284.9 121.3,285.3 119.7,286.0 118.7,286.4 117.8,286.8 116.4,287.3 114.9,287.8 113.4,288.3 112.5,288.6 110.6,288.9 109.3,289.2 108.3,289.3 107.2,290.1 105.9,290.7 104.2,290.9 102.8,291.5 102.1,292.0 100.7,292.7 99.2,293.2 98.6,293.6 97.6,293.9 95.7,294.3 94.3,294.7 93.8,295.2 92.2,295.6 90.7,296.1 89.6,296.3 88.4,296.9 88.1,297.7 86.1,298.4 85.3,299.2 84.9,299.7 83.1,300.6 82.5,301.0 80.6,301.8 78.8,301.9 78.4,302.1 76.5,302.4 75.1,302.6 73.3,303.2 72.8,303.4 70.8,303.4 69.9,303.6 68.4,304.1 66.9,304.1 66.3,304.4 63.8,304.6 63.3,304.7 61.6,305.2 60.9,305.4 59.7,305.5 57.8,305.9 59.0,306.2 60.0,306.4 61.2,306.8 62.4,307.0 63.7,307.2 65.0,307.4 67.0,307.6 68.1,307.5 68.7,307.6 70.3,307.9 71.0,307.9 72.1,308.1 73.6,308.8 75.2,308.9 76.0,309.3 77.9,309.7 78.5,311.1 79.5,312.1 80.0,312.7 80.9,313.2 82.5,313.6 83.9,313.7 85.0,314.1 85.8,314.4 87.7,314.6 88.6,315.1 90.1,315.3 91.5,315.6 92.7,316.1 93.3,316.2 92.1,316.6 90.9,316.7 90.0,316.8 88.0,317.0 86.5,317.1 84.9,317.5 84.3,317.7 83.5,317.7 81.8,318.0 80.0,318.1 79.2,318.3 78.1,318.2 76.6,318.3 75.0,318.5 73.3,318.6 72.3,318.8 71.0,318.9 69.9,319.2 68.5,319.5 67.3,319.5 66.2,319.8 64.8,320.0 64.2,320.2 63.0,320.2 61.4,320.6 59.8,320.8 58.6,321.0 57.9,321.2" fill="none" stroke="#d62728" stroke-width="1.1" stroke-linejoin="round"/>
<polyline points="119.3,190.1 118.0,191.0 116.6,192.1 116.7,193.2 115.2,194.5 114.5,195.7 114.3,197.1 113.3,198.2 114.0,199.5 113.5,200.6 113.2,201.8 113.0,203.1 113.6,204.2 113.6,205.2 112.6,206.8 112.7,208.0 113.5,209.3 112.5,210.7 113.0,212.1 112.1,213.5 112.7,214.7 112.9,216.1 113.1,217.4 113.2,218.7 113.8,219.8 113.1,221.3 113.2,222.5 113.7,223.8 113.9,225.2 112.8,226.4 113.1,227.8 112.8,229.0 113.1,230.5 112.4,231.7 112.5,232.9 112.8,234.2 112.3,235.4 112.4,236.9 112.5,238.1 113.3,239.4 112.6,240.8 113.5,241.7 112.9,243.1 113.6,244.3 113.6,245.5 113.7,246.7 113.3,248.1 114.5,249.5 114.7,250.7 115.4,252.1 115.8,253.7 115.3,255.0 116.2,256.4 115.8,257.8 116.7,259.6 117.5,260.7 117.5,262.2 117.8,263.7 117.6,265.0 116.0,265.9 115.5,266.8 115.1,268.1 117.0,269.9 116.6,271.1 117.3,272.4 117.4,273.6 118.4,275.0 118.6,276.1 119.8,277.4 121.1,278.5 121.5,279.8 120.4,280.3 118.5,280.9 118.1,281.5 116.4,282.1 115.0,282.4 114.2,282.8 113.1,283.1 111.4,283.6 110.5,283.8 108.9,284.1 108.8,284.5 106.6,284.8 106.0,285.5 104.5,285.8 103.7,286.0 102.9,286.3 100.8,286.8 100.4,287.1 98.6,288.1 97.9,288.9 96.0,289.6 97.4,290.0 97.6,290.6 98.7,291.2 100.0,292.1 98.7,292.8 97.2,293.5 97.1,294.2 95.3,295.3 94.4,295.6 92.6,295.9 91.8,296.3 90.7,296.3 89.3,296.8 87.7,297.1 86.7,297.5 85.0,298.0 83.5,298.4 82.5,299.0 80.9,299.9 79.6,300.8 81.5,301.6 81.8,302.4 83.0,303.6 83.4,305.0 83.7,306.5 83.4,308.1 82.4,308.7 80.6,309.3 79.7,309.7 78.6,310.1 77.0,310.2 75.9,310.3 74.5,310.6 73.6,310.7 72.2,310.7 71.4,310.8 69.6,311.3 69.1,311.4 66.9,311.7 66.6,311.9 64.6,312.3 62.8,312.6" fill="none" stroke="#9467bd" stroke-width="1.1" stroke-linejoin="round"/>
<polyline points="191.2,187.4 190.6,188.8 190.4,189.9 189.4,191.1 187.9,192.2 187.6,193.1 186.5,194.1 185.2,195.1 184.2,196.2 182.9,197.0 182.9,198.4 182.8,199.7 183.1,200.7 182.4,202.3 182.6,203.2 182.5,204.8 182.0,206.0 181.6,207.3 182.0,208.3 182.3,209.7 182.4,211.1 182.1,212.2 182.3,213.3 182.0,214.9 181.2,216.2 181.3,217.3 181.7,218.5 180.9,219.9 180.6,221.2 181.3,222.4 180.6,223.8 181.2,225.1 180.8,226.4 181.0,227.4 180.4,228.6 179.9,230.0 180.8,231.4 179.8,232.4 180.1,233.9 180.2,235.2 179.4,236.5 179.5,237.7 180.2,239.0 179.2,240.2 179.4,241.3 179.1,242.7 179.4,243.9 179.2,245.3 178.6,246.4 179.2,247.8 178.4,249.0 179.3,250.4 178.5,251.5 179.2,253.0 178.8,254.1 178.2,255.4 177.9,256.8 178.1,258.1 177.8,259.4 177.7,261.0 177.3,262.3 176.9,263.7 178.2,264.3 179.4,264.8 181.0,265.1 182.6,265.6 183.5,266.1 184.4,266.4 185.6,267.0 186.8,267.7 187.9,268.1 189.6,268.5 190.5,269.0 192.4,269.6 193.1,270.1 194.8,270.9 195.8,271.3 194.1,272.1 193.0,272.5 192.3,273.2 191.6,273.7 190.7,274.5 188.6,275.0 188.1,275.6 189.1,276.4 190.5,277.3 191.9,278.2 193.0,278.9 191.6,279.2 190.3,279.7 188.3,279.8 187.6,280.1 186.2,280.5 185.0,280.6 183.7,280.9 183.2,281.1 181.4,281.6 180.7,281.9 179.1,282.2 178.5,282.3 176.5,282.4 175.2,282.6 175.1,282.8 172.8,282.7 172.2,282.9 170.4,283.2 169.5,283.2 170.4,283.4 171.6,283.5 173.3,283.8 174.8,284.0 175.5,284.1 176.5,284.5 178.1,284.7 179.6,284.8 180.8,285.1 182.2,285.4 182.8,285.6 184.6,285.9 185.3,285.8 186.3,286.3 188.3,286.4 188.9,286.6 190.0,286.6 191.6,287.1 193.3,287.2 193.9,287.3 195.2,287.4 194.0,287.8 192.9,287.8 192.0,288.1 191.1,288.2 189.3,288.5 187.9,288.4 187.0,288.6 185.3,288.8 184.1,288.9 182.8,289.1 181.1,289.4 182.3,289.5 184.1,289.7 185.0,289.8 186.4,290.1 187.8,290.3 189.4,290.6 189.7,290.8 189.6,290.8 188.0,291.2 186.5,291.2 185.2,291.3 184.3,291.5 182.7,291.6 181.7,291.9 180.0,291.8 179.0,292.0 178.4,292.1 177.3,292.3 175.3,292.5 173.9,292.8 173.5,292.7 171.7,293.0 171.0,293.1 168.9,293.5 167.6,293.9 166.9,294.4 165.7,294.5 164.7,295.2 165.8,295.3 167.4,295.8 168.8,296.4 167.8,296.2 166.4,296.5 165.1,296.7 163.5,296.9 161.8,297.1 161.3,297.1 159.3,297.6 158.7,297.7 156.7,297.7 155.7,298.2 154.7,298.4 153.1,298.4 152.3,299.1 150.7,299.6 150.1,299.9 148.9,300.6 150.4,300.9 151.4,300.9 152.5,301.0 153.4,301.1 154.7,301.2 155.9,301.2 157.1,301.3 158.8,301.5 159.8,301.6 161.6,301.8 162.6,302.0 164.4,302.2 165.3,302.4 166.1,302.8 167.8,302.8 168.4,303.2 170.1,303.3 171.4,303.5 172.8,303.8 174.5,303.8 175.3,303.9 176.8,304.0 177.6,304.5 178.5,304.6 180.4,304.7 181.4,304.8 183.2,305.8 184.2,306.5 182.8,306.6 180.8,306.9 180.0,306.9 178.9,307.2 177.7,307.5 176.2,307.5 175.2,307.7 173.1,307.9 172.3,307.9 170.4,307.9 169.5,308.3 168.0,308.6 166.6,309.0 165.5,309.3 164.3,309.7 163.8,309.9 162.5,310.4 161.0,310.5 159.9,310.7 158.6,311.1 157.5,311.1 155.4,311.5 154.5,311.7 153.1,311.8 152.0,312.1 151.4,312.2 149.7,312.4 148.0,312.8 146.6,313.0 145.8,313.1" fill="none" stroke="#8c564b" stroke-width="1.1" stroke-linejoin="round"/>
<polyline points="133.7,190.9 133.2,192.0 132.0,193.0 131.8,194.1 130.8,195.0 130.3,196.4 129.2,197.9 130.0,199.3 129.5,200.7 128.8,201.8 128.4,203.2 128.3,204.5 128.0,205.7 128.1,207.1 127.7,208.2 127.5,209.7 127.9,211.0 126.7,212.2 126.8,213.6 127.4,214.9 127.4,216.2 127.2,217.5 126.1,218.6 126.7,219.9 126.6,221.2 126.9,222.3 126.3,223.9 125.8,224.8 126.9,226.4 126.0,227.3 127.0,228.8 126.8,230.0 127.1,231.4 126.3,232.4 127.4,234.0 127.5,235.0 127.0,236.3 126.7,237.7 127.1,238.9 127.5,240.1 127.8,241.4 127.4,242.9 127.4,243.9 127.7,245.3 128.5,246.6 128.1,248.1 128.3,249.4 128.5,250.9 128.6,252.0 129.6,253.5 130.9,255.1 131.1,256.3 130.4,257.6 130.8,258.6 131.1,260.1 131.2,261.2 132.0,262.6 131.6,263.6 132.8,264.9 132.9,266.0 133.7,266.9 134.7,268.1 135.3,269.2 135.4,270.2 136.6,271.0 138.1,271.9 138.0,273.1 139.7,274.1 139.7,275.0 140.3,275.8 142.0,276.6 141.6,277.8 143.0,278.9 143.6,279.9 143.5,280.9 143.9,282.3 144.2,283.1 145.4,283.8 146.3,284.6 147.0,285.5 148.5,286.3 149.7,287.1 150.8,287.7 150.9,288.4 152.3,289.1 154.3,289.5 154.7,289.9 156.5,290.3 158.1,291.0 156.6,291.4 156.0,291.9 154.1,292.6 154.0,292.8 152.5,293.1 150.4,293.1 149.4,293.4 148.2,293.3 147.0,293.7 146.1,293.7 144.9,293.7 143.1,293.8 141.9,293.9 141.3,294.1 139.9,294.3 138.4,294.3 137.8,294.5 135.9,294.6 134.7,294.6 133.9,294.7 132.6,295.0 131.3,294.9 129.5,295.3 128.0,295.2 127.3,295.5 125.9,295.7 125.1,295.9 122.8,296.2 121.9,296.2 120.8,296.4 119.6,296.3 117.7,296.4 116.7,296.6 115.9,296.6 114.0,296.7 113.2,296.9 112.6,297.1 110.8,297.4 110.0,297.8 108.9,298.3 107.0,298.7 106.2,298.9 105.1,299.5 103.9,300.1 102.6,301.0 101.8,301.6 103.0,302.4 105.4,303.4 106.4,304.7 106.9,305.9 108.2,306.3 109.5,306.5 110.7,306.9 111.2,307.6 109.6,307.7 108.7,308.1 107.7,308.5 106.8,308.7 104.5,309.1 103.2,309.3 102.7,309.2 100.6,309.5 99.9,309.7 98.4,309.5 96.9,309.8" fill="none" stroke="#e377c2" stroke-width="1.1" stroke-linejoin="round"/>
<circle cx="166.6" cy="185.5" r="2.7" fill="#8c564b"/>
<circle cx="178.2" cy="185.5" r="2.7" fill="#2ca02c"/>
<circle cx="129.4" cy="185.5" r="2.7" fill="#9467bd"/>
<circle cx="130.6" cy="185.5" r="2.7" fill="#e377c2"/>
<circle cx="135.5" cy="185.5" r="2.7" fill="#d62728"/>
<circle cx="291" cy="185.5" r="2.7" fill="#ff7f0e"/>
<circle cx="296.4" cy="185.5" r="2.7" fill="#1f77b4"/>
<rect x="34.3" y="184.7" width="70.8" height="88.7" rx="2" fill="#ffffff" fill-opacity="0.8" stroke="#d6d6d6" stroke-width="0.8"/>
<text x="45.00" y="193.30" font-size="8.03" text-anchor="start" font-weight="normal" fill="#1a1a1a" stroke="#1a1a1a" stroke-width="0.22" textLength="52.61" lengthAdjust="spacingAndGlyphs">Glider, SPOOP</text>
<line x1="38.70" y1="201.70" x2="45.70" y2="201.70" stroke="#1f77b4" stroke-width="1.1" />
<circle cx="50.3" cy="201.70" r="2.7" fill="#1f77b4"/>
<text x="60.10" y="204.20" font-size="7.91" text-anchor="start" font-weight="normal" fill="#1a1a1a" stroke="#1a1a1a" stroke-width="0.22" textLength="42.77" lengthAdjust="spacingAndGlyphs">2022-10-06</text>
<line x1="38.70" y1="212.58" x2="45.70" y2="212.58" stroke="#ff7f0e" stroke-width="1.1" />
<circle cx="50.3" cy="212.58" r="2.7" fill="#ff7f0e"/>
<text x="60.10" y="215.08" font-size="7.91" text-anchor="start" font-weight="normal" fill="#1a1a1a" stroke="#1a1a1a" stroke-width="0.22" textLength="42.77" lengthAdjust="spacingAndGlyphs">2022-10-15</text>
<line x1="38.70" y1="223.46" x2="45.70" y2="223.46" stroke="#2ca02c" stroke-width="1.1" />
<circle cx="50.3" cy="223.46" r="2.7" fill="#2ca02c"/>
<text x="60.10" y="225.96" font-size="7.91" text-anchor="start" font-weight="normal" fill="#1a1a1a" stroke="#1a1a1a" stroke-width="0.22" textLength="42.77" lengthAdjust="spacingAndGlyphs">2022-10-30</text>
<line x1="38.70" y1="234.34" x2="45.70" y2="234.34" stroke="#d62728" stroke-width="1.1" />
<circle cx="50.3" cy="234.34" r="2.7" fill="#d62728"/>
<text x="60.10" y="236.84" font-size="7.91" text-anchor="start" font-weight="normal" fill="#1a1a1a" stroke="#1a1a1a" stroke-width="0.22" textLength="42.77" lengthAdjust="spacingAndGlyphs">2022-11-16</text>
<line x1="38.70" y1="245.22" x2="45.70" y2="245.22" stroke="#9467bd" stroke-width="1.1" />
<circle cx="50.3" cy="245.22" r="2.7" fill="#9467bd"/>
<text x="60.10" y="247.72" font-size="7.91" text-anchor="start" font-weight="normal" fill="#1a1a1a" stroke="#1a1a1a" stroke-width="0.22" textLength="42.77" lengthAdjust="spacingAndGlyphs">2022-12-01</text>
<line x1="38.70" y1="256.10" x2="45.70" y2="256.10" stroke="#8c564b" stroke-width="1.1" />
<circle cx="50.3" cy="256.10" r="2.7" fill="#8c564b"/>
<text x="60.10" y="258.60" font-size="7.91" text-anchor="start" font-weight="normal" fill="#1a1a1a" stroke="#1a1a1a" stroke-width="0.22" textLength="42.77" lengthAdjust="spacingAndGlyphs">2022-12-15</text>
<line x1="38.70" y1="266.98" x2="45.70" y2="266.98" stroke="#e377c2" stroke-width="1.1" />
<circle cx="50.3" cy="266.98" r="2.7" fill="#e377c2"/>
<text x="60.10" y="269.48" font-size="7.91" text-anchor="start" font-weight="normal" fill="#1a1a1a" stroke="#1a1a1a" stroke-width="0.22" textLength="42.77" lengthAdjust="spacingAndGlyphs">2022-12-30</text>
<rect x="32.5" y="181.5" width="295.0" height="159.0" fill="none" stroke="#262626" stroke-width="1"/>
<line x1="29.00" y1="185.60" x2="32.50" y2="185.60" stroke="#222" stroke-width="0.9" />
<text x="26.50" y="189.90" font-size="11.02" text-anchor="end" font-weight="normal" fill="#1a1a1a" stroke="#1a1a1a" stroke-width="0.22" textLength="6.52" lengthAdjust="spacingAndGlyphs">0</text>
<line x1="29.00" y1="229.83" x2="32.50" y2="229.83" stroke="#222" stroke-width="0.9" />
<text x="26.50" y="234.13" font-size="11.02" text-anchor="end" font-weight="normal" fill="#1a1a1a" stroke="#1a1a1a" stroke-width="0.22" textLength="13.04" lengthAdjust="spacingAndGlyphs">20</text>
<line x1="29.00" y1="274.07" x2="32.50" y2="274.07" stroke="#222" stroke-width="0.9" />
<text x="26.50" y="278.37" font-size="11.02" text-anchor="end" font-weight="normal" fill="#1a1a1a" stroke="#1a1a1a" stroke-width="0.22" textLength="13.04" lengthAdjust="spacingAndGlyphs">40</text>
<line x1="29.00" y1="318.30" x2="32.50" y2="318.30" stroke="#222" stroke-width="0.9" />
<text x="26.50" y="322.60" font-size="11.02" text-anchor="end" font-weight="normal" fill="#1a1a1a" stroke="#1a1a1a" stroke-width="0.22" textLength="13.04" lengthAdjust="spacingAndGlyphs">60</text>
<line x1="32.40" y1="340.50" x2="32.40" y2="344.00" stroke="#222" stroke-width="0.9" />
<text x="23.60" y="353.70" font-size="11.02" fill="#1a1a1a" stroke="#1a1a1a" stroke-width="0.22" textLength="13.04" lengthAdjust="spacingAndGlyphs">10</text>
<text x="36.64" y="349.60" font-size="7.71" fill="#1a1a1a" stroke="#1a1a1a" stroke-width="0.15" textLength="4.56" lengthAdjust="spacingAndGlyphs">0</text>
<line x1="57.20" y1="340.50" x2="57.20" y2="342.50" stroke="#222" stroke-width="0.6" />
<line x1="71.71" y1="340.50" x2="71.71" y2="342.50" stroke="#222" stroke-width="0.6" />
<line x1="82.01" y1="340.50" x2="82.01" y2="342.50" stroke="#222" stroke-width="0.6" />
<line x1="90.00" y1="340.50" x2="90.00" y2="342.50" stroke="#222" stroke-width="0.6" />
<line x1="96.52" y1="340.50" x2="96.52" y2="342.50" stroke="#222" stroke-width="0.6" />
<line x1="102.04" y1="340.50" x2="102.04" y2="342.50" stroke="#222" stroke-width="0.6" />
<line x1="106.81" y1="340.50" x2="106.81" y2="342.50" stroke="#222" stroke-width="0.6" />
<line x1="111.03" y1="340.50" x2="111.03" y2="342.50" stroke="#222" stroke-width="0.6" />
<line x1="114.80" y1="340.50" x2="114.80" y2="344.00" stroke="#222" stroke-width="0.9" />
<text x="106.00" y="353.70" font-size="11.02" fill="#1a1a1a" stroke="#1a1a1a" stroke-width="0.22" textLength="13.04" lengthAdjust="spacingAndGlyphs">10</text>
<text x="119.04" y="349.60" font-size="7.71" fill="#1a1a1a" stroke="#1a1a1a" stroke-width="0.15" textLength="4.56" lengthAdjust="spacingAndGlyphs">1</text>
<line x1="139.60" y1="340.50" x2="139.60" y2="342.50" stroke="#222" stroke-width="0.6" />
<line x1="154.11" y1="340.50" x2="154.11" y2="342.50" stroke="#222" stroke-width="0.6" />
<line x1="164.41" y1="340.50" x2="164.41" y2="342.50" stroke="#222" stroke-width="0.6" />
<line x1="172.40" y1="340.50" x2="172.40" y2="342.50" stroke="#222" stroke-width="0.6" />
<line x1="178.92" y1="340.50" x2="178.92" y2="342.50" stroke="#222" stroke-width="0.6" />
<line x1="184.44" y1="340.50" x2="184.44" y2="342.50" stroke="#222" stroke-width="0.6" />
<line x1="189.21" y1="340.50" x2="189.21" y2="342.50" stroke="#222" stroke-width="0.6" />
<line x1="193.43" y1="340.50" x2="193.43" y2="342.50" stroke="#222" stroke-width="0.6" />
<line x1="197.20" y1="340.50" x2="197.20" y2="344.00" stroke="#222" stroke-width="0.9" />
<text x="188.40" y="353.70" font-size="11.02" fill="#1a1a1a" stroke="#1a1a1a" stroke-width="0.22" textLength="13.04" lengthAdjust="spacingAndGlyphs">10</text>
<text x="201.44" y="349.60" font-size="7.71" fill="#1a1a1a" stroke="#1a1a1a" stroke-width="0.15" textLength="4.56" lengthAdjust="spacingAndGlyphs">2</text>
<line x1="222.00" y1="340.50" x2="222.00" y2="342.50" stroke="#222" stroke-width="0.6" />
<line x1="236.51" y1="340.50" x2="236.51" y2="342.50" stroke="#222" stroke-width="0.6" />
<line x1="246.81" y1="340.50" x2="246.81" y2="342.50" stroke="#222" stroke-width="0.6" />
<line x1="254.80" y1="340.50" x2="254.80" y2="342.50" stroke="#222" stroke-width="0.6" />
<line x1="261.32" y1="340.50" x2="261.32" y2="342.50" stroke="#222" stroke-width="0.6" />
<line x1="266.84" y1="340.50" x2="266.84" y2="342.50" stroke="#222" stroke-width="0.6" />
<line x1="271.61" y1="340.50" x2="271.61" y2="342.50" stroke="#222" stroke-width="0.6" />
<line x1="275.83" y1="340.50" x2="275.83" y2="342.50" stroke="#222" stroke-width="0.6" />
<line x1="279.60" y1="340.50" x2="279.60" y2="344.00" stroke="#222" stroke-width="0.9" />
<text x="270.80" y="353.70" font-size="11.02" fill="#1a1a1a" stroke="#1a1a1a" stroke-width="0.22" textLength="13.04" lengthAdjust="spacingAndGlyphs">10</text>
<text x="283.84" y="349.60" font-size="7.71" fill="#1a1a1a" stroke="#1a1a1a" stroke-width="0.15" textLength="4.56" lengthAdjust="spacingAndGlyphs">3</text>
<line x1="304.40" y1="340.50" x2="304.40" y2="342.50" stroke="#222" stroke-width="0.6" />
<line x1="318.91" y1="340.50" x2="318.91" y2="342.50" stroke="#222" stroke-width="0.6" />
<text x="179.60" y="366.90" font-size="10.96" text-anchor="middle" font-weight="normal" fill="#1a1a1a" stroke="#1a1a1a" stroke-width="0.22" textLength="101.40" lengthAdjust="spacingAndGlyphs">Methane conc. [nM]</text>
<text transform="translate(8.90,260.80) rotate(-90)" font-size="10.86" text-anchor="middle" font-weight="normal" fill="#1a1a1a" stroke="#1a1a1a" stroke-width="0.22" textLength="51.69" lengthAdjust="spacingAndGlyphs">Depth [m]</text>
<text x="35.60" y="332.80" font-size="15.60" text-anchor="start" font-weight="bold" fill="#000" textLength="8.89" lengthAdjust="spacingAndGlyphs">c</text>
<clipPath id="clipd"><rect x="360.5" y="181.5" width="275.0" height="159.0"/></clipPath>
<g clip-path="url(#clipd)">
<g shape-rendering="crispEdges">
<rect x="387" y="187" width="1" height="154" fill="#b01217"/>
<rect x="388" y="186" width="1" height="147" fill="#aa1016"/>
<rect x="389" y="188" width="1" height="153" fill="#a30f15"/>
<rect x="390" y="186" width="1" height="155" fill="#f5533b"/>
<rect x="391" y="187" width="1" height="154" fill="#f79d81"/>
<rect x="392" y="186" width="1" height="133" fill="#f7a084"/>
<rect x="393" y="187" width="1" height="154" fill="#f14432"/>
<rect x="394" y="187" width="1" height="154" fill="#f0402f"/>
<rect x="395" y="187" width="1" height="154" fill="#b81419"/>
<rect x="396" y="186" width="1" height="155" fill="#d92623"/>
<rect x="397" y="187" width="1" height="154" fill="#e63228"/>
<rect x="398" y="187" width="1" height="154" fill="#ea362a"/>
<rect x="399" y="186" width="1" height="155" fill="#e12d26"/>
<rect x="400" y="186" width="1" height="138" fill="#b01217"/>
<rect x="401" y="188" width="1" height="132" fill="#e83429"/>
<rect x="402" y="187" width="1" height="154" fill="#f03e2e"/>
<rect x="403" y="187" width="1" height="148" fill="#ed392b"/>
<rect x="404" y="187" width="1" height="147" fill="#c4161b"/>
<rect x="405" y="187" width="1" height="154" fill="#df2c25"/>
<rect x="406" y="186" width="1" height="155" fill="#f0402f"/>
<rect x="407" y="187" width="1" height="154" fill="#e73329"/>
<rect x="408" y="188" width="1" height="153" fill="#f03f2f"/>
<rect x="409" y="188" width="1" height="153" fill="#ef3c2c"/>
<rect x="410" y="186" width="1" height="155" fill="#d32020"/>
<rect x="411" y="187" width="1" height="141" fill="#c9181d"/>
<rect x="412" y="188" width="1" height="137" fill="#ea362a"/>
<rect x="413" y="186" width="1" height="137" fill="#ee3a2c"/>
<rect x="414" y="187" width="1" height="154" fill="#e22e27"/>
<rect x="415" y="188" width="1" height="137" fill="#ef3b2c"/>
<rect x="416" y="186" width="1" height="150" fill="#e83429"/>
<rect x="417" y="187" width="1" height="154" fill="#ee3a2c"/>
<rect x="418" y="186" width="1" height="139" fill="#e83429"/>
<rect x="419" y="186" width="1" height="155" fill="#eb372a"/>
<rect x="420" y="187" width="1" height="154" fill="#b11218"/>
<rect x="421" y="187" width="1" height="154" fill="#d72422"/>
<rect x="422" y="186" width="1" height="155" fill="#e02c26"/>
<rect x="423" y="187" width="1" height="154" fill="#c4161b"/>
<rect x="424" y="186" width="1" height="155" fill="#c2161b"/>
<rect x="425" y="187" width="1" height="154" fill="#f24532"/>
<rect x="426" y="187" width="1" height="154" fill="#f14130"/>
<rect x="427" y="187" width="1" height="142" fill="#f34b36"/>
<rect x="428" y="187" width="1" height="154" fill="#f14231"/>
<rect x="429" y="187" width="1" height="154" fill="#ef3b2c"/>
<rect x="430" y="187" width="1" height="154" fill="#f14432"/>
<rect x="431" y="187" width="1" height="154" fill="#f03f2f"/>
<rect x="432" y="186" width="1" height="155" fill="#ba1419"/>
<rect x="433" y="186" width="1" height="150" fill="#da2623"/>
<rect x="434" y="187" width="1" height="135" fill="#f5533b"/>
<rect x="435" y="186" width="1" height="155" fill="#f75b41"/>
<rect x="436" y="187" width="1" height="133" fill="#f75c41"/>
<rect x="437" y="187" width="1" height="154" fill="#f44e38"/>
<rect x="438" y="187" width="1" height="154" fill="#f6573e"/>
<rect x="439" y="188" width="1" height="153" fill="#f5513a"/>
<rect x="440" y="187" width="1" height="134" fill="#fa6f4f"/>
<rect x="441" y="188" width="1" height="142" fill="#f85e43"/>
<rect x="442" y="188" width="1" height="143" fill="#f97b5c"/>
<rect x="443" y="186" width="1" height="144" fill="#f85f43"/>
<rect x="444" y="187" width="1" height="138" fill="#f6583f"/>
<rect x="445" y="187" width="1" height="143" fill="#f85c41"/>
<rect x="446" y="186" width="1" height="136" fill="#fb6b4b"/>
<rect x="447" y="188" width="1" height="135" fill="#f75b40"/>
<rect x="448" y="186" width="1" height="138" fill="#fa6647"/>
<rect x="449" y="187" width="1" height="144" fill="#f97f60"/>
<rect x="450" y="188" width="1" height="137" fill="#fa7253"/>
<rect x="451" y="186" width="1" height="140" fill="#f96044"/>
<rect x="452" y="188" width="1" height="139" fill="#f98263"/>
<rect x="453" y="188" width="1" height="134" fill="#f98061"/>
<rect x="454" y="188" width="1" height="138" fill="#f89375"/>
<rect x="455" y="186" width="1" height="133" fill="#f98263"/>
<rect x="456" y="187" width="1" height="134" fill="#f8896a"/>
<rect x="457" y="187" width="1" height="141" fill="#f89476"/>
<rect x="458" y="186" width="1" height="145" fill="#f97c5d"/>
<rect x="459" y="186" width="1" height="142" fill="#f7a287"/>
<rect x="460" y="187" width="1" height="139" fill="#f89173"/>
<rect x="461" y="186" width="1" height="142" fill="#f7a58a"/>
<rect x="462" y="187" width="1" height="138" fill="#f7a68b"/>
<rect x="463" y="187" width="1" height="145" fill="#f7ac92"/>
<rect x="464" y="186" width="1" height="132" fill="#f7b299"/>
<rect x="465" y="187" width="1" height="131" fill="#f7c1ab"/>
<rect x="466" y="188" width="1" height="143" fill="#f7bba4"/>
<rect x="467" y="187" width="1" height="138" fill="#f7b69e"/>
<rect x="468" y="187" width="1" height="137" fill="#f7a88e"/>
<rect x="469" y="186" width="1" height="142" fill="#f7bca5"/>
<rect x="470" y="186" width="1" height="136" fill="#f7a88d"/>
<rect x="471" y="187" width="1" height="140" fill="#f7bca5"/>
<rect x="472" y="186" width="1" height="143" fill="#f7b69e"/>
<rect x="473" y="188" width="1" height="138" fill="#f7bda6"/>
<rect x="474" y="187" width="1" height="141" fill="#f8cdbb"/>
<rect x="475" y="187" width="1" height="143" fill="#f8cdba"/>
<rect x="476" y="186" width="1" height="138" fill="#f7b59c"/>
<rect x="477" y="187" width="1" height="141" fill="#f8cdba"/>
<rect x="478" y="186" width="1" height="144" fill="#f7bea8"/>
<rect x="479" y="188" width="1" height="138" fill="#f8d2c1"/>
<rect x="480" y="187" width="1" height="142" fill="#f7c2ad"/>
<rect x="481" y="186" width="1" height="142" fill="#f7b59c"/>
<rect x="482" y="187" width="1" height="140" fill="#f8d1c0"/>
<rect x="483" y="186" width="1" height="140" fill="#f7c2ac"/>
<rect x="484" y="186" width="1" height="141" fill="#f9d5c6"/>
<rect x="485" y="186" width="1" height="144" fill="#f7c6b2"/>
<rect x="486" y="188" width="1" height="138" fill="#f8d2c1"/>
<rect x="487" y="186" width="1" height="142" fill="#f7c0a9"/>
<rect x="488" y="187" width="1" height="142" fill="#f7c8b5"/>
<rect x="489" y="187" width="1" height="137" fill="#f7c3ae"/>
<rect x="490" y="188" width="1" height="138" fill="#f7c2ac"/>
<rect x="491" y="186" width="1" height="136" fill="#f9d6c6"/>
<rect x="492" y="187" width="1" height="135" fill="#f8cdbb"/>
<rect x="493" y="188" width="1" height="134" fill="#f9d7c8"/>
<rect x="494" y="187" width="1" height="142" fill="#f8ccb9"/>
<rect x="495" y="186" width="1" height="144" fill="#f8d1c1"/>
<rect x="496" y="187" width="1" height="138" fill="#f9d5c5"/>
<rect x="497" y="186" width="1" height="141" fill="#f8cab7"/>
<rect x="498" y="188" width="1" height="140" fill="#f9d4c5"/>
<rect x="499" y="186" width="1" height="140" fill="#faddd0"/>
<rect x="500" y="187" width="1" height="143" fill="#fbe8df"/>
<rect x="501" y="188" width="1" height="141" fill="#fbe8df"/>
<rect x="502" y="186" width="1" height="137" fill="#f9d8ca"/>
<rect x="503" y="186" width="1" height="138" fill="#fcece4"/>
<rect x="504" y="188" width="1" height="142" fill="#fcece5"/>
<rect x="505" y="187" width="1" height="140" fill="#fae1d5"/>
<rect x="506" y="186" width="1" height="141" fill="#fbeae2"/>
<rect x="507" y="186" width="1" height="137" fill="#fbe7de"/>
<rect x="508" y="186" width="1" height="144" fill="#faded2"/>
<rect x="509" y="186" width="1" height="141" fill="#fbebe3"/>
<rect x="510" y="186" width="1" height="138" fill="#fbe7de"/>
<rect x="511" y="187" width="1" height="139" fill="#fcebe4"/>
<rect x="512" y="187" width="1" height="137" fill="#faddd0"/>
<rect x="513" y="186" width="1" height="141" fill="#fcebe4"/>
<rect x="514" y="187" width="1" height="138" fill="#fae1d6"/>
<rect x="515" y="188" width="1" height="140" fill="#fadcce"/>
<rect x="516" y="186" width="1" height="139" fill="#fbeae2"/>
<rect x="517" y="187" width="1" height="143" fill="#fae2d6"/>
<rect x="518" y="186" width="1" height="136" fill="#faddd0"/>
<rect x="519" y="187" width="1" height="142" fill="#f9dacc"/>
<rect x="520" y="187" width="1" height="135" fill="#fbe8df"/>
<rect x="521" y="186" width="1" height="139" fill="#f8d3c3"/>
<rect x="522" y="188" width="1" height="142" fill="#f9dacd"/>
<rect x="523" y="186" width="1" height="140" fill="#faddd0"/>
<rect x="524" y="187" width="1" height="140" fill="#fae3d8"/>
<rect x="525" y="187" width="1" height="137" fill="#fbeae2"/>
<rect x="526" y="188" width="1" height="134" fill="#f7a98f"/>
<rect x="527" y="186" width="1" height="138" fill="#f8d1c0"/>
<rect x="528" y="188" width="1" height="142" fill="#f8d1c0"/>
<rect x="529" y="186" width="1" height="139" fill="#f8d3c2"/>
<rect x="530" y="188" width="1" height="138" fill="#f8cebd"/>
<rect x="531" y="187" width="1" height="136" fill="#f9d6c7"/>
<rect x="532" y="188" width="1" height="136" fill="#fbe6dc"/>
<rect x="533" y="187" width="1" height="137" fill="#fbe3d8"/>
<rect x="534" y="187" width="1" height="135" fill="#f8cfbd"/>
<rect x="535" y="186" width="1" height="137" fill="#f8cfbe"/>
<rect x="536" y="188" width="1" height="142" fill="#fbe6dc"/>
<rect x="537" y="188" width="1" height="138" fill="#fae3d8"/>
<rect x="538" y="186" width="1" height="142" fill="#fbe8df"/>
<rect x="539" y="187" width="1" height="142" fill="#fadccf"/>
<rect x="540" y="186" width="1" height="140" fill="#f9d7c9"/>
<rect x="541" y="187" width="1" height="138" fill="#fbe7de"/>
<rect x="542" y="187" width="1" height="135" fill="#fae1d6"/>
<rect x="543" y="187" width="1" height="138" fill="#fae0d5"/>
<rect x="544" y="187" width="1" height="142" fill="#fcebe3"/>
<rect x="545" y="186" width="1" height="133" fill="#f9d8ca"/>
<rect x="546" y="187" width="1" height="131" fill="#f8d2c2"/>
<rect x="547" y="186" width="1" height="134" fill="#fbe5db"/>
<rect x="548" y="187" width="1" height="132" fill="#fae2d6"/>
<rect x="549" y="188" width="1" height="135" fill="#fbe4d9"/>
<rect x="550" y="186" width="1" height="135" fill="#f9d9cb"/>
<rect x="551" y="186" width="1" height="137" fill="#f7c3ae"/>
<rect x="552" y="187" width="1" height="135" fill="#f8d1c1"/>
<rect x="553" y="187" width="1" height="130" fill="#f8c9b6"/>
<rect x="554" y="186" width="1" height="135" fill="#f7bfa8"/>
<rect x="555" y="187" width="1" height="130" fill="#f7c6b2"/>
<rect x="556" y="186" width="1" height="135" fill="#f7bca5"/>
<rect x="557" y="186" width="1" height="134" fill="#f7bea7"/>
<rect x="558" y="186" width="1" height="132" fill="#f9dbcd"/>
<rect x="559" y="187" width="1" height="130" fill="#f9d6c7"/>
<rect x="560" y="187" width="1" height="132" fill="#fadccf"/>
<rect x="561" y="186" width="1" height="137" fill="#f9dbcd"/>
<rect x="562" y="187" width="1" height="132" fill="#f8cbb9"/>
<rect x="563" y="187" width="1" height="137" fill="#fbe3d8"/>
<rect x="564" y="186" width="1" height="132" fill="#fae0d4"/>
<rect x="565" y="187" width="1" height="135" fill="#fbe6dc"/>
<rect x="566" y="188" width="1" height="136" fill="#fcece5"/>
<rect x="567" y="186" width="1" height="137" fill="#fcede6"/>
<rect x="568" y="188" width="1" height="136" fill="#fbe3d9"/>
<rect x="569" y="186" width="1" height="135" fill="#fbe5dc"/>
<rect x="570" y="187" width="1" height="136" fill="#fbeae2"/>
<rect x="571" y="187" width="1" height="137" fill="#fadfd3"/>
<rect x="572" y="187" width="1" height="132" fill="#fae0d4"/>
<rect x="573" y="187" width="1" height="132" fill="#fcece4"/>
<rect x="574" y="188" width="1" height="129" fill="#f9d9cb"/>
<rect x="575" y="186" width="1" height="132" fill="#fbe5db"/>
<rect x="576" y="187" width="1" height="134" fill="#fcebe3"/>
<rect x="577" y="187" width="1" height="132" fill="#f9dbcd"/>
<rect x="578" y="187" width="1" height="131" fill="#f8d1c1"/>
<rect x="579" y="186" width="1" height="132" fill="#fbe7de"/>
<rect x="580" y="186" width="1" height="138" fill="#f9d5c5"/>
<rect x="581" y="188" width="1" height="129" fill="#fbe8df"/>
<rect x="582" y="186" width="1" height="131" fill="#fadcce"/>
<rect x="583" y="186" width="1" height="138" fill="#f88768"/>
<rect x="584" y="186" width="1" height="133" fill="#f98162"/>
<rect x="585" y="186" width="1" height="133" fill="#f97d5e"/>
<rect x="586" y="188" width="1" height="136" fill="#fbe3d9"/>
<rect x="587" y="186" width="1" height="136" fill="#f8cab7"/>
<rect x="588" y="187" width="1" height="134" fill="#f8d2c2"/>
<rect x="589" y="187" width="1" height="129" fill="#f7bea7"/>
<rect x="590" y="186" width="1" height="136" fill="#f8c9b6"/>
<rect x="591" y="188" width="1" height="135" fill="#f7c2ac"/>
<rect x="592" y="186" width="1" height="134" fill="#f9d7c8"/>
<rect x="593" y="187" width="1" height="137" fill="#f7c2ac"/>
<rect x="594" y="187" width="1" height="134" fill="#f7c7b3"/>
<rect x="595" y="187" width="1" height="133" fill="#fae3d7"/>
<rect x="596" y="187" width="1" height="129" fill="#fbe5db"/>
<rect x="597" y="188" width="1" height="129" fill="#fbe8df"/>
<rect x="598" y="186" width="1" height="132" fill="#faddd0"/>
<rect x="599" y="187" width="1" height="130" fill="#fadfd3"/>
<rect x="600" y="187" width="1" height="132" fill="#fadfd3"/>
<rect x="601" y="187" width="1" height="137" fill="#fbe4da"/>
<rect x="602" y="187" width="1" height="132" fill="#f8d0c0"/>
<rect x="603" y="187" width="1" height="132" fill="#f9d5c6"/>
<rect x="604" y="187" width="1" height="134" fill="#fbe4da"/>
<rect x="605" y="186" width="1" height="136" fill="#f9d9cb"/>
<rect x="606" y="186" width="1" height="130" fill="#f9dbcd"/>
<rect x="607" y="186" width="1" height="135" fill="#fbe7de"/>
<rect x="608" y="186" width="1" height="137" fill="#fcede5"/>
<rect x="609" y="187" width="1" height="137" fill="#fbe7dd"/>
<rect x="610" y="186" width="1" height="134" fill="#f9d5c5"/>
<rect x="611" y="186" width="1" height="135" fill="#f9d8c9"/>
<rect x="612" y="187" width="1" height="134" fill="#faddd0"/>
<rect x="613" y="186" width="1" height="134" fill="#f8cdbb"/>
<rect x="614" y="186" width="1" height="130" fill="#f8d2c2"/>
<rect x="615" y="187" width="1" height="134" fill="#fadfd3"/>
<rect x="616" y="186" width="1" height="136" fill="#f8d2c2"/>
<rect x="617" y="188" width="1" height="132" fill="#fae2d7"/>
<rect x="618" y="186" width="1" height="133" fill="#f7c3ae"/>
<rect x="619" y="186" width="1" height="133" fill="#f7c7b3"/>
<rect x="620" y="186" width="1" height="137" fill="#f7c6b2"/>
<rect x="621" y="188" width="1" height="131" fill="#f8ccba"/>
<rect x="622" y="187" width="1" height="135" fill="#f7c6b2"/>
<rect x="623" y="187" width="1" height="131" fill="#f9dbcd"/>
<rect x="624" y="186" width="1" height="132" fill="#fbe3d8"/>
<rect x="625" y="186" width="1" height="132" fill="#faded2"/>
<rect x="626" y="187" width="1" height="129" fill="#fbe5da"/>
<rect x="627" y="187" width="1" height="130" fill="#fcece5"/>
<rect x="628" y="188" width="1" height="132" fill="#fbeae2"/>
<rect x="629" y="187" width="1" height="135" fill="#fae0d4"/>
<rect x="630" y="188" width="1" height="129" fill="#fadccf"/>
<rect x="631" y="186" width="1" height="136" fill="#fbe8df"/>
<rect x="632" y="187" width="1" height="136" fill="#f9dacc"/>
<rect x="633" y="187" width="1" height="133" fill="#fae1d6"/>
<rect x="634" y="186" width="1" height="138" fill="#f9dacc"/>
<rect x="635" y="187" width="1" height="132" fill="#fbe7dd"/>
</g>
<rect x="498.60" y="186.00" width="2.40" height="8.50" fill="#f98566" />
<rect x="469.00" y="196.00" width="1.40" height="134.00" fill="#ffffff" />
<rect x="403.60" y="262.00" width="0.80" height="78.00" fill="#ffffff" fill-opacity="0.85"/>
<defs><linearGradient id="fadeb" x1="0" y1="0" x2="0" y2="1"><stop offset="0" stop-color="#fff" stop-opacity="0"/><stop offset="1" stop-color="#fff" stop-opacity="0.85"/></linearGradient></defs>
<rect x="440.00" y="296.00" width="196.00" height="36.00" fill="url(#fadeb)" />
</g>
<line x1="374.50" y1="181.50" x2="374.50" y2="340.50" stroke="#b0b0b0" stroke-width="0.8" />
<line x1="461.00" y1="181.50" x2="461.00" y2="340.50" stroke="#b0b0b0" stroke-width="0.8" />
<line x1="545.50" y1="181.50" x2="545.50" y2="340.50" stroke="#b0b0b0" stroke-width="0.8" />
<line x1="632.30" y1="181.50" x2="632.30" y2="340.50" stroke="#b0b0b0" stroke-width="0.8" />
<line x1="360.50" y1="185.60" x2="635.50" y2="185.60" stroke="#b0b0b0" stroke-width="0.8" />
<line x1="360.50" y1="229.83" x2="635.50" y2="229.83" stroke="#b0b0b0" stroke-width="0.8" />
<line x1="360.50" y1="274.07" x2="635.50" y2="274.07" stroke="#b0b0b0" stroke-width="0.8" />
<line x1="360.50" y1="318.30" x2="635.50" y2="318.30" stroke="#b0b0b0" stroke-width="0.8" />
<polyline points="388.5,256.6 388.7,259.2 388.6,257.4 388.7,258.1 389.4,260.8 388.9,262.7 389.7,264.5 389.1,263.3 389.8,264.7 389.7,267.0 390.3,267.0 390.4,269.9 391.2,271.4 391.5,269.6 392.8,268.4 393.3,269.9 393.4,266.2 394.6,267.3 394.8,269.6 395.7,268.0 396.6,268.7 396.6,268.8 397.1,268.3 397.5,267.7 397.8,266.8 398.6,266.2 399.5,265.4 400.6,267.1 401.2,264.8 402.2,267.9 403.2,268.9 403.9,267.8 404.9,266.5 405.9,267.9 406.6,267.4 406.4,269.1 407.6,270.7 408.0,268.9 409.2,267.6 409.7,268.3 411.2,268.5 412.5,267.2 413.5,267.6 414.8,266.9 415.7,268.6 416.3,268.6 417.6,269.6 418.0,272.5 418.5,273.0 418.8,275.5 419.3,273.5 420.3,273.6 420.1,275.2 420.9,277.9 421.2,277.1 421.7,280.3 422.0,281.3 422.0,281.6 422.0,283.4 423.0,280.4 423.3,280.8 424.1,280.8 424.1,277.5 424.6,276.2 425.8,277.9 426.2,280.0 427.6,280.6 427.7,282.3 428.2,281.5 429.0,281.7 429.7,284.8 430.0,285.8 430.7,282.6 430.9,282.3 432.0,283.0 432.3,282.5 433.4,279.8 433.9,278.4 434.2,279.1 434.7,280.4 436.0,278.9 436.8,279.3 436.9,279.9 437.9,282.2 438.7,283.7 439.0,281.4 439.5,280.2 439.6,278.1 440.0,279.5 440.2,276.8 441.0,275.1 441.2,273.6 442.0,274.6 442.2,271.5 443.0,271.3 442.9,271.5 443.5,270.0 444.1,270.7 444.0,270.7 444.8,274.6 445.2,273.7 445.2,276.5 446.0,277.2 445.8,276.8 446.2,276.7 447.0,274.7 448.0,274.5 448.4,272.7 448.6,273.3 448.9,274.3 449.1,274.9 449.4,276.1 450.2,276.6 450.4,279.1 451.1,278.8 450.7,278.8 451.4,279.3 451.8,279.2 452.4,278.2 453.0,277.0 453.4,274.7 454.2,275.6 454.2,276.1 454.5,278.3 455.1,279.3 455.2,280.0 455.8,279.1 455.8,282.6 456.6,281.9 457.0,281.4 457.9,279.8 458.1,278.5 458.5,278.7 459.2,277.5 460.2,277.6 460.9,281.0 461.2,279.6 462.2,278.5 462.5,276.9 463.2,277.3 463.4,274.9 464.6,274.5 465.2,277.4 466.4,278.9 466.9,275.3 467.9,276.7 468.8,274.5 468.8,276.7 468.4,275.8 469.1,279.2 469.2,278.3 469.2,283.6 468.9,281.6 469.7,279.9 469.2,284.3 469.4,286.0 470.2,287.5 469.7,288.0 470.1,289.8 470.6,288.2 470.5,285.4 470.7,285.1 471.0,284.4 471.9,283.4 471.9,280.7 472.2,280.3 472.6,280.3 473.2,280.6 473.6,280.8 473.8,283.5 474.4,284.4 475.1,284.1 475.4,283.9 476.0,282.1 476.4,280.6 477.3,281.8 477.6,280.6 477.7,281.7 477.9,283.7 477.9,284.3 478.5,285.7 478.4,286.7 479.3,287.7 479.4,289.2 479.3,289.8 479.9,292.0 480.5,291.6 480.3,288.6 481.0,287.9 480.7,288.6 481.3,285.0 481.0,286.4 481.3,285.5 482.2,282.7 482.6,281.9 483.1,281.9 483.3,284.6 484.4,285.8 484.3,288.0 484.7,284.2 485.7,284.7 485.4,283.4 485.7,283.7 486.6,282.9 486.7,280.6 487.4,278.0 487.5,277.9 487.7,276.5 488.4,275.8 488.6,275.3 488.7,273.6 489.6,273.2 489.6,274.6 490.5,273.7 490.7,274.3 490.8,275.7 491.1,274.2 491.1,279.8 491.1,278.4 491.7,279.6 491.7,281.7 492.3,280.2 493.4,287.4 493.6,285.3 494.3,288.1 494.7,287.7 495.6,289.1" fill="none" stroke="#000" stroke-width="1.3" stroke-linejoin="round"/>
<polyline points="503.0,278.1 503.2,278.3 503.9,278.6 504.7,279.4 505.8,282.5 505.7,282.2 506.2,285.1 506.4,285.3 506.6,286.8 507.4,289.3 508.2,287.8 508.2,286.5 507.9,285.7 508.2,284.5 508.3,285.1 509.0,286.3 509.0,281.7 509.4,281.1 509.4,281.2 509.6,280.3 509.5,277.4 510.2,277.7 509.7,276.8 510.1,273.4 511.3,272.7 512.2,271.8 512.5,272.9 513.2,273.2 513.3,271.4 512.9,274.3 513.4,278.4 513.4,279.1 513.4,279.3 514.1,280.0 513.8,282.8 513.9,281.8 514.7,282.1 514.9,288.7 515.4,286.0 516.3,286.9 516.2,286.9 516.2,290.9 516.8,287.4 516.7,284.5 517.7,281.9 517.8,282.5 518.1,281.7 518.1,281.7 518.7,281.9 518.6,276.1 518.6,276.7 519.2,279.6 519.7,281.4 520.0,282.5 521.1,284.2 520.9,283.7 521.8,283.8 522.6,282.1 522.3,282.3 522.8,280.7 523.5,279.6 524.2,279.2 524.4,275.9 523.9,277.4 523.9,276.3 524.3,272.8 524.9,273.7 524.8,272.4 525.3,270.9 525.3,269.1 524.7,266.7 525.5,267.8 525.2,266.6 525.5,264.5 526.0,262.6 525.5,262.2 525.8,260.8 526.1,261.3 526.5,259.5 526.0,257.2 526.2,256.3 526.6,253.8 526.8,256.1 526.7,258.5 526.9,259.8 526.7,260.4 527.2,261.6 527.5,261.6 527.5,262.7 527.2,264.5 527.5,266.6 527.7,265.5 527.3,268.7 528.1,269.6 527.8,269.9 528.0,271.1 527.7,273.2 527.8,274.3 528.3,274.2 528.6,274.4 528.8,275.7 528.6,278.0 529.0,277.4 529.2,281.3 528.6,282.1 529.5,280.1 529.4,284.4 528.9,284.4 529.0,284.7 529.3,286.3 529.6,285.8 529.8,289.1" fill="none" stroke="#000" stroke-width="1.3" stroke-linejoin="round"/>
<polyline points="533.6,282.8 534.0,283.5 533.8,283.9 534.6,284.3 534.5,286.0 535.4,287.7 535.8,287.0 536.2,289.2 535.9,290.1 536.3,292.2 536.9,292.6 537.7,292.8 537.6,295.8 538.0,295.1 538.6,295.9 538.3,295.6 539.0,292.2 539.2,292.6 539.8,293.6 539.4,292.4 539.5,290.8 540.3,288.5 540.1,287.5 540.7,287.0 541.2,288.6 540.9,290.2 540.9,290.1 540.9,291.9 541.1,292.1 542.0,292.1 541.6,295.7 541.8,296.2 541.9,296.4 542.8,301.3 542.2,299.8 542.7,300.9 542.5,301.4 543.1,301.2 543.1,304.8 543.3,303.3 544.0,298.3 543.7,299.0 543.7,298.5 544.3,298.4 544.4,297.4 545.0,296.8 545.3,294.0 545.0,294.3 545.3,292.1 545.9,292.6 546.4,290.5 546.8,288.7 547.2,285.9 547.9,288.1 548.3,288.0 548.8,288.2 548.7,289.8 549.5,291.9 549.1,291.0 549.8,292.1 550.4,293.2 549.9,296.2 550.4,296.0 550.9,296.4 552.1,294.2 551.9,292.5 552.5,290.5 552.8,293.2 553.8,294.3 553.6,295.0 554.1,296.8 555.1,295.6 555.5,298.6 555.4,297.8 555.8,296.6 555.5,295.9 555.5,297.6 555.6,293.0 556.5,293.9 556.5,291.8 556.5,290.7 556.3,290.2 556.7,288.9 557.2,289.1 557.1,286.9 557.1,284.5 556.9,285.1 557.5,284.5 557.9,281.1 558.5,280.2 559.4,280.7 560.0,280.2 560.2,281.5 561.3,281.6 562.3,281.5 562.4,281.9 563.0,284.6 563.9,284.3 564.4,284.4 565.3,286.7 565.8,283.6 566.5,284.9 566.9,282.5 567.3,279.5 567.7,282.2 568.0,283.3 569.2,284.2 569.9,287.4 569.4,287.9 570.4,288.4 570.4,291.2 571.2,293.1 571.5,290.5 571.8,294.4 572.0,293.7 573.0,292.6 573.6,290.9 573.8,289.8 574.2,288.5 575.4,288.1 575.8,288.8 576.9,287.5 577.4,287.6 577.7,291.6 578.3,288.5 578.8,290.1 579.4,291.0 579.8,288.9 580.5,289.6 581.0,287.7 581.5,286.7 581.7,284.8 582.9,284.9 584.1,285.6 584.1,285.9 584.9,287.4 585.0,287.8 585.7,288.7 586.2,292.2 586.1,289.2 586.6,292.5 586.6,293.0 587.0,293.6 587.5,294.7 588.3,295.5 588.9,298.7 588.7,300.3 589.5,299.0 590.0,297.1 590.3,296.7 590.8,295.9 591.2,292.4 591.0,292.1 591.5,291.2 592.5,289.6 593.1,288.7 593.7,288.6 593.5,288.2 594.6,286.6 595.6,286.3 596.0,284.6 597.1,284.5 598.4,286.0 599.0,284.2 599.6,286.7 600.3,288.8 601.5,289.4 601.8,288.2 602.9,290.3 603.7,287.5 604.5,288.0 604.7,288.8 605.2,287.6 606.4,291.3 606.6,291.3 608.0,289.7 608.8,289.7 609.1,290.2 608.7,292.4 609.3,292.3 609.7,293.5 609.6,294.3 610.2,295.9 610.6,297.0 611.1,299.1 611.2,298.8 611.4,298.6 611.7,295.3 612.2,296.6 611.7,294.0 612.1,292.9 612.9,291.1 612.9,292.6 613.3,290.3 613.2,288.7 614.7,286.8 615.1,287.7 616.0,288.1 616.4,287.0 617.3,289.1 618.0,291.4 618.8,291.2 620.2,289.7 620.9,293.1 621.9,291.0 622.8,293.0 624.2,293.5 625.9,297.1 626.7,297.7 627.1,296.0 628.2,296.6 628.0,297.5 628.7,298.8 629.3,300.0 629.3,301.9 629.5,302.8 629.5,302.3 630.0,305.4 630.0,305.3 630.3,304.8 630.6,304.9 631.5,305.2 631.9,300.2 631.7,301.1 632.2,300.1 632.5,299.5 633.4,295.4 634.1,296.5" fill="none" stroke="#000" stroke-width="1.3" stroke-linejoin="round"/>
<polyline points="387.3,300.6 388.6,300.3 389.3,303.5 389.9,304.7 390.5,302.0 391.8,304.0 392.5,304.2 393.5,304.0 394.3,302.6 395.1,303.6 395.7,301.1 396.5,300.7 397.8,297.2 398.1,298.7 399.1,297.9 399.9,297.9 400.3,294.6 400.5,295.3 399.9,295.0 399.9,293.1 400.2,290.5 400.7,291.6 400.3,289.1 400.1,288.0 400.6,288.3 400.7,287.6 400.9,285.0 400.7,283.4 400.6,282.4 400.8,281.4 400.8,280.1 401.3,279.5 401.2,278.4 401.2,277.1 401.4,276.9 401.1,273.8 401.1,277.1 401.4,276.5 401.1,278.5 401.6,279.9 401.8,281.0 401.9,281.1 402.0,281.8 401.7,283.5 401.5,284.8 402.2,285.9 401.8,288.0 402.2,291.0 402.2,288.1 401.9,290.9 402.0,291.3 402.5,292.8 402.2,294.6 402.1,295.5 402.5,296.6 403.0,297.5 403.1,299.0 403.3,299.4 403.0,301.0 403.0,302.6 403.0,303.6 403.5,304.5 403.4,305.7 404.7,306.0 405.3,306.0 406.4,307.9 407.3,307.5 408.4,304.7 408.5,304.7 409.4,305.3 409.5,303.9 410.8,305.0 411.3,306.6 411.6,307.7 412.1,308.6 413.1,306.9 413.7,304.9 414.3,304.4 414.6,302.9 416.0,301.9 417.7,299.6 418.1,303.7 418.2,306.6 418.7,305.9 419.3,306.4 420.0,308.3 420.9,309.3 421.9,307.9 422.5,309.8 423.3,310.8 423.8,310.9 424.6,312.1 425.8,312.0 426.2,314.7 427.7,314.9 428.8,313.5 429.6,313.1 430.4,313.8 431.9,315.4 432.3,316.8 433.3,315.1 434.7,312.4 435.4,315.4 435.9,317.7 436.6,318.6 436.7,320.0 437.2,320.7 437.7,317.6 437.8,316.5 438.2,317.3 438.2,313.9 438.5,312.8 438.9,313.3 438.6,311.7 439.4,310.9 439.3,309.1 439.6,306.6 439.9,305.1 439.7,303.3 440.7,305.6 441.8,306.0 442.3,308.3 443.3,308.1 444.8,308.2 445.5,307.3 446.5,307.3 447.0,305.9 447.8,307.4 448.2,309.0 449.1,309.3 450.1,310.2 450.9,308.5 451.2,306.8 452.3,307.5 453.2,305.8 453.3,306.6 453.9,304.7 454.8,303.6" fill="none" stroke="#3f80c0" stroke-width="1.25" stroke-linejoin="round"/>
<polyline points="502.7,300.3 503.3,303.1 504.3,304.0 505.7,304.9 506.4,303.7 506.7,305.6 507.5,307.4 508.3,303.8 509.2,303.5 510.0,303.5 510.7,301.6 511.8,303.9 511.7,305.7 512.7,305.4 512.8,307.3 513.1,305.9 513.4,303.5 513.4,302.6 514.0,300.6 513.9,300.9 514.1,299.7 514.1,297.2 514.1,296.9 515.0,296.2 514.8,294.2 515.3,293.0 515.9,294.1 516.5,292.7 516.5,291.7 516.8,292.0 517.1,295.2 517.6,296.0 517.4,296.0 518.1,297.7 518.4,298.1 518.6,301.1 518.8,301.4 518.9,301.2 519.3,304.5 519.9,303.7 519.7,304.5 520.1,306.4 520.0,308.9 520.4,308.6 521.2,309.3 521.0,311.3 521.2,310.4 522.1,308.1 522.4,308.5 522.9,305.7 523.1,306.2 523.0,305.6 524.0,304.2 524.2,301.5 524.2,300.4 524.5,301.3 524.2,300.1 524.5,298.8 525.3,296.1 525.1,296.0 525.3,293.9 525.3,292.7 525.7,293.1 526.2,291.2 526.3,289.3 526.7,290.4 526.5,288.8 526.7,285.8 527.2,285.5 527.0,285.5 527.6,286.2 527.8,286.1 527.7,288.8 527.8,289.6 528.0,291.6 528.2,291.1 529.1,293.0 529.0,294.0" fill="none" stroke="#3f80c0" stroke-width="1.25" stroke-linejoin="round"/>
<polyline points="533.0,299.9 533.3,300.4 534.2,300.4 534.1,301.8 534.1,303.9 534.2,305.3 534.8,305.1 535.0,307.4 535.4,309.1 535.5,308.7 535.5,310.8 535.7,310.5 536.7,310.0 536.8,308.1 536.9,306.5 537.1,307.2 538.2,305.3 538.2,305.1 538.8,303.8 538.8,306.8 538.9,307.2 539.7,309.3 539.6,308.4 540.0,309.1 540.4,310.3 540.7,313.2 540.9,312.3 541.4,313.1 541.9,310.8 542.7,309.9 542.8,308.7 543.8,310.6 544.7,310.9 545.6,310.0 546.9,310.0 547.9,311.1 548.6,309.7 549.6,310.7 550.7,311.8 551.3,312.7 552.2,310.8 553.0,309.2 553.7,309.2 554.0,308.9 554.6,307.5 555.1,307.1 555.7,305.3 556.8,305.5 557.5,302.6 557.7,301.8 558.3,301.8 559.1,301.1 559.4,297.6 560.8,301.9 562.5,303.6 562.7,300.9 563.7,303.7 564.8,303.5 565.1,303.2 566.3,302.6 567.4,300.3 567.8,301.7 568.6,300.7 569.2,299.4 571.1,299.4 572.3,298.7 572.2,298.7 572.7,298.9 573.3,301.0 573.9,303.2 574.4,303.9 574.8,304.5 576.0,304.8 577.0,305.0 577.1,305.1 577.4,303.4 578.1,302.7 578.3,301.0 578.9,300.7 579.0,299.7 579.7,299.9 580.2,297.3 580.5,297.5 581.2,294.6 581.9,293.0 582.7,292.6 583.5,291.1 584.0,291.6 584.4,293.6 584.8,291.2 584.8,292.4 585.0,296.5 585.0,296.6 585.1,299.7 585.3,299.1 585.8,301.3 585.6,300.8 586.2,300.1 586.9,298.8 587.1,298.2 588.2,301.1 589.3,300.0 589.6,301.6 590.4,300.2 591.7,299.2 591.5,298.4 591.6,295.5 592.6,295.9 592.9,294.9 592.5,293.8 593.1,291.5 593.7,291.0 593.7,290.3 593.7,289.9 594.5,287.1 595.5,286.3 596.4,285.9 596.6,287.8 597.2,288.8 597.4,289.2 598.0,290.5 598.3,291.3 598.7,293.9 599.1,291.4 600.0,293.8 600.3,293.1 601.1,293.3 601.4,291.8 602.5,289.0 602.9,288.6 603.0,286.8 603.8,285.8 604.4,287.2 605.1,284.8 606.0,284.8 606.7,284.8 606.8,285.2 607.1,287.8 607.5,287.1 607.7,289.9 608.0,289.3 607.7,292.3 608.5,294.6 608.4,295.1 608.7,296.8 609.3,297.0 609.4,297.4 610.3,297.7 610.5,298.3 610.3,301.5 611.1,301.5 611.6,300.8 611.2,299.1 611.6,298.9 612.4,298.1 612.4,296.9 612.7,292.2 613.2,292.5 613.3,292.0 613.2,290.4 613.6,289.9 614.3,290.0 614.8,287.6 615.6,287.1 616.2,285.6 616.5,287.8 617.5,288.0 618.4,291.5 619.0,290.4 619.1,292.0 619.8,292.0 620.3,293.6 621.4,293.9 622.7,294.8 623.2,294.5 624.5,295.6 625.8,297.3 626.0,297.0 627.4,297.9 628.1,298.9 628.4,299.9 628.9,300.6 629.1,301.2 629.1,304.2 629.7,304.6 629.9,305.8 629.8,305.8 630.8,307.2 631.0,306.6 632.2,305.8 633.2,305.7 633.4,302.8 633.1,300.1 634.2,301.8 634.1,298.9" fill="none" stroke="#3f80c0" stroke-width="1.25" stroke-linejoin="round"/>
<polygon points="384.2,340.3 392.8,340.3 388.5,332.0" fill="#1f77b4" stroke="none" stroke-width="1" />
<polygon points="409.7,340.3 418.3,340.3 414.0,332.0" fill="#ff7f0e" stroke="none" stroke-width="1" />
<polygon points="451.7,340.3 460.3,340.3 456.0,332.0" fill="#2ca02c" stroke="none" stroke-width="1" />
<polygon points="499.4,340.3 508.0,340.3 503.7,332.0" fill="#d62728" stroke="none" stroke-width="1" />
<polygon points="541.3,340.3 549.9,340.3 545.6,332.0" fill="#9467bd" stroke="none" stroke-width="1" />
<polygon points="580.3,340.3 588.9,340.3 584.6,332.0" fill="#8c564b" stroke="none" stroke-width="1" />
<polygon points="622.5,340.3 631.1,340.3 626.8,332.0" fill="#e377c2" stroke="none" stroke-width="1" />
<rect x="529.8" y="186.5" width="99.2" height="33.5" rx="2" fill="#ffffff" fill-opacity="0.8" stroke="#d6d6d6" stroke-width="0.8"/>
<line x1="533.50" y1="194.80" x2="555.50" y2="194.80" stroke="#555" stroke-width="1.5" />
<line x1="533.50" y1="210.20" x2="555.50" y2="210.20" stroke="#3d7fbf" stroke-width="1.0" />
<text x="564.10" y="198.40" font-size="10.96" text-anchor="start" font-weight="normal" fill="#1a1a1a" stroke="#1a1a1a" stroke-width="0.22" textLength="60.95" lengthAdjust="spacingAndGlyphs">thermocline</text>
<text x="564.10" y="213.60" font-size="10.96" text-anchor="start" font-weight="normal" fill="#1a1a1a" stroke="#1a1a1a" stroke-width="0.22" textLength="45.81" lengthAdjust="spacingAndGlyphs">halocline</text>
<rect x="360.5" y="181.5" width="275.0" height="159.0" fill="none" stroke="#262626" stroke-width="1"/>
<line x1="357.00" y1="185.60" x2="360.50" y2="185.60" stroke="#222" stroke-width="0.9" />
<text x="354.60" y="189.90" font-size="11.02" text-anchor="end" font-weight="normal" fill="#1a1a1a" stroke="#1a1a1a" stroke-width="0.22" textLength="6.52" lengthAdjust="spacingAndGlyphs">0</text>
<line x1="357.00" y1="229.83" x2="360.50" y2="229.83" stroke="#222" stroke-width="0.9" />
<text x="354.60" y="234.13" font-size="11.02" text-anchor="end" font-weight="normal" fill="#1a1a1a" stroke="#1a1a1a" stroke-width="0.22" textLength="13.04" lengthAdjust="spacingAndGlyphs">20</text>
<line x1="357.00" y1="274.07" x2="360.50" y2="274.07" stroke="#222" stroke-width="0.9" />
<text x="354.60" y="278.37" font-size="11.02" text-anchor="end" font-weight="normal" fill="#1a1a1a" stroke="#1a1a1a" stroke-width="0.22" textLength="13.04" lengthAdjust="spacingAndGlyphs">40</text>
<line x1="357.00" y1="318.30" x2="360.50" y2="318.30" stroke="#222" stroke-width="0.9" />
<text x="354.60" y="322.60" font-size="11.02" text-anchor="end" font-weight="normal" fill="#1a1a1a" stroke="#1a1a1a" stroke-width="0.22" textLength="13.04" lengthAdjust="spacingAndGlyphs">60</text>
<line x1="374.50" y1="340.50" x2="374.50" y2="344.00" stroke="#222" stroke-width="0.9" />
<text x="374.50" y="353.70" font-size="11.02" text-anchor="middle" font-weight="normal" fill="#1a1a1a" stroke="#1a1a1a" stroke-width="0.22" textLength="47.79" lengthAdjust="spacingAndGlyphs">2022-Oct</text>
<line x1="461.00" y1="340.50" x2="461.00" y2="344.00" stroke="#222" stroke-width="0.9" />
<text x="461.00" y="353.70" font-size="11.02" text-anchor="middle" font-weight="normal" fill="#1a1a1a" stroke="#1a1a1a" stroke-width="0.22" textLength="49.79" lengthAdjust="spacingAndGlyphs">2022-Nov</text>
<line x1="545.50" y1="340.50" x2="545.50" y2="344.00" stroke="#222" stroke-width="0.9" />
<text x="545.50" y="353.70" font-size="11.02" text-anchor="middle" font-weight="normal" fill="#1a1a1a" stroke="#1a1a1a" stroke-width="0.22" textLength="49.62" lengthAdjust="spacingAndGlyphs">2022-Dec</text>
<line x1="632.30" y1="340.50" x2="632.30" y2="344.00" stroke="#222" stroke-width="0.9" />
<text x="632.30" y="353.70" font-size="11.02" text-anchor="middle" font-weight="normal" fill="#1a1a1a" stroke="#1a1a1a" stroke-width="0.22" textLength="46.16" lengthAdjust="spacingAndGlyphs">2023-Jan</text>
<line x1="413.60" y1="340.50" x2="413.60" y2="342.50" stroke="#222" stroke-width="0.7" />
<line x1="503.30" y1="340.50" x2="503.30" y2="342.50" stroke="#222" stroke-width="0.7" />
<line x1="584.30" y1="340.50" x2="584.30" y2="342.50" stroke="#222" stroke-width="0.7" />
<text x="497.50" y="366.90" font-size="10.96" text-anchor="middle" font-weight="normal" fill="#1a1a1a" stroke="#1a1a1a" stroke-width="0.22" textLength="24.38" lengthAdjust="spacingAndGlyphs">Date</text>
<text transform="translate(336.70,260.80) rotate(-90)" font-size="10.86" text-anchor="middle" font-weight="normal" fill="#1a1a1a" stroke="#1a1a1a" stroke-width="0.22" textLength="51.69" lengthAdjust="spacingAndGlyphs">Depth (m)</text>
<text x="363.80" y="332.80" font-size="15.60" text-anchor="start" font-weight="bold" fill="#000" textLength="10.74" lengthAdjust="spacingAndGlyphs">d</text>
<defs><linearGradient id="cbd" x1="0" y1="1" x2="0" y2="0"><stop offset="0.0000" stop-color="#fdf6f2"/><stop offset="0.0625" stop-color="#fcebe4"/><stop offset="0.1250" stop-color="#fae1d6"/><stop offset="0.1875" stop-color="#f8cfbe"/><stop offset="0.2500" stop-color="#f7bda6"/><stop offset="0.3125" stop-color="#f7a88e"/><stop offset="0.3750" stop-color="#f89475"/><stop offset="0.4375" stop-color="#f97f60"/><stop offset="0.5000" stop-color="#fb6a4a"/><stop offset="0.5625" stop-color="#f5523b"/><stop offset="0.6250" stop-color="#ef3b2c"/><stop offset="0.6875" stop-color="#dd2a24"/><stop offset="0.7500" stop-color="#cb181d"/><stop offset="0.8125" stop-color="#b81419"/><stop offset="0.8750" stop-color="#a50f15"/><stop offset="0.9375" stop-color="#860811"/><stop offset="1.0000" stop-color="#67000d"/></linearGradient></defs>
<rect x="641.5" y="181.5" width="8" height="159" fill="url(#cbd)" stroke="#262626" stroke-width="1"/>
<line x1="649.50" y1="324.40" x2="653.00" y2="324.40" stroke="#262626" stroke-width="0.9" />
<text x="654.60" y="328.70" font-size="11.02" fill="#1a1a1a" stroke="#1a1a1a" stroke-width="0.22" textLength="13.04" lengthAdjust="spacingAndGlyphs">10</text>
<text x="667.64" y="324.60" font-size="7.71" fill="#1a1a1a" stroke="#1a1a1a" stroke-width="0.15" textLength="4.56" lengthAdjust="spacingAndGlyphs">1</text>
<line x1="649.50" y1="271.40" x2="653.00" y2="271.40" stroke="#262626" stroke-width="0.9" />
<text x="654.60" y="275.70" font-size="11.02" fill="#1a1a1a" stroke="#1a1a1a" stroke-width="0.22" textLength="13.04" lengthAdjust="spacingAndGlyphs">10</text>
<text x="667.64" y="271.60" font-size="7.71" fill="#1a1a1a" stroke="#1a1a1a" stroke-width="0.15" textLength="4.56" lengthAdjust="spacingAndGlyphs">2</text>
<line x1="649.50" y1="218.40" x2="653.00" y2="218.40" stroke="#262626" stroke-width="0.9" />
<text x="654.60" y="222.70" font-size="11.02" fill="#1a1a1a" stroke="#1a1a1a" stroke-width="0.22" textLength="13.04" lengthAdjust="spacingAndGlyphs">10</text>
<text x="667.64" y="218.60" font-size="7.71" fill="#1a1a1a" stroke="#1a1a1a" stroke-width="0.15" textLength="4.56" lengthAdjust="spacingAndGlyphs">3</text>
<line x1="649.50" y1="340.35" x2="651.50" y2="340.35" stroke="#262626" stroke-width="0.6" />
<line x1="649.50" y1="336.16" x2="651.50" y2="336.16" stroke="#262626" stroke-width="0.6" />
<line x1="649.50" y1="332.61" x2="651.50" y2="332.61" stroke="#262626" stroke-width="0.6" />
<line x1="649.50" y1="329.54" x2="651.50" y2="329.54" stroke="#262626" stroke-width="0.6" />
<line x1="649.50" y1="326.83" x2="651.50" y2="326.83" stroke="#262626" stroke-width="0.6" />
<line x1="649.50" y1="308.45" x2="651.50" y2="308.45" stroke="#262626" stroke-width="0.6" />
<line x1="649.50" y1="299.11" x2="651.50" y2="299.11" stroke="#262626" stroke-width="0.6" />
<line x1="649.50" y1="292.49" x2="651.50" y2="292.49" stroke="#262626" stroke-width="0.6" />
<line x1="649.50" y1="287.35" x2="651.50" y2="287.35" stroke="#262626" stroke-width="0.6" />
<line x1="649.50" y1="283.16" x2="651.50" y2="283.16" stroke="#262626" stroke-width="0.6" />
<line x1="649.50" y1="279.61" x2="651.50" y2="279.61" stroke="#262626" stroke-width="0.6" />
<line x1="649.50" y1="276.54" x2="651.50" y2="276.54" stroke="#262626" stroke-width="0.6" />
<line x1="649.50" y1="273.83" x2="651.50" y2="273.83" stroke="#262626" stroke-width="0.6" />
<line x1="649.50" y1="255.45" x2="651.50" y2="255.45" stroke="#262626" stroke-width="0.6" />
<line x1="649.50" y1="246.11" x2="651.50" y2="246.11" stroke="#262626" stroke-width="0.6" />
<line x1="649.50" y1="239.49" x2="651.50" y2="239.49" stroke="#262626" stroke-width="0.6" />
<line x1="649.50" y1="234.35" x2="651.50" y2="234.35" stroke="#262626" stroke-width="0.6" />
<line x1="649.50" y1="230.16" x2="651.50" y2="230.16" stroke="#262626" stroke-width="0.6" />
<line x1="649.50" y1="226.61" x2="651.50" y2="226.61" stroke="#262626" stroke-width="0.6" />
<line x1="649.50" y1="223.54" x2="651.50" y2="223.54" stroke="#262626" stroke-width="0.6" />
<line x1="649.50" y1="220.83" x2="651.50" y2="220.83" stroke="#262626" stroke-width="0.6" />
<line x1="649.50" y1="202.45" x2="651.50" y2="202.45" stroke="#262626" stroke-width="0.6" />
<line x1="649.50" y1="193.11" x2="651.50" y2="193.11" stroke="#262626" stroke-width="0.6" />
<line x1="649.50" y1="186.49" x2="651.50" y2="186.49" stroke="#262626" stroke-width="0.6" />
<text transform="translate(682.90,260.90) rotate(-90)" font-size="10.96" text-anchor="middle" font-weight="normal" fill="#1a1a1a" stroke="#1a1a1a" stroke-width="0.22" textLength="101.40" lengthAdjust="spacingAndGlyphs">Methane conc. [nM]</text>
</svg></body></html>
